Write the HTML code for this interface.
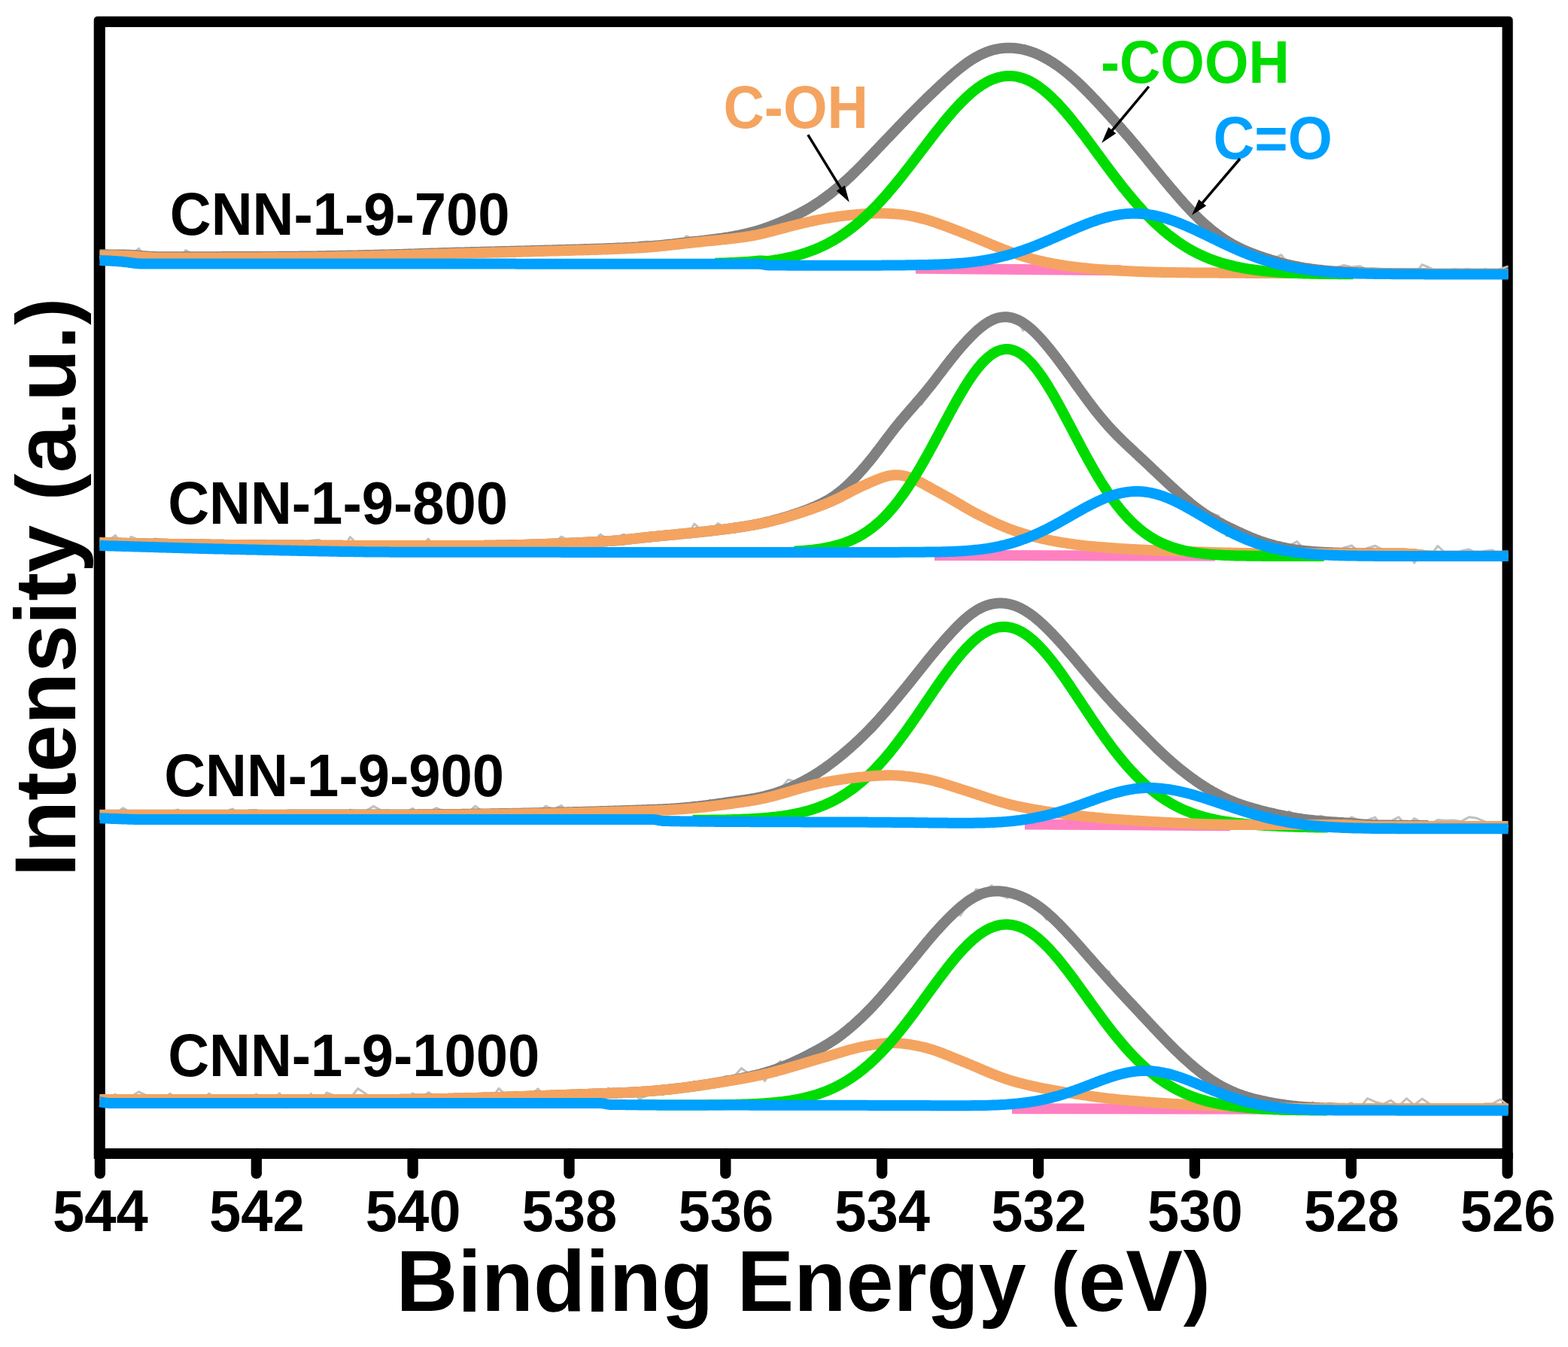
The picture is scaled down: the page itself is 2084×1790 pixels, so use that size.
<!DOCTYPE html>
<html><head><meta charset="utf-8"><title>XPS O 1s spectra</title>
<style>html,body{margin:0;padding:0;background:#fff}svg{display:block}text{font-family:"Liberation Sans",sans-serif;font-weight:bold}</style>
</head><body>
<svg xmlns="http://www.w3.org/2000/svg" width="2084" height="1790" viewBox="0 0 2084 1790">
<rect x="0" y="0" width="2084" height="1790" fill="#fff"/>
<path fill="#000" fill-rule="evenodd" d="M124.7,1540 L124.7,27.2 Q124.7,21.7 130.2,21.7 L2005.2,21.7 Q2010.7,21.7 2010.7,27.2 L2010.7,1540 Z M139.8,36 L1996.5,36 L1996.5,1526 L139.8,1526 Z"/>
<line x1="132.9" y1="1533.0" x2="132.9" y2="1559.4" stroke="#000" stroke-width="14.3" stroke-linecap="round"/>
<text transform="translate(133.4,1636.0) scale(1,1.035)" font-size="76" fill="#000" text-anchor="middle">544</text>
<line x1="340.8" y1="1533.0" x2="340.8" y2="1559.4" stroke="#000" stroke-width="14.3" stroke-linecap="round"/>
<text transform="translate(341.3,1636.0) scale(1,1.035)" font-size="76" fill="#000" text-anchor="middle">542</text>
<line x1="548.6" y1="1533.0" x2="548.6" y2="1559.4" stroke="#000" stroke-width="14.3" stroke-linecap="round"/>
<text transform="translate(549.1,1636.0) scale(1,1.035)" font-size="76" fill="#000" text-anchor="middle">540</text>
<line x1="756.5" y1="1533.0" x2="756.5" y2="1559.4" stroke="#000" stroke-width="14.3" stroke-linecap="round"/>
<text transform="translate(757.0,1636.0) scale(1,1.035)" font-size="76" fill="#000" text-anchor="middle">538</text>
<line x1="964.3" y1="1533.0" x2="964.3" y2="1559.4" stroke="#000" stroke-width="14.3" stroke-linecap="round"/>
<text transform="translate(964.8,1636.0) scale(1,1.035)" font-size="76" fill="#000" text-anchor="middle">536</text>
<line x1="1172.2" y1="1533.0" x2="1172.2" y2="1559.4" stroke="#000" stroke-width="14.3" stroke-linecap="round"/>
<text transform="translate(1172.7,1636.0) scale(1,1.035)" font-size="76" fill="#000" text-anchor="middle">534</text>
<line x1="1380.1" y1="1533.0" x2="1380.1" y2="1559.4" stroke="#000" stroke-width="14.3" stroke-linecap="round"/>
<text transform="translate(1380.6,1636.0) scale(1,1.035)" font-size="76" fill="#000" text-anchor="middle">532</text>
<line x1="1587.9" y1="1533.0" x2="1587.9" y2="1559.4" stroke="#000" stroke-width="14.3" stroke-linecap="round"/>
<text transform="translate(1588.4,1636.0) scale(1,1.035)" font-size="76" fill="#000" text-anchor="middle">530</text>
<line x1="1795.8" y1="1533.0" x2="1795.8" y2="1559.4" stroke="#000" stroke-width="14.3" stroke-linecap="round"/>
<text transform="translate(1796.3,1636.0) scale(1,1.035)" font-size="76" fill="#000" text-anchor="middle">528</text>
<line x1="2003.6" y1="1533.0" x2="2003.6" y2="1559.4" stroke="#000" stroke-width="14.3" stroke-linecap="round"/>
<text transform="translate(2004.1,1636.0) scale(1,1.035)" font-size="76" fill="#000" text-anchor="middle">526</text>
<g fill="none" stroke-linejoin="round" stroke-linecap="butt">
<path d="M132.5,342.5 L142.9,334.7 L153.3,335.1 L163.7,333.3 L174.1,340.4 L184.5,330.0 L194.9,345.1 L205.3,336.9 L215.7,340.9 L226.1,338.9 L236.5,344.9 L246.9,332.5 L257.3,338.6 L267.7,338.4 L278.1,343.7 L288.5,335.8 L298.9,339.0 L309.3,336.5 L319.7,339.7 L330.1,341.6 L340.5,335.6 L350.9,343.4 L361.3,342.5 L371.7,341.1 L382.1,342.4 L392.5,336.8 L402.9,338.7 L413.3,335.7 L423.7,337.9 L434.1,340.5 L444.5,336.0 L454.9,336.9 L465.3,335.6 L475.7,334.9 L486.1,335.3 L496.5,337.3 L506.9,333.2 L517.3,337.7 L527.7,342.4 L538.1,338.8 L548.5,335.3 L558.9,332.5 L569.3,332.6 L579.7,340.8 L590.1,334.8 L600.5,332.1 L610.9,334.7 L621.3,341.1 L631.7,333.9 L642.1,335.4 L652.5,334.0 L662.9,331.5 L673.3,328.5 L683.7,331.0 L694.1,331.2 L704.5,333.7 L714.9,334.3 L725.3,334.3 L735.7,331.8 L746.1,333.6 L756.5,327.6 L766.9,334.3 L777.3,331.4 L787.7,328.3 L798.1,330.7 L808.5,328.3 L818.9,332.2 L829.3,333.1 L839.7,334.9 L850.1,321.8 L860.5,320.9 L870.9,323.3 L881.3,324.6 L891.7,326.0 L902.1,322.9 L912.5,313.7 L922.9,318.8 L933.3,321.7 L943.7,318.6 L954.1,319.3 L964.5,314.4 L974.9,312.8 L985.3,312.3 L995.7,310.9 L1006.1,307.4 L1016.5,303.8 L1026.9,297.2 L1037.3,296.7 L1047.7,291.3 L1058.1,289.9 L1068.5,284.7 L1078.9,275.1 L1089.3,266.4 L1099.7,258.1 L1110.1,253.6 L1120.5,243.5 L1130.9,232.6 L1141.3,223.8 L1151.7,210.8 L1162.1,204.5 L1172.5,189.6 L1182.9,184.6 L1193.3,170.9 L1203.7,160.7 L1214.1,144.2 L1224.5,138.2 L1234.9,130.1 L1245.3,114.3 L1255.7,107.1 L1266.1,98.9 L1276.5,85.4 L1286.9,83.6 L1297.3,78.9 L1307.7,67.7 L1318.1,68.2 L1328.5,60.0 L1338.9,63.6 L1349.3,58.4 L1359.7,69.7 L1370.1,70.1 L1380.5,72.7 L1390.9,75.4 L1401.3,88.9 L1411.7,98.8 L1422.1,93.7 L1432.5,113.9 L1442.9,125.3 L1453.3,131.5 L1463.7,137.2 L1474.1,155.8 L1484.5,163.8 L1494.9,174.1 L1505.3,184.0 L1515.7,202.7 L1526.1,216.2 L1536.5,224.0 L1546.9,240.7 L1557.3,247.3 L1567.7,266.2 L1578.1,275.1 L1588.5,285.1 L1598.9,295.4 L1609.3,307.8 L1619.7,315.4 L1630.1,321.7 L1640.5,326.5 L1650.9,331.4 L1661.3,337.3 L1671.7,339.5 L1682.1,344.2 L1692.5,343.6 L1702.9,338.7 L1713.3,353.1 L1723.7,359.0 L1734.1,354.4 L1744.5,353.6 L1754.9,354.3 L1765.3,355.0 L1775.7,355.9 L1786.1,352.4 L1796.5,355.0 L1806.9,353.7 L1817.3,358.4 L1827.7,356.7 L1838.1,359.6 L1848.5,357.4 L1858.9,361.6 L1869.3,358.9 L1879.7,365.9 L1890.1,351.6 L1900.5,356.0 L1910.9,361.5 L1921.3,367.2 L1931.7,357.5 L1942.1,358.5 L1952.5,357.6 L1962.9,363.0 L1973.3,357.4 L1983.7,360.8 L1994.1,357.3 L2004.5,353.9" stroke="#c0c0c0" stroke-width="3" />
<path d="M1217.0,356.8 L1490.0,359.3" stroke="#ff80c0" stroke-width="14" />
<path d="M132.5,338.3 L134.5,338.3 L136.5,338.3 L138.5,338.3 L140.5,338.3 L142.5,338.3 L144.5,338.4 L146.5,338.4 L148.5,338.4 L150.5,338.4 L152.5,338.4 L154.5,338.4 L156.5,338.4 L158.5,338.5 L160.5,338.5 L162.5,338.5 L164.5,338.6 L166.5,338.6 L168.5,338.7 L170.5,338.7 L172.5,338.8 L174.5,338.9 L176.5,339.0 L178.5,339.1 L180.5,339.2 L182.5,339.4 L184.5,339.6 L186.5,339.7 L188.5,339.9 L190.5,340.1 L192.5,340.3 L194.5,340.5 L196.5,340.6 L198.5,340.8 L200.5,340.9 L202.5,341.0 L204.5,341.1 L206.5,341.1 L208.5,341.2 L210.5,341.2 L212.5,341.2 L214.5,341.3 L216.5,341.3 L218.5,341.3 L220.5,341.3 L222.5,341.3 L224.5,341.3 L226.5,341.3 L228.5,341.3 L230.5,341.3 L232.5,341.3 L234.5,341.3 L236.5,341.3 L238.5,341.3 L240.5,341.3 L242.5,341.3 L244.5,341.3 L246.5,341.3 L248.5,341.3 L250.5,341.3 L252.5,341.2 L254.5,341.2 L256.5,341.2 L258.5,341.2 L260.5,341.2 L262.5,341.2 L264.5,341.2 L266.5,341.2 L268.5,341.2 L270.5,341.2 L272.5,341.2 L274.5,341.2 L276.5,341.2 L278.5,341.2 L280.5,341.2 L282.5,341.2 L284.5,341.2 L286.5,341.2 L288.5,341.2 L290.5,341.2 L292.5,341.2 L294.5,341.1 L296.5,341.1 L298.5,341.1 L300.5,341.1 L302.5,341.1 L304.5,341.1 L306.5,341.1 L308.5,341.1 L310.5,341.1 L312.5,341.1 L314.5,341.1 L316.5,341.1 L318.5,341.1 L320.5,341.1 L322.5,341.1 L324.5,341.0 L326.5,341.0 L328.5,341.0 L330.5,341.0 L332.5,341.0 L334.5,341.0 L336.5,341.0 L338.5,341.0 L340.5,341.0 L342.5,341.0 L344.5,341.0 L346.5,341.0 L348.5,340.9 L350.5,340.9 L352.5,340.9 L354.5,340.9 L356.5,340.9 L358.5,340.9 L360.5,340.9 L362.5,340.9 L364.5,340.9 L366.5,340.9 L368.5,340.9 L370.5,340.8 L372.5,340.8 L374.5,340.8 L376.5,340.8 L378.5,340.8 L380.5,340.8 L382.5,340.8 L384.5,340.8 L386.5,340.7 L388.5,340.7 L390.5,340.7 L392.5,340.7 L394.5,340.7 L396.5,340.7 L398.5,340.6 L400.5,340.6 L402.5,340.6 L404.5,340.6 L406.5,340.6 L408.5,340.5 L410.5,340.5 L412.5,340.5 L414.5,340.5 L416.5,340.4 L418.5,340.4 L420.5,340.4 L422.5,340.3 L424.5,340.3 L426.5,340.3 L428.5,340.2 L430.5,340.2 L432.5,340.2 L434.5,340.1 L436.5,340.1 L438.5,340.1 L440.5,340.0 L442.5,340.0 L444.5,340.0 L446.5,339.9 L448.5,339.9 L450.5,339.8 L452.5,339.8 L454.5,339.8 L456.5,339.7 L458.5,339.7 L460.5,339.6 L462.5,339.6 L464.5,339.6 L466.5,339.5 L468.5,339.5 L470.5,339.4 L472.5,339.4 L474.5,339.4 L476.5,339.3 L478.5,339.3 L480.5,339.2 L482.5,339.2 L484.5,339.1 L486.5,339.1 L488.5,339.0 L490.5,339.0 L492.5,339.0 L494.5,338.9 L496.5,338.9 L498.5,338.8 L500.5,338.8 L502.5,338.7 L504.5,338.7 L506.5,338.6 L508.5,338.6 L510.5,338.5 L512.5,338.5 L514.5,338.4 L516.5,338.4 L518.5,338.3 L520.5,338.3 L522.5,338.2 L524.5,338.2 L526.5,338.1 L528.5,338.0 L530.5,338.0 L532.5,337.9 L534.5,337.9 L536.5,337.8 L538.5,337.7 L540.5,337.7 L542.5,337.6 L544.5,337.5 L546.5,337.5 L548.5,337.4 L550.5,337.4 L552.5,337.3 L554.5,337.2 L556.5,337.2 L558.5,337.1 L560.5,337.0 L562.5,337.0 L564.5,336.9 L566.5,336.8 L568.5,336.8 L570.5,336.7 L572.5,336.6 L574.5,336.6 L576.5,336.5 L578.5,336.5 L580.5,336.4 L582.5,336.3 L584.5,336.3 L586.5,336.2 L588.5,336.1 L590.5,336.1 L592.5,336.0 L594.5,336.0 L596.5,335.9 L598.5,335.9 L600.5,335.8 L602.5,335.7 L604.5,335.7 L606.5,335.6 L608.5,335.6 L610.5,335.5 L612.5,335.5 L614.5,335.4 L616.5,335.4 L618.5,335.3 L620.5,335.3 L622.5,335.2 L624.5,335.2 L626.5,335.1 L628.5,335.1 L630.5,335.0 L632.5,335.0 L634.5,334.9 L636.5,334.9 L638.5,334.8 L640.5,334.8 L642.5,334.7 L644.5,334.7 L646.5,334.6 L648.5,334.6 L650.5,334.5 L652.5,334.5 L654.5,334.4 L656.5,334.4 L658.5,334.3 L660.5,334.3 L662.5,334.2 L664.5,334.2 L666.5,334.1 L668.5,334.1 L670.5,334.0 L672.5,334.0 L674.5,333.9 L676.5,333.9 L678.5,333.8 L680.5,333.8 L682.5,333.7 L684.5,333.7 L686.5,333.6 L688.5,333.6 L690.5,333.5 L692.5,333.5 L694.5,333.4 L696.5,333.4 L698.5,333.3 L700.5,333.3 L702.5,333.2 L704.5,333.2 L706.5,333.1 L708.5,333.1 L710.5,333.0 L712.5,332.9 L714.5,332.9 L716.5,332.8 L718.5,332.8 L720.5,332.7 L722.5,332.7 L724.5,332.6 L726.5,332.6 L728.5,332.5 L730.5,332.4 L732.5,332.4 L734.5,332.3 L736.5,332.3 L738.5,332.2 L740.5,332.2 L742.5,332.1 L744.5,332.0 L746.5,332.0 L748.5,331.9 L750.5,331.9 L752.5,331.8 L754.5,331.8 L756.5,331.7 L758.5,331.7 L760.5,331.6 L762.5,331.5 L764.5,331.5 L766.5,331.4 L768.5,331.4 L770.5,331.3 L772.5,331.3 L774.5,331.2 L776.5,331.1 L778.5,331.1 L780.5,331.0 L782.5,331.0 L784.5,330.9 L786.5,330.8 L788.5,330.8 L790.5,330.7 L792.5,330.7 L794.5,330.6 L796.5,330.5 L798.5,330.5 L800.5,330.4 L802.5,330.3 L804.5,330.2 L806.5,330.2 L808.5,330.1 L810.5,330.0 L812.5,330.0 L814.5,329.9 L816.5,329.8 L818.5,329.7 L820.5,329.6 L822.5,329.6 L824.5,329.5 L826.5,329.4 L828.5,329.3 L830.5,329.2 L832.5,329.1 L834.5,329.0 L836.5,328.9 L838.5,328.8 L840.5,328.7 L842.5,328.6 L844.5,328.5 L846.5,328.4 L848.5,328.3 L850.5,328.2 L852.5,328.0 L854.5,327.9 L856.5,327.8 L858.5,327.6 L860.5,327.5 L862.5,327.3 L864.5,327.2 L866.5,327.0 L868.5,326.8 L870.5,326.6 L872.5,326.5 L874.5,326.3 L876.5,326.1 L878.5,325.9 L880.5,325.7 L882.5,325.5 L884.5,325.2 L886.5,325.0 L888.5,324.8 L890.5,324.6 L892.5,324.4 L894.5,324.2 L896.5,323.9 L898.5,323.7 L900.5,323.5 L902.5,323.3 L904.5,323.0 L906.5,322.8 L908.5,322.6 L910.5,322.4 L912.5,322.1 L914.5,321.9 L916.5,321.7 L918.5,321.5 L920.5,321.2 L922.5,321.0 L924.5,320.8 L926.5,320.6 L928.5,320.4 L930.5,320.1 L932.5,319.9 L934.5,319.7 L936.5,319.5 L938.5,319.2 L940.5,319.0 L942.5,318.8 L944.5,318.5 L946.5,318.3 L948.5,318.0 L950.5,317.8 L952.5,317.5 L954.5,317.2 L956.5,316.9 L958.5,316.7 L960.5,316.4 L962.5,316.0 L964.5,315.7 L966.5,315.4 L968.5,315.1 L970.5,314.7 L972.5,314.4 L974.5,314.0 L976.5,313.6 L978.5,313.2 L980.5,312.9 L982.5,312.5 L984.5,312.0 L986.5,311.6 L988.5,311.2 L990.5,310.7 L992.5,310.3 L994.5,309.8 L996.5,309.3 L998.5,308.8 L1000.5,308.3 L1002.5,307.8 L1004.5,307.2 L1006.5,306.6 L1008.5,306.0 L1010.5,305.4 L1012.5,304.8 L1014.5,304.1 L1016.5,303.4 L1018.5,302.7 L1020.5,302.0 L1022.5,301.2 L1024.5,300.5 L1026.5,299.7 L1028.5,298.9 L1030.5,298.2 L1032.5,297.4 L1034.5,296.5 L1036.5,295.7 L1038.5,294.9 L1040.5,294.0 L1042.5,293.2 L1044.5,292.3 L1046.5,291.4 L1048.5,290.5 L1050.5,289.6 L1052.5,288.7 L1054.5,287.7 L1056.5,286.7 L1058.5,285.7 L1060.5,284.7 L1062.5,283.7 L1064.5,282.6 L1066.5,281.6 L1068.5,280.5 L1070.5,279.4 L1072.5,278.2 L1074.5,277.1 L1076.5,275.9 L1078.5,274.7 L1080.5,273.5 L1082.5,272.2 L1084.5,270.9 L1086.5,269.6 L1088.5,268.3 L1090.5,266.9 L1092.5,265.5 L1094.5,264.1 L1096.5,262.7 L1098.5,261.2 L1100.5,259.7 L1102.5,258.2 L1104.5,256.6 L1106.5,255.0 L1108.5,253.4 L1110.5,251.8 L1112.5,250.1 L1114.5,248.5 L1116.5,246.8 L1118.5,245.0 L1120.5,243.3 L1122.5,241.5 L1124.5,239.7 L1126.5,237.9 L1128.5,236.0 L1130.5,234.2 L1132.5,232.3 L1134.5,230.3 L1136.5,228.4 L1138.5,226.4 L1140.5,224.4 L1142.5,222.4 L1144.5,220.4 L1146.5,218.4 L1148.5,216.3 L1150.5,214.2 L1152.5,212.1 L1154.5,210.0 L1156.5,208.0 L1158.5,205.9 L1160.5,203.8 L1162.5,201.7 L1164.5,199.6 L1166.5,197.5 L1168.5,195.4 L1170.5,193.3 L1172.5,191.2 L1174.5,189.1 L1176.5,187.0 L1178.5,184.9 L1180.5,182.9 L1182.5,180.8 L1184.5,178.7 L1186.5,176.6 L1188.5,174.5 L1190.5,172.4 L1192.5,170.3 L1194.5,168.2 L1196.5,166.1 L1198.5,164.0 L1200.5,162.0 L1202.5,159.9 L1204.5,157.8 L1206.5,155.7 L1208.5,153.7 L1210.5,151.6 L1212.5,149.6 L1214.5,147.6 L1216.5,145.6 L1218.5,143.6 L1220.5,141.6 L1222.5,139.6 L1224.5,137.6 L1226.5,135.7 L1228.5,133.7 L1230.5,131.8 L1232.5,129.8 L1234.5,127.9 L1236.5,126.0 L1238.5,124.1 L1240.5,122.2 L1242.5,120.3 L1244.5,118.4 L1246.5,116.5 L1248.5,114.6 L1250.5,112.8 L1252.5,110.9 L1254.5,109.1 L1256.5,107.3 L1258.5,105.5 L1260.5,103.7 L1262.5,101.9 L1264.5,100.2 L1266.5,98.4 L1268.5,96.7 L1270.5,95.1 L1272.5,93.4 L1274.5,91.8 L1276.5,90.2 L1278.5,88.6 L1280.5,87.1 L1282.5,85.6 L1284.5,84.2 L1286.5,82.7 L1288.5,81.4 L1290.5,80.0 L1292.5,78.8 L1294.5,77.5 L1296.5,76.4 L1298.5,75.2 L1300.5,74.2 L1302.5,73.1 L1304.5,72.2 L1306.5,71.2 L1308.5,70.4 L1310.5,69.6 L1312.5,68.8 L1314.5,68.1 L1316.5,67.4 L1318.5,66.8 L1320.5,66.3 L1322.5,65.8 L1324.5,65.4 L1326.5,65.0 L1328.5,64.6 L1330.5,64.3 L1332.5,64.1 L1334.5,63.9 L1336.5,63.8 L1338.5,63.7 L1340.5,63.7 L1342.5,63.7 L1344.5,63.7 L1346.5,63.9 L1348.5,64.0 L1350.5,64.2 L1352.5,64.5 L1354.5,64.8 L1356.5,65.1 L1358.5,65.5 L1360.5,65.9 L1362.5,66.4 L1364.5,67.0 L1366.5,67.5 L1368.5,68.2 L1370.5,68.8 L1372.5,69.5 L1374.5,70.3 L1376.5,71.1 L1378.5,71.9 L1380.5,72.8 L1382.5,73.7 L1384.5,74.7 L1386.5,75.7 L1388.5,76.8 L1390.5,77.9 L1392.5,79.0 L1394.5,80.2 L1396.5,81.4 L1398.5,82.6 L1400.5,83.9 L1402.5,85.3 L1404.5,86.6 L1406.5,88.0 L1408.5,89.5 L1410.5,91.0 L1412.5,92.5 L1414.5,94.0 L1416.5,95.6 L1418.5,97.2 L1420.5,98.9 L1422.5,100.6 L1424.5,102.3 L1426.5,104.1 L1428.5,105.9 L1430.5,107.7 L1432.5,109.5 L1434.5,111.4 L1436.5,113.3 L1438.5,115.3 L1440.5,117.2 L1442.5,119.2 L1444.5,121.2 L1446.5,123.2 L1448.5,125.3 L1450.5,127.4 L1452.5,129.5 L1454.5,131.6 L1456.5,133.7 L1458.5,135.8 L1460.5,138.0 L1462.5,140.1 L1464.5,142.3 L1466.5,144.5 L1468.5,146.6 L1470.5,148.8 L1472.5,151.0 L1474.5,153.2 L1476.5,155.5 L1478.5,157.7 L1480.5,159.9 L1482.5,162.1 L1484.5,164.4 L1486.5,166.6 L1488.5,168.9 L1490.5,171.2 L1492.5,173.5 L1494.5,175.8 L1496.5,178.1 L1498.5,180.4 L1500.5,182.7 L1502.5,185.0 L1504.5,187.4 L1506.5,189.8 L1508.5,192.1 L1510.5,194.5 L1512.5,196.9 L1514.5,199.3 L1516.5,201.7 L1518.5,204.2 L1520.5,206.6 L1522.5,209.0 L1524.5,211.5 L1526.5,213.9 L1528.5,216.4 L1530.5,218.9 L1532.5,221.3 L1534.5,223.8 L1536.5,226.2 L1538.5,228.7 L1540.5,231.1 L1542.5,233.5 L1544.5,236.0 L1546.5,238.4 L1548.5,240.8 L1550.5,243.2 L1552.5,245.6 L1554.5,248.0 L1556.5,250.4 L1558.5,252.7 L1560.5,255.1 L1562.5,257.4 L1564.5,259.7 L1566.5,262.0 L1568.5,264.3 L1570.5,266.5 L1572.5,268.8 L1574.5,271.0 L1576.5,273.2 L1578.5,275.4 L1580.5,277.5 L1582.5,279.6 L1584.5,281.7 L1586.5,283.8 L1588.5,285.8 L1590.5,287.8 L1592.5,289.7 L1594.5,291.7 L1596.5,293.5 L1598.5,295.4 L1600.5,297.2 L1602.5,299.0 L1604.5,300.7 L1606.5,302.4 L1608.5,304.1 L1610.5,305.8 L1612.5,307.4 L1614.5,308.9 L1616.5,310.4 L1618.5,311.9 L1620.5,313.4 L1622.5,314.8 L1624.5,316.2 L1626.5,317.5 L1628.5,318.9 L1630.5,320.1 L1632.5,321.4 L1634.5,322.6 L1636.5,323.7 L1638.5,324.9 L1640.5,326.0 L1642.5,327.0 L1644.5,328.1 L1646.5,329.1 L1648.5,330.0 L1650.5,331.0 L1652.5,331.9 L1654.5,332.8 L1656.5,333.6 L1658.5,334.5 L1660.5,335.3 L1662.5,336.1 L1664.5,336.8 L1666.5,337.6 L1668.5,338.3 L1670.5,339.1 L1672.5,339.8 L1674.5,340.5 L1676.5,341.1 L1678.5,341.8 L1680.5,342.5 L1682.5,343.1 L1684.5,343.8 L1686.5,344.4 L1688.5,345.1 L1690.5,345.7 L1692.5,346.3 L1694.5,346.9 L1696.5,347.5 L1698.5,348.1 L1700.5,348.6 L1702.5,349.2 L1704.5,349.7 L1706.5,350.2 L1708.5,350.8 L1710.5,351.3 L1712.5,351.7 L1714.5,352.2 L1716.5,352.7 L1718.5,353.1 L1720.5,353.5 L1722.5,353.9 L1724.5,354.3 L1726.5,354.7 L1728.5,355.1 L1730.5,355.4 L1732.5,355.8 L1734.5,356.1 L1736.5,356.4 L1738.5,356.7 L1740.5,357.0 L1742.5,357.3 L1744.5,357.6 L1746.5,357.8 L1748.5,358.1 L1750.5,358.3 L1752.5,358.6 L1754.5,358.8 L1756.5,359.0 L1758.5,359.2 L1760.5,359.4 L1762.5,359.6 L1764.5,359.8 L1766.5,359.9 L1768.5,360.1 L1770.5,360.3 L1772.5,360.4 L1774.5,360.6 L1776.5,360.7 L1778.5,360.8 L1780.5,361.0 L1782.5,361.1 L1784.5,361.2 L1786.5,361.3 L1788.5,361.4 L1790.5,361.5 L1792.5,361.6 L1794.5,361.7 L1796.5,361.8 L1798.5,361.9 L1800.5,361.9 L1802.5,362.0 L1804.5,362.1 L1806.5,362.2 L1808.5,362.2 L1810.5,362.3 L1812.5,362.4 L1814.5,362.4 L1816.5,362.5 L1818.5,362.5 L1820.5,362.6 L1822.5,362.6 L1824.5,362.6 L1826.5,362.7 L1828.5,362.7 L1830.5,362.8 L1832.5,362.8 L1834.5,362.8 L1836.5,362.9 L1838.5,362.9 L1840.5,362.9 L1842.5,362.9 L1844.5,363.0 L1846.5,363.0 L1848.5,363.0 L1850.5,363.0 L1852.5,363.1 L1854.5,363.1 L1856.5,363.1 L1858.5,363.1 L1860.5,363.1 L1862.5,363.1 L1864.5,363.1 L1866.5,363.2 L1868.5,363.2 L1870.5,363.2 L1872.5,363.2 L1874.5,363.2 L1876.5,363.2 L1878.5,363.2 L1880.5,363.2 L1882.5,363.2 L1884.5,363.3 L1886.5,363.3 L1888.5,363.3 L1890.5,363.3 L1892.5,363.3 L1894.5,363.3 L1896.5,363.3 L1898.5,363.3" stroke="#808080" stroke-width="14" />
<path d="M132.5,339.5 L134.5,339.5 L136.5,339.5 L138.5,339.5 L140.5,339.5 L142.5,339.5 L144.5,339.6 L146.5,339.6 L148.5,339.6 L150.5,339.6 L152.5,339.6 L154.5,339.6 L156.5,339.6 L158.5,339.7 L160.5,339.7 L162.5,339.7 L164.5,339.8 L166.5,339.8 L168.5,339.9 L170.5,339.9 L172.5,340.0 L174.5,340.1 L176.5,340.2 L178.5,340.3 L180.5,340.4 L182.5,340.6 L184.5,340.8 L186.5,340.9 L188.5,341.1 L190.5,341.3 L192.5,341.5 L194.5,341.7 L196.5,341.8 L198.5,342.0 L200.5,342.1 L202.5,342.2 L204.5,342.3 L206.5,342.3 L208.5,342.4 L210.5,342.4 L212.5,342.4 L214.5,342.5 L216.5,342.5 L218.5,342.5 L220.5,342.5 L222.5,342.5 L224.5,342.5 L226.5,342.5 L228.5,342.5 L230.5,342.5 L232.5,342.5 L234.5,342.5 L236.5,342.5 L238.5,342.5 L240.5,342.5 L242.5,342.5 L244.5,342.5 L246.5,342.5 L248.5,342.5 L250.5,342.5 L252.5,342.4 L254.5,342.4 L256.5,342.4 L258.5,342.4 L260.5,342.4 L262.5,342.4 L264.5,342.4 L266.5,342.4 L268.5,342.4 L270.5,342.4 L272.5,342.4 L274.5,342.4 L276.5,342.4 L278.5,342.4 L280.5,342.4 L282.5,342.4 L284.5,342.4 L286.5,342.4 L288.5,342.4 L290.5,342.4 L292.5,342.4 L294.5,342.3 L296.5,342.3 L298.5,342.3 L300.5,342.3 L302.5,342.3 L304.5,342.3 L306.5,342.3 L308.5,342.3 L310.5,342.3 L312.5,342.3 L314.5,342.3 L316.5,342.3 L318.5,342.3 L320.5,342.3 L322.5,342.3 L324.5,342.2 L326.5,342.2 L328.5,342.2 L330.5,342.2 L332.5,342.2 L334.5,342.2 L336.5,342.2 L338.5,342.2 L340.5,342.2 L342.5,342.2 L344.5,342.2 L346.5,342.2 L348.5,342.1 L350.5,342.1 L352.5,342.1 L354.5,342.1 L356.5,342.1 L358.5,342.1 L360.5,342.1 L362.5,342.1 L364.5,342.1 L366.5,342.1 L368.5,342.1 L370.5,342.0 L372.5,342.0 L374.5,342.0 L376.5,342.0 L378.5,342.0 L380.5,342.0 L382.5,342.0 L384.5,342.0 L386.5,341.9 L388.5,341.9 L390.5,341.9 L392.5,341.9 L394.5,341.9 L396.5,341.9 L398.5,341.8 L400.5,341.8 L402.5,341.8 L404.5,341.8 L406.5,341.8 L408.5,341.7 L410.5,341.7 L412.5,341.7 L414.5,341.7 L416.5,341.6 L418.5,341.6 L420.5,341.6 L422.5,341.5 L424.5,341.5 L426.5,341.5 L428.5,341.4 L430.5,341.4 L432.5,341.4 L434.5,341.3 L436.5,341.3 L438.5,341.3 L440.5,341.2 L442.5,341.2 L444.5,341.2 L446.5,341.1 L448.5,341.1 L450.5,341.0 L452.5,341.0 L454.5,341.0 L456.5,340.9 L458.5,340.9 L460.5,340.8 L462.5,340.8 L464.5,340.8 L466.5,340.7 L468.5,340.7 L470.5,340.6 L472.5,340.6 L474.5,340.6 L476.5,340.5 L478.5,340.5 L480.5,340.4 L482.5,340.4 L484.5,340.3 L486.5,340.3 L488.5,340.2 L490.5,340.2 L492.5,340.2 L494.5,340.1 L496.5,340.1 L498.5,340.0 L500.5,340.0 L502.5,339.9 L504.5,339.9 L506.5,339.8 L508.5,339.8 L510.5,339.7 L512.5,339.7 L514.5,339.6 L516.5,339.6 L518.5,339.5 L520.5,339.5 L522.5,339.4 L524.5,339.4 L526.5,339.3 L528.5,339.2 L530.5,339.2 L532.5,339.1 L534.5,339.1 L536.5,339.0 L538.5,338.9 L540.5,338.9 L542.5,338.8 L544.5,338.7 L546.5,338.7 L548.5,338.6 L550.5,338.6 L552.5,338.5 L554.5,338.4 L556.5,338.4 L558.5,338.3 L560.5,338.2 L562.5,338.2 L564.5,338.1 L566.5,338.0 L568.5,338.0 L570.5,337.9 L572.5,337.8 L574.5,337.8 L576.5,337.7 L578.5,337.7 L580.5,337.6 L582.5,337.5 L584.5,337.5 L586.5,337.4 L588.5,337.3 L590.5,337.3 L592.5,337.2 L594.5,337.2 L596.5,337.1 L598.5,337.1 L600.5,337.0 L602.5,336.9 L604.5,336.9 L606.5,336.8 L608.5,336.8 L610.5,336.7 L612.5,336.7 L614.5,336.6 L616.5,336.6 L618.5,336.5 L620.5,336.5 L622.5,336.4 L624.5,336.4 L626.5,336.3 L628.5,336.3 L630.5,336.2 L632.5,336.2 L634.5,336.1 L636.5,336.1 L638.5,336.0 L640.5,336.0 L642.5,335.9 L644.5,335.9 L646.5,335.8 L648.5,335.8 L650.5,335.7 L652.5,335.7 L654.5,335.6 L656.5,335.6 L658.5,335.5 L660.5,335.5 L662.5,335.4 L664.5,335.4 L666.5,335.3 L668.5,335.3 L670.5,335.2 L672.5,335.2 L674.5,335.1 L676.5,335.1 L678.5,335.0 L680.5,335.0 L682.5,334.9 L684.5,334.9 L686.5,334.8 L688.5,334.8 L690.5,334.7 L692.5,334.7 L694.5,334.6 L696.5,334.6 L698.5,334.5 L700.5,334.5 L702.5,334.4 L704.5,334.4 L706.5,334.3 L708.5,334.3 L710.5,334.2 L712.5,334.1 L714.5,334.1 L716.5,334.0 L718.5,334.0 L720.5,333.9 L722.5,333.9 L724.5,333.8 L726.5,333.8 L728.5,333.7 L730.5,333.6 L732.5,333.6 L734.5,333.5 L736.5,333.5 L738.5,333.4 L740.5,333.4 L742.5,333.3 L744.5,333.2 L746.5,333.2 L748.5,333.1 L750.5,333.1 L752.5,333.0 L754.5,333.0 L756.5,332.9 L758.5,332.9 L760.5,332.8 L762.5,332.7 L764.5,332.7 L766.5,332.6 L768.5,332.6 L770.5,332.5 L772.5,332.5 L774.5,332.4 L776.5,332.3 L778.5,332.3 L780.5,332.2 L782.5,332.2 L784.5,332.1 L786.5,332.0 L788.5,332.0 L790.5,331.9 L792.5,331.9 L794.5,331.8 L796.5,331.7 L798.5,331.7 L800.5,331.6 L802.5,331.5 L804.5,331.5 L806.5,331.4 L808.5,331.3 L810.5,331.2 L812.5,331.2 L814.5,331.1 L816.5,331.0 L818.5,330.9 L820.5,330.8 L822.5,330.8 L824.5,330.7 L826.5,330.6 L828.5,330.5 L830.5,330.4 L832.5,330.3 L834.5,330.2 L836.5,330.1 L838.5,330.1 L840.5,330.0 L842.5,329.9 L844.5,329.7 L846.5,329.6 L848.5,329.5 L850.5,329.4 L852.5,329.3 L854.5,329.2 L856.5,329.0 L858.5,328.9 L860.5,328.7 L862.5,328.6 L864.5,328.4 L866.5,328.3 L868.5,328.1 L870.5,327.9 L872.5,327.7 L874.5,327.5 L876.5,327.3 L878.5,327.1 L880.5,326.9 L882.5,326.7 L884.5,326.5 L886.5,326.3 L888.5,326.1 L890.5,325.9 L892.5,325.7 L894.5,325.4 L896.5,325.2 L898.5,325.0 L900.5,324.8 L902.5,324.5 L904.5,324.3 L906.5,324.1 L908.5,323.9 L910.5,323.6 L912.5,323.4 L914.5,323.2 L916.5,323.0 L918.5,322.7 L920.5,322.5 L922.5,322.3 L924.5,322.1 L926.5,321.9 L928.5,321.7 L930.5,321.5 L932.5,321.3 L934.5,321.0 L936.5,320.8 L938.5,320.6 L940.5,320.4 L942.5,320.2 L944.5,320.1 L946.5,319.9 L948.5,319.7 L950.5,319.5 L952.5,319.3 L954.5,319.1 L956.5,318.9 L958.5,318.7 L960.5,318.4 L962.5,318.2 L964.5,318.0 L966.5,317.8 L968.5,317.6 L970.5,317.4 L972.5,317.1 L974.5,316.9 L976.5,316.7 L978.5,316.4 L980.5,316.2 L982.5,315.9 L984.5,315.7 L986.5,315.4 L988.5,315.1 L990.5,314.8 L992.5,314.5 L994.5,314.2 L996.5,313.9 L998.5,313.5 L1000.5,313.2 L1002.5,312.8 L1004.5,312.4 L1006.5,312.0 L1008.5,311.6 L1010.5,311.1 L1012.5,310.7 L1014.5,310.2 L1016.5,309.7 L1018.5,309.2 L1020.5,308.7 L1022.5,308.2 L1024.5,307.6 L1026.5,307.1 L1028.5,306.6 L1030.5,306.1 L1032.5,305.5 L1034.5,305.0 L1036.5,304.5 L1038.5,303.9 L1040.5,303.4 L1042.5,302.9 L1044.5,302.4 L1046.5,301.8 L1048.5,301.3 L1050.5,300.8 L1052.5,300.3 L1054.5,299.8 L1056.5,299.3 L1058.5,298.8 L1060.5,298.3 L1062.5,297.8 L1064.5,297.3 L1066.5,296.8 L1068.5,296.3 L1070.5,295.8 L1072.5,295.4 L1074.5,294.9 L1076.5,294.5 L1078.5,294.1 L1080.5,293.6 L1082.5,293.2 L1084.5,292.8 L1086.5,292.4 L1088.5,292.0 L1090.5,291.6 L1092.5,291.3 L1094.5,290.9 L1096.5,290.5 L1098.5,290.2 L1100.5,289.8 L1102.5,289.5 L1104.5,289.2 L1106.5,288.9 L1108.5,288.6 L1110.5,288.3 L1112.5,288.0 L1114.5,287.7 L1116.5,287.4 L1118.5,287.2 L1120.5,286.9 L1122.5,286.7 L1124.5,286.4 L1126.5,286.2 L1128.5,286.0 L1130.5,285.8 L1132.5,285.6 L1134.5,285.4 L1136.5,285.2 L1138.5,285.0 L1140.5,284.8 L1142.5,284.7 L1144.5,284.5 L1146.5,284.4 L1148.5,284.2 L1150.5,284.1 L1152.5,284.0 L1154.5,283.9 L1156.5,283.8 L1158.5,283.7 L1160.5,283.6 L1162.5,283.6 L1164.5,283.5 L1166.5,283.5 L1168.5,283.5 L1170.5,283.5 L1172.5,283.5 L1174.5,283.6 L1176.5,283.6 L1178.5,283.7 L1180.5,283.8 L1182.5,283.9 L1184.5,284.0 L1186.5,284.1 L1188.5,284.2 L1190.5,284.4 L1192.5,284.6 L1194.5,284.7 L1196.5,284.9 L1198.5,285.1 L1200.5,285.4 L1202.5,285.6 L1204.5,285.9 L1206.5,286.2 L1208.5,286.6 L1210.5,286.9 L1212.5,287.3 L1214.5,287.7 L1216.5,288.2 L1218.5,288.6 L1220.5,289.1 L1222.5,289.6 L1224.5,290.1 L1226.5,290.6 L1228.5,291.2 L1230.5,291.7 L1232.5,292.3 L1234.5,292.9 L1236.5,293.6 L1238.5,294.2 L1240.5,294.8 L1242.5,295.5 L1244.5,296.2 L1246.5,296.9 L1248.5,297.6 L1250.5,298.3 L1252.5,299.0 L1254.5,299.7 L1256.5,300.5 L1258.5,301.2 L1260.5,301.9 L1262.5,302.7 L1264.5,303.5 L1266.5,304.2 L1268.5,305.0 L1270.5,305.8 L1272.5,306.5 L1274.5,307.3 L1276.5,308.1 L1278.5,308.9 L1280.5,309.7 L1282.5,310.5 L1284.5,311.3 L1286.5,312.1 L1288.5,312.9 L1290.5,313.7 L1292.5,314.5 L1294.5,315.3 L1296.5,316.1 L1298.5,316.9 L1300.5,317.8 L1302.5,318.6 L1304.5,319.4 L1306.5,320.3 L1308.5,321.1 L1310.5,321.9 L1312.5,322.8 L1314.5,323.6 L1316.5,324.4 L1318.5,325.3 L1320.5,326.1 L1322.5,326.9 L1324.5,327.7 L1326.5,328.5 L1328.5,329.3 L1330.5,330.1 L1332.5,330.9 L1334.5,331.7 L1336.5,332.4 L1338.5,333.2 L1340.5,333.9 L1342.5,334.7 L1344.5,335.4 L1346.5,336.1 L1348.5,336.8 L1350.5,337.5 L1352.5,338.2 L1354.5,338.8 L1356.5,339.5 L1358.5,340.1 L1360.5,340.7 L1362.5,341.3 L1364.5,341.9 L1366.5,342.5 L1368.5,343.1 L1370.5,343.6 L1372.5,344.2 L1374.5,344.7 L1376.5,345.2 L1378.5,345.7 L1380.5,346.2 L1382.5,346.7 L1384.5,347.2 L1386.5,347.6 L1388.5,348.1 L1390.5,348.5 L1392.5,348.9 L1394.5,349.3 L1396.5,349.7 L1398.5,350.1 L1400.5,350.5 L1402.5,350.8 L1404.5,351.2 L1406.5,351.5 L1408.5,351.9 L1410.5,352.2 L1412.5,352.5 L1414.5,352.8 L1416.5,353.1 L1418.5,353.4 L1420.5,353.7 L1422.5,354.0 L1424.5,354.2 L1426.5,354.5 L1428.5,354.7 L1430.5,355.0 L1432.5,355.2 L1434.5,355.4 L1436.5,355.7 L1438.5,355.9 L1440.5,356.1 L1442.5,356.3 L1444.5,356.5 L1446.5,356.7 L1448.5,356.9 L1450.5,357.1 L1452.5,357.3 L1454.5,357.4 L1456.5,357.6 L1458.5,357.8 L1460.5,357.9 L1462.5,358.1 L1464.5,358.2 L1466.5,358.3 L1468.5,358.5 L1470.5,358.6 L1472.5,358.7 L1474.5,358.9 L1476.5,359.0 L1478.5,359.1 L1480.5,359.2 L1482.5,359.3 L1484.5,359.5 L1486.5,359.6 L1488.5,359.7 L1490.5,359.8 L1492.5,359.9 L1494.5,360.0 L1496.5,360.1 L1498.5,360.2 L1500.5,360.3 L1502.5,360.4 L1504.5,360.5 L1506.5,360.6 L1508.5,360.7 L1510.5,360.8 L1512.5,360.9 L1514.5,361.0 L1516.5,361.0 L1518.5,361.1 L1520.5,361.2 L1522.5,361.3 L1524.5,361.3 L1526.5,361.4 L1528.5,361.5 L1530.5,361.5 L1532.5,361.6 L1534.5,361.6 L1536.5,361.7 L1538.5,361.7 L1540.5,361.8 L1542.5,361.8 L1544.5,361.9 L1546.5,361.9 L1548.5,361.9 L1550.5,362.0 L1552.5,362.0 L1554.5,362.0 L1556.5,362.1 L1558.5,362.1 L1560.5,362.1 L1562.5,362.1 L1564.5,362.2 L1566.5,362.2 L1568.5,362.2 L1570.5,362.2 L1572.5,362.3 L1574.5,362.3 L1576.5,362.3 L1578.5,362.3 L1580.5,362.3 L1582.5,362.4 L1584.5,362.4 L1586.5,362.4 L1588.5,362.4 L1590.5,362.4 L1592.5,362.4 L1594.5,362.5 L1596.5,362.5 L1598.5,362.5 L1600.5,362.5 L1602.5,362.5 L1604.5,362.5 L1606.5,362.6 L1608.5,362.6 L1610.5,362.6 L1612.5,362.6 L1614.5,362.6 L1616.5,362.6 L1618.5,362.6 L1620.5,362.7 L1622.5,362.7 L1624.5,362.7 L1626.5,362.7 L1628.5,362.7 L1630.5,362.7 L1632.5,362.7 L1634.5,362.7 L1636.5,362.8 L1638.5,362.8 L1640.5,362.8 L1642.5,362.8 L1644.5,362.8 L1646.5,362.8 L1648.5,362.8 L1650.5,362.8 L1652.5,362.8 L1654.5,362.8 L1656.5,362.9 L1658.5,362.9 L1660.5,362.9 L1662.5,362.9 L1664.5,362.9 L1666.5,362.9 L1668.5,362.9 L1670.5,362.9 L1672.5,362.9 L1674.5,362.9 L1676.5,362.9 L1678.5,362.9 L1680.5,362.9 L1682.5,363.0 L1684.5,363.0 L1686.5,363.0 L1688.5,363.0 L1690.5,363.0 L1692.5,363.0 L1694.5,363.0 L1696.5,363.0 L1698.5,363.0 L1700.5,363.0 L1702.5,363.0 L1704.5,363.0 L1706.5,363.0 L1708.5,363.0 L1710.5,363.0 L1712.5,363.0 L1714.5,363.0 L1716.5,363.0 L1718.5,363.0 L1720.5,363.0 L1722.5,363.1 L1724.5,363.1 L1726.5,363.1 L1728.5,363.1 L1730.5,363.1 L1732.5,363.1 L1734.5,363.1 L1736.5,363.1 L1738.5,363.1 L1740.5,363.1 L1742.5,363.1 L1744.5,363.1 L1746.5,363.1 L1748.5,363.1 L1750.5,363.1 L1752.5,363.1 L1754.5,363.1 L1756.5,363.1 L1758.5,363.1 L1760.5,363.1 L1762.5,363.1 L1764.5,363.1 L1766.5,363.1 L1768.5,363.1 L1770.5,363.2 L1772.5,363.2 L1774.5,363.2 L1776.5,363.2 L1778.5,363.2 L1780.5,363.2 L1782.5,363.2 L1784.5,363.2 L1786.5,363.2 L1788.5,363.2 L1790.5,363.2 L1792.5,363.2 L1794.5,363.2 L1796.5,363.2 L1798.5,363.2 L1800.5,363.2 L1802.5,363.2 L1804.5,363.2 L1806.5,363.2 L1808.5,363.2 L1810.5,363.2 L1812.5,363.2 L1814.5,363.2 L1816.5,363.2 L1818.5,363.2 L1820.5,363.2 L1822.5,363.2 L1824.5,363.2 L1826.5,363.3 L1828.5,363.3 L1830.5,363.3 L1832.5,363.3 L1834.5,363.3 L1836.5,363.3 L1838.5,363.3 L1840.5,363.3 L1842.5,363.3 L1844.5,363.3 L1846.5,363.3 L1848.5,363.3 L1850.5,363.3 L1852.5,363.3 L1854.5,363.3 L1856.5,363.3 L1858.5,363.3 L1860.5,363.3 L1862.5,363.3 L1864.5,363.3 L1866.5,363.3 L1868.5,363.3 L1870.5,363.3 L1872.5,363.3 L1874.5,363.3 L1876.5,363.3 L1878.5,363.3 L1880.5,363.3 L1882.5,363.3 L1884.5,363.3 L1886.5,363.3 L1888.5,363.3 L1890.5,363.3 L1892.5,363.3 L1894.5,363.3 L1896.5,363.3 L1898.5,363.3 L1900.5,363.3 L1902.5,363.3 L1904.5,363.4 L1906.5,363.4 L1908.5,363.4 L1910.5,363.4 L1912.5,363.4 L1914.5,363.4 L1916.5,363.4 L1918.5,363.4 L1920.5,363.4 L1922.5,363.4 L1924.5,363.4 L1926.5,363.4 L1928.5,363.4 L1930.5,363.4 L1932.5,363.4 L1934.5,363.4 L1936.5,363.4 L1938.5,363.4 L1940.5,363.4 L1942.5,363.4 L1944.5,363.4 L1946.5,363.4 L1948.5,363.4 L1950.5,363.4 L1952.5,363.4 L1954.5,363.4 L1956.5,363.4 L1958.5,363.4 L1960.5,363.4 L1962.5,363.4 L1964.5,363.4 L1966.5,363.4 L1968.5,363.4 L1970.5,363.4 L1972.5,363.4 L1974.5,363.4 L1976.5,363.4 L1978.5,363.4 L1980.5,363.4 L1982.5,363.4 L1984.5,363.4 L1986.5,363.4 L1988.5,363.4 L1990.5,363.4 L1992.5,363.4 L1994.5,363.4 L1996.5,363.4 L1998.5,363.4 L2000.5,363.4 L2002.5,363.4 L2004.5,363.4" stroke="#f4a460" stroke-width="14" />
<path d="M950.5,349.8 L952.5,349.7 L954.5,349.7 L956.5,349.6 L958.5,349.6 L960.5,349.5 L962.5,349.4 L964.5,349.4 L966.5,349.3 L968.5,349.2 L970.5,349.1 L972.5,349.0 L974.5,349.0 L976.5,348.9 L978.5,348.8 L980.5,348.7 L982.5,348.5 L984.5,348.4 L986.5,348.3 L988.5,348.2 L990.5,348.0 L992.5,347.9 L994.5,347.8 L996.5,347.6 L998.5,347.4 L1000.5,347.3 L1002.5,347.1 L1004.5,346.9 L1006.5,346.7 L1008.5,346.6 L1010.5,346.5 L1012.5,346.6 L1014.5,346.7 L1016.5,346.8 L1018.5,346.9 L1020.5,346.8 L1022.5,346.6 L1024.5,346.4 L1026.5,346.1 L1028.5,345.8 L1030.5,345.5 L1032.5,345.2 L1034.5,344.9 L1036.5,344.5 L1038.5,344.2 L1040.5,343.8 L1042.5,343.4 L1044.5,343.0 L1046.5,342.6 L1048.5,342.1 L1050.5,341.7 L1052.5,341.2 L1054.5,340.7 L1056.5,340.2 L1058.5,339.7 L1060.5,339.1 L1062.5,338.6 L1064.5,338.0 L1066.5,337.4 L1068.5,336.7 L1070.5,336.1 L1072.5,335.4 L1074.5,334.7 L1076.5,334.0 L1078.5,333.2 L1080.5,332.5 L1082.5,331.7 L1084.5,330.9 L1086.5,330.0 L1088.5,329.2 L1090.5,328.3 L1092.5,327.3 L1094.5,326.4 L1096.5,325.4 L1098.5,324.4 L1100.5,323.4 L1102.5,322.3 L1104.5,321.2 L1106.5,320.1 L1108.5,319.0 L1110.5,317.8 L1112.5,316.6 L1114.5,315.3 L1116.5,314.0 L1118.5,312.7 L1120.5,311.4 L1122.5,310.0 L1124.5,308.6 L1126.5,307.2 L1128.5,305.7 L1130.5,304.2 L1132.5,302.7 L1134.5,301.1 L1136.5,299.5 L1138.5,297.9 L1140.5,296.2 L1142.5,294.5 L1144.5,292.8 L1146.5,291.0 L1148.5,289.2 L1150.5,287.4 L1152.5,285.5 L1154.5,283.6 L1156.5,281.7 L1158.5,279.7 L1160.5,277.7 L1162.5,275.7 L1164.5,273.6 L1166.5,271.5 L1168.5,269.4 L1170.5,267.2 L1172.5,265.0 L1174.5,262.8 L1176.5,260.6 L1178.5,258.3 L1180.5,256.0 L1182.5,253.7 L1184.5,251.3 L1186.5,249.0 L1188.5,246.6 L1190.5,244.2 L1192.5,241.7 L1194.5,239.2 L1196.5,236.8 L1198.5,234.2 L1200.5,231.7 L1202.5,229.2 L1204.5,226.6 L1206.5,224.1 L1208.5,221.5 L1210.5,218.9 L1212.5,216.3 L1214.5,213.7 L1216.5,211.1 L1218.5,208.5 L1220.5,205.8 L1222.5,203.2 L1224.5,200.6 L1226.5,198.0 L1228.5,195.3 L1230.5,192.7 L1232.5,190.1 L1234.5,187.5 L1236.5,184.9 L1238.5,182.3 L1240.5,179.7 L1242.5,177.2 L1244.5,174.6 L1246.5,172.1 L1248.5,169.6 L1250.5,167.1 L1252.5,164.6 L1254.5,162.1 L1256.5,159.7 L1258.5,157.3 L1260.5,154.9 L1262.5,152.6 L1264.5,150.3 L1266.5,148.0 L1268.5,145.8 L1270.5,143.6 L1272.5,141.4 L1274.5,139.3 L1276.5,137.2 L1278.5,135.2 L1280.5,133.2 L1282.5,131.2 L1284.5,129.3 L1286.5,127.5 L1288.5,125.7 L1290.5,123.9 L1292.5,122.2 L1294.5,120.6 L1296.5,119.0 L1298.5,117.5 L1300.5,116.1 L1302.5,114.7 L1304.5,113.3 L1306.5,112.1 L1308.5,110.9 L1310.5,109.7 L1312.5,108.6 L1314.5,107.6 L1316.5,106.7 L1318.5,105.8 L1320.5,105.0 L1322.5,104.3 L1324.5,103.6 L1326.5,103.0 L1328.5,102.5 L1330.5,102.1 L1332.5,101.7 L1334.5,101.4 L1336.5,101.2 L1338.5,101.1 L1340.5,101.0 L1342.5,101.0 L1344.5,101.1 L1346.5,101.2 L1348.5,101.4 L1350.5,101.7 L1352.5,102.1 L1354.5,102.6 L1356.5,103.1 L1358.5,103.7 L1360.5,104.4 L1362.5,105.1 L1364.5,106.0 L1366.5,106.8 L1368.5,107.8 L1370.5,108.8 L1372.5,109.9 L1374.5,111.1 L1376.5,112.4 L1378.5,113.7 L1380.5,115.0 L1382.5,116.5 L1384.5,118.0 L1386.5,119.5 L1388.5,121.2 L1390.5,122.8 L1392.5,124.6 L1394.5,126.4 L1396.5,128.2 L1398.5,130.1 L1400.5,132.1 L1402.5,134.1 L1404.5,136.1 L1406.5,138.2 L1408.5,140.4 L1410.5,142.6 L1412.5,144.8 L1414.5,147.1 L1416.5,149.4 L1418.5,151.8 L1420.5,154.1 L1422.5,156.6 L1424.5,159.0 L1426.5,161.5 L1428.5,164.0 L1430.5,166.5 L1432.5,169.1 L1434.5,171.7 L1436.5,174.3 L1438.5,176.9 L1440.5,179.5 L1442.5,182.2 L1444.5,184.9 L1446.5,187.6 L1448.5,190.2 L1450.5,192.9 L1452.5,195.6 L1454.5,198.4 L1456.5,201.1 L1458.5,203.8 L1460.5,206.5 L1462.5,209.2 L1464.5,211.9 L1466.5,214.7 L1468.5,217.4 L1470.5,220.1 L1472.5,222.7 L1474.5,225.4 L1476.5,228.1 L1478.5,230.7 L1480.5,233.4 L1482.5,236.0 L1484.5,238.6 L1486.5,241.2 L1488.5,243.8 L1490.5,246.3 L1492.5,248.9 L1494.5,251.4 L1496.5,253.8 L1498.5,256.3 L1500.5,258.7 L1502.5,261.1 L1504.5,263.5 L1506.5,265.9 L1508.5,268.2 L1510.5,270.5 L1512.5,272.8 L1514.5,275.0 L1516.5,277.2 L1518.5,279.4 L1520.5,281.6 L1522.5,283.7 L1524.5,285.8 L1526.5,287.9 L1528.5,289.9 L1530.5,291.9 L1532.5,293.8 L1534.5,295.8 L1536.5,297.6 L1538.5,299.5 L1540.5,301.3 L1542.5,303.1 L1544.5,304.9 L1546.5,306.6 L1548.5,308.3 L1550.5,309.9 L1552.5,311.6 L1554.5,313.2 L1556.5,314.7 L1558.5,316.2 L1560.5,317.7 L1562.5,319.2 L1564.5,320.6 L1566.5,322.0 L1568.5,323.3 L1570.5,324.7 L1572.5,326.0 L1574.5,327.2 L1576.5,328.5 L1578.5,329.7 L1580.5,330.8 L1582.5,332.0 L1584.5,333.1 L1586.5,334.2 L1588.5,335.2 L1590.5,336.2 L1592.5,337.2 L1594.5,338.2 L1596.5,339.1 L1598.5,340.0 L1600.5,340.9 L1602.5,341.8 L1604.5,342.6 L1606.5,343.4 L1608.5,344.2 L1610.5,345.0 L1612.5,345.7 L1614.5,346.4 L1616.5,347.1 L1618.5,347.8 L1620.5,348.4 L1622.5,349.1 L1624.5,349.7 L1626.5,350.3 L1628.5,350.8 L1630.5,351.4 L1632.5,351.9 L1634.5,352.4 L1636.5,352.9 L1638.5,353.4 L1640.5,353.9 L1642.5,354.3 L1644.5,354.7 L1646.5,355.1 L1648.5,355.5 L1650.5,355.9 L1652.5,356.3 L1654.5,356.6 L1656.5,357.0 L1658.5,357.3 L1660.5,357.6 L1662.5,357.9 L1664.5,358.2 L1666.5,358.5 L1668.5,358.8 L1670.5,359.0 L1672.5,359.3 L1674.5,359.5 L1676.5,359.7 L1678.5,360.0 L1680.5,360.2 L1682.5,360.4 L1684.5,360.6 L1686.5,360.8 L1688.5,361.0 L1690.5,361.1 L1692.5,361.3 L1694.5,361.4 L1696.5,361.6 L1698.5,361.7 L1700.5,361.9 L1702.5,362.0 L1704.5,362.1 L1706.5,362.3 L1708.5,362.4 L1710.5,362.5 L1712.5,362.6 L1714.5,362.7 L1716.5,362.8 L1718.5,362.9 L1720.5,363.0 L1722.5,363.1 L1724.5,363.1 L1726.5,363.2 L1728.5,363.3 L1730.5,363.3 L1732.5,363.4 L1734.5,363.5 L1736.5,363.5 L1738.5,363.6 L1740.5,363.6 L1742.5,363.7 L1744.5,363.7 L1746.5,363.8 L1748.5,363.8 L1750.5,363.8 L1752.5,363.9 L1754.5,363.9 L1756.5,363.9 L1758.5,364.0 L1760.5,364.0 L1762.5,364.0 L1764.5,364.0 L1766.5,364.1 L1768.5,364.1 L1770.5,364.1 L1772.5,364.1 L1774.5,364.1 L1776.5,364.1 L1778.5,364.2 L1780.5,364.2 L1782.5,364.2 L1784.5,364.2 L1786.5,364.2 L1788.5,364.2 L1790.5,364.2 L1792.5,364.2 L1794.5,364.3 L1796.5,364.3 L1798.5,364.3" stroke="#00dc00" stroke-width="14" />
<path d="M132.5,346.0 L134.5,346.1 L136.5,346.2 L138.5,346.2 L140.5,346.3 L142.5,346.4 L144.5,346.5 L146.5,346.6 L148.5,346.7 L150.5,346.9 L152.5,347.0 L154.5,347.1 L156.5,347.3 L158.5,347.4 L160.5,347.6 L162.5,347.7 L164.5,348.0 L166.5,348.2 L168.5,348.4 L170.5,348.7 L172.5,349.0 L174.5,349.2 L176.5,349.5 L178.5,349.7 L180.5,350.0 L182.5,350.2 L184.5,350.3 L186.5,350.5 L188.5,350.5 L190.5,350.6 L192.5,350.6 L194.5,350.6 L196.5,350.6 L198.5,350.6 L200.5,350.6 L202.5,350.6 L204.5,350.6 L206.5,350.6 L208.5,350.6 L210.5,350.6 L212.5,350.6 L214.5,350.6 L216.5,350.6 L218.5,350.6 L220.5,350.6 L222.5,350.6 L224.5,350.6 L226.5,350.6 L228.5,350.6 L230.5,350.6 L232.5,350.6 L234.5,350.6 L236.5,350.6 L238.5,350.6 L240.5,350.6 L242.5,350.6 L244.5,350.6 L246.5,350.6 L248.5,350.6 L250.5,350.6 L252.5,350.6 L254.5,350.6 L256.5,350.6 L258.5,350.6 L260.5,350.6 L262.5,350.6 L264.5,350.6 L266.5,350.6 L268.5,350.6 L270.5,350.6 L272.5,350.6 L274.5,350.6 L276.5,350.6 L278.5,350.6 L280.5,350.6 L282.5,350.6 L284.5,350.6 L286.5,350.6 L288.5,350.6 L290.5,350.6 L292.5,350.6 L294.5,350.6 L296.5,350.6 L298.5,350.6 L300.5,350.6 L302.5,350.6 L304.5,350.6 L306.5,350.6 L308.5,350.6 L310.5,350.6 L312.5,350.6 L314.5,350.6 L316.5,350.6 L318.5,350.6 L320.5,350.6 L322.5,350.6 L324.5,350.6 L326.5,350.6 L328.5,350.6 L330.5,350.6 L332.5,350.6 L334.5,350.6 L336.5,350.6 L338.5,350.6 L340.5,350.6 L342.5,350.6 L344.5,350.6 L346.5,350.6 L348.5,350.6 L350.5,350.6 L352.5,350.6 L354.5,350.6 L356.5,350.6 L358.5,350.6 L360.5,350.6 L362.5,350.6 L364.5,350.6 L366.5,350.6 L368.5,350.6 L370.5,350.6 L372.5,350.6 L374.5,350.6 L376.5,350.6 L378.5,350.6 L380.5,350.6 L382.5,350.6 L384.5,350.6 L386.5,350.6 L388.5,350.6 L390.5,350.6 L392.5,350.6 L394.5,350.6 L396.5,350.6 L398.5,350.6 L400.5,350.6 L402.5,350.6 L404.5,350.6 L406.5,350.6 L408.5,350.6 L410.5,350.6 L412.5,350.6 L414.5,350.6 L416.5,350.6 L418.5,350.6 L420.5,350.6 L422.5,350.6 L424.5,350.6 L426.5,350.6 L428.5,350.6 L430.5,350.6 L432.5,350.6 L434.5,350.6 L436.5,350.6 L438.5,350.6 L440.5,350.6 L442.5,350.6 L444.5,350.6 L446.5,350.6 L448.5,350.6 L450.5,350.6 L452.5,350.6 L454.5,350.6 L456.5,350.6 L458.5,350.6 L460.5,350.6 L462.5,350.6 L464.5,350.6 L466.5,350.6 L468.5,350.6 L470.5,350.6 L472.5,350.6 L474.5,350.6 L476.5,350.6 L478.5,350.6 L480.5,350.6 L482.5,350.6 L484.5,350.6 L486.5,350.6 L488.5,350.6 L490.5,350.6 L492.5,350.6 L494.5,350.6 L496.5,350.6 L498.5,350.6 L500.5,350.6 L502.5,350.6 L504.5,350.6 L506.5,350.6 L508.5,350.6 L510.5,350.6 L512.5,350.6 L514.5,350.6 L516.5,350.6 L518.5,350.6 L520.5,350.6 L522.5,350.6 L524.5,350.6 L526.5,350.6 L528.5,350.6 L530.5,350.6 L532.5,350.6 L534.5,350.6 L536.5,350.6 L538.5,350.6 L540.5,350.6 L542.5,350.6 L544.5,350.6 L546.5,350.6 L548.5,350.6 L550.5,350.6 L552.5,350.6 L554.5,350.6 L556.5,350.6 L558.5,350.6 L560.5,350.6 L562.5,350.6 L564.5,350.6 L566.5,350.6 L568.5,350.6 L570.5,350.6 L572.5,350.6 L574.5,350.6 L576.5,350.6 L578.5,350.6 L580.5,350.6 L582.5,350.6 L584.5,350.6 L586.5,350.6 L588.5,350.6 L590.5,350.6 L592.5,350.6 L594.5,350.6 L596.5,350.6 L598.5,350.6 L600.5,350.6 L602.5,350.6 L604.5,350.6 L606.5,350.6 L608.5,350.6 L610.5,350.6 L612.5,350.6 L614.5,350.6 L616.5,350.6 L618.5,350.6 L620.5,350.6 L622.5,350.6 L624.5,350.6 L626.5,350.6 L628.5,350.6 L630.5,350.6 L632.5,350.6 L634.5,350.6 L636.5,350.6 L638.5,350.6 L640.5,350.6 L642.5,350.6 L644.5,350.6 L646.5,350.6 L648.5,350.6 L650.5,350.6 L652.5,350.6 L654.5,350.6 L656.5,350.6 L658.5,350.6 L660.5,350.6 L662.5,350.6 L664.5,350.6 L666.5,350.6 L668.5,350.6 L670.5,350.6 L672.5,350.6 L674.5,350.6 L676.5,350.6 L678.5,350.6 L680.5,350.6 L682.5,350.6 L684.5,350.6 L686.5,350.7 L688.5,350.7 L690.5,350.7 L692.5,350.7 L694.5,350.7 L696.5,350.7 L698.5,350.7 L700.5,350.7 L702.5,350.7 L704.5,350.7 L706.5,350.7 L708.5,350.7 L710.5,350.7 L712.5,350.7 L714.5,350.7 L716.5,350.7 L718.5,350.7 L720.5,350.7 L722.5,350.7 L724.5,350.7 L726.5,350.7 L728.5,350.7 L730.5,350.7 L732.5,350.7 L734.5,350.7 L736.5,350.7 L738.5,350.7 L740.5,350.7 L742.5,350.7 L744.5,350.7 L746.5,350.7 L748.5,350.7 L750.5,350.7 L752.5,350.7 L754.5,350.7 L756.5,350.7 L758.5,350.7 L760.5,350.7 L762.5,350.7 L764.5,350.7 L766.5,350.7 L768.5,350.7 L770.5,350.7 L772.5,350.7 L774.5,350.7 L776.5,350.7 L778.5,350.7 L780.5,350.7 L782.5,350.7 L784.5,350.7 L786.5,350.7 L788.5,350.7 L790.5,350.7 L792.5,350.7 L794.5,350.7 L796.5,350.7 L798.5,350.7 L800.5,350.7 L802.5,350.7 L804.5,350.7 L806.5,350.7 L808.5,350.7 L810.5,350.7 L812.5,350.7 L814.5,350.7 L816.5,350.7 L818.5,350.7 L820.5,350.7 L822.5,350.7 L824.5,350.7 L826.5,350.7 L828.5,350.7 L830.5,350.7 L832.5,350.7 L834.5,350.7 L836.5,350.7 L838.5,350.7 L840.5,350.7 L842.5,350.7 L844.5,350.7 L846.5,350.7 L848.5,350.7 L850.5,350.7 L852.5,350.7 L854.5,350.7 L856.5,350.7 L858.5,350.7 L860.5,350.7 L862.5,350.7 L864.5,350.7 L866.5,350.7 L868.5,350.7 L870.5,350.7 L872.5,350.7 L874.5,350.7 L876.5,350.7 L878.5,350.7 L880.5,350.7 L882.5,350.7 L884.5,350.7 L886.5,350.7 L888.5,350.7 L890.5,350.7 L892.5,350.7 L894.5,350.7 L896.5,350.7 L898.5,350.7 L900.5,350.7 L902.5,350.7 L904.5,350.7 L906.5,350.7 L908.5,350.7 L910.5,350.7 L912.5,350.7 L914.5,350.7 L916.5,350.7 L918.5,350.7 L920.5,350.7 L922.5,350.7 L924.5,350.7 L926.5,350.7 L928.5,350.7 L930.5,350.7 L932.5,350.7 L934.5,350.7 L936.5,350.7 L938.5,350.7 L940.5,350.7 L942.5,350.7 L944.5,350.7 L946.5,350.7 L948.5,350.7 L950.5,350.7 L952.5,350.7 L954.5,350.7 L956.5,350.7 L958.5,350.7 L960.5,350.7 L962.5,350.7 L964.5,350.7 L966.5,350.7 L968.5,350.7 L970.5,350.7 L972.5,350.7 L974.5,350.7 L976.5,350.7 L978.5,350.7 L980.5,350.7 L982.5,350.7 L984.5,350.7 L986.5,350.7 L988.5,350.7 L990.5,350.7 L992.5,350.7 L994.5,350.7 L996.5,350.7 L998.5,350.7 L1000.5,350.7 L1002.5,350.7 L1004.5,350.7 L1006.5,350.7 L1008.5,350.8 L1010.5,350.9 L1012.5,351.2 L1014.5,351.5 L1016.5,351.9 L1018.5,352.2 L1020.5,352.4 L1022.5,352.5 L1024.5,352.5 L1026.5,352.5 L1028.5,352.6 L1030.5,352.6 L1032.5,352.6 L1034.5,352.6 L1036.5,352.6 L1038.5,352.6 L1040.5,352.6 L1042.5,352.6 L1044.5,352.6 L1046.5,352.7 L1048.5,352.7 L1050.5,352.7 L1052.5,352.7 L1054.5,352.7 L1056.5,352.7 L1058.5,352.7 L1060.5,352.7 L1062.5,352.7 L1064.5,352.7 L1066.5,352.7 L1068.5,352.7 L1070.5,352.7 L1072.5,352.7 L1074.5,352.7 L1076.5,352.8 L1078.5,352.8 L1080.5,352.8 L1082.5,352.8 L1084.5,352.8 L1086.5,352.8 L1088.5,352.8 L1090.5,352.8 L1092.5,352.8 L1094.5,352.8 L1096.5,352.8 L1098.5,352.8 L1100.5,352.8 L1102.5,352.8 L1104.5,352.8 L1106.5,352.8 L1108.5,352.8 L1110.5,352.8 L1112.5,352.8 L1114.5,352.8 L1116.5,352.8 L1118.5,352.8 L1120.5,352.8 L1122.5,352.8 L1124.5,352.8 L1126.5,352.8 L1128.5,352.8 L1130.5,352.8 L1132.5,352.8 L1134.5,352.8 L1136.5,352.8 L1138.5,352.8 L1140.5,352.8 L1142.5,352.7 L1144.5,352.7 L1146.5,352.7 L1148.5,352.7 L1150.5,352.7 L1152.5,352.7 L1154.5,352.7 L1156.5,352.7 L1158.5,352.7 L1160.5,352.7 L1162.5,352.7 L1164.5,352.7 L1166.5,352.7 L1168.5,352.7 L1170.5,352.7 L1172.5,352.6 L1174.5,352.6 L1176.5,352.6 L1178.5,352.6 L1180.5,352.6 L1182.5,352.6 L1184.5,352.6 L1186.5,352.5 L1188.5,352.5 L1190.5,352.5 L1192.5,352.5 L1194.5,352.5 L1196.5,352.4 L1198.5,352.4 L1200.5,352.4 L1202.5,352.4 L1204.5,352.3 L1206.5,352.3 L1208.5,352.3 L1210.5,352.2 L1212.5,352.2 L1214.5,352.2 L1216.5,352.2 L1218.5,352.1 L1220.5,352.1 L1222.5,352.1 L1224.5,352.0 L1226.5,352.0 L1228.5,351.9 L1230.5,351.9 L1232.5,351.9 L1234.5,351.8 L1236.5,351.8 L1238.5,351.7 L1240.5,351.7 L1242.5,351.6 L1244.5,351.5 L1246.5,351.5 L1248.5,351.4 L1250.5,351.3 L1252.5,351.2 L1254.5,351.2 L1256.5,351.1 L1258.5,351.0 L1260.5,350.9 L1262.5,350.8 L1264.5,350.6 L1266.5,350.5 L1268.5,350.4 L1270.5,350.2 L1272.5,350.1 L1274.5,350.0 L1276.5,349.8 L1278.5,349.6 L1280.5,349.4 L1282.5,349.3 L1284.5,349.1 L1286.5,348.9 L1288.5,348.6 L1290.5,348.4 L1292.5,348.2 L1294.5,347.9 L1296.5,347.7 L1298.5,347.4 L1300.5,347.1 L1302.5,346.8 L1304.5,346.5 L1306.5,346.2 L1308.5,345.9 L1310.5,345.5 L1312.5,345.2 L1314.5,344.8 L1316.5,344.4 L1318.5,344.0 L1320.5,343.6 L1322.5,343.2 L1324.5,342.7 L1326.5,342.3 L1328.5,341.8 L1330.5,341.3 L1332.5,340.8 L1334.5,340.3 L1336.5,339.8 L1338.5,339.2 L1340.5,338.7 L1342.5,338.1 L1344.5,337.5 L1346.5,336.9 L1348.5,336.3 L1350.5,335.7 L1352.5,335.0 L1354.5,334.4 L1356.5,333.7 L1358.5,333.0 L1360.5,332.3 L1362.5,331.6 L1364.5,330.9 L1366.5,330.2 L1368.5,329.5 L1370.5,328.7 L1372.5,327.9 L1374.5,327.2 L1376.5,326.4 L1378.5,325.6 L1380.5,324.8 L1382.5,324.0 L1384.5,323.1 L1386.5,322.3 L1388.5,321.5 L1390.5,320.6 L1392.5,319.8 L1394.5,318.9 L1396.5,318.1 L1398.5,317.2 L1400.5,316.3 L1402.5,315.4 L1404.5,314.6 L1406.5,313.7 L1408.5,312.8 L1410.5,311.9 L1412.5,311.0 L1414.5,310.1 L1416.5,309.3 L1418.5,308.4 L1420.5,307.5 L1422.5,306.6 L1424.5,305.7 L1426.5,304.9 L1428.5,304.0 L1430.5,303.2 L1432.5,302.3 L1434.5,301.5 L1436.5,300.7 L1438.5,299.9 L1440.5,299.0 L1442.5,298.3 L1444.5,297.5 L1446.5,296.7 L1448.5,296.0 L1450.5,295.2 L1452.5,294.5 L1454.5,293.8 L1456.5,293.1 L1458.5,292.4 L1460.5,291.8 L1462.5,291.2 L1464.5,290.6 L1466.5,290.0 L1468.5,289.4 L1470.5,288.9 L1472.5,288.4 L1474.5,287.9 L1476.5,287.4 L1478.5,287.0 L1480.5,286.6 L1482.5,286.2 L1484.5,285.8 L1486.5,285.5 L1488.5,285.2 L1490.5,284.9 L1492.5,284.6 L1494.5,284.4 L1496.5,284.2 L1498.5,284.1 L1500.5,283.9 L1502.5,283.8 L1504.5,283.8 L1506.5,283.7 L1508.5,283.7 L1510.5,283.8 L1512.5,283.8 L1514.5,283.9 L1516.5,284.0 L1518.5,284.2 L1520.5,284.3 L1522.5,284.5 L1524.5,284.8 L1526.5,285.1 L1528.5,285.4 L1530.5,285.7 L1532.5,286.0 L1534.5,286.4 L1536.5,286.8 L1538.5,287.3 L1540.5,287.8 L1542.5,288.3 L1544.5,288.8 L1546.5,289.3 L1548.5,289.9 L1550.5,290.5 L1552.5,291.1 L1554.5,291.8 L1556.5,292.5 L1558.5,293.2 L1560.5,293.9 L1562.5,294.6 L1564.5,295.4 L1566.5,296.1 L1568.5,296.9 L1570.5,297.7 L1572.5,298.6 L1574.5,299.4 L1576.5,300.2 L1578.5,301.1 L1580.5,302.0 L1582.5,302.9 L1584.5,303.8 L1586.5,304.7 L1588.5,305.6 L1590.5,306.6 L1592.5,307.5 L1594.5,308.5 L1596.5,309.4 L1598.5,310.4 L1600.5,311.3 L1602.5,312.3 L1604.5,313.3 L1606.5,314.2 L1608.5,315.2 L1610.5,316.2 L1612.5,317.2 L1614.5,318.1 L1616.5,319.1 L1618.5,320.1 L1620.5,321.0 L1622.5,322.0 L1624.5,323.0 L1626.5,323.9 L1628.5,324.8 L1630.5,325.8 L1632.5,326.7 L1634.5,327.6 L1636.5,328.5 L1638.5,329.4 L1640.5,330.3 L1642.5,331.2 L1644.5,332.1 L1646.5,333.0 L1648.5,333.8 L1650.5,334.7 L1652.5,335.5 L1654.5,336.3 L1656.5,337.1 L1658.5,337.9 L1660.5,338.7 L1662.5,339.5 L1664.5,340.2 L1666.5,341.0 L1668.5,341.7 L1670.5,342.4 L1672.5,343.1 L1674.5,343.8 L1676.5,344.5 L1678.5,345.1 L1680.5,345.8 L1682.5,346.4 L1684.5,347.0 L1686.5,347.6 L1688.5,348.2 L1690.5,348.8 L1692.5,349.4 L1694.5,349.9 L1696.5,350.5 L1698.5,351.0 L1700.5,351.5 L1702.5,352.0 L1704.5,352.5 L1706.5,352.9 L1708.5,353.4 L1710.5,353.8 L1712.5,354.2 L1714.5,354.6 L1716.5,355.0 L1718.5,355.4 L1720.5,355.8 L1722.5,356.2 L1724.5,356.5 L1726.5,356.9 L1728.5,357.2 L1730.5,357.5 L1732.5,357.8 L1734.5,358.1 L1736.5,358.4 L1738.5,358.7 L1740.5,358.9 L1742.5,359.2 L1744.5,359.4 L1746.5,359.6 L1748.5,359.9 L1750.5,360.1 L1752.5,360.3 L1754.5,360.5 L1756.5,360.7 L1758.5,360.8 L1760.5,361.0 L1762.5,361.2 L1764.5,361.3 L1766.5,361.5 L1768.5,361.6 L1770.5,361.8 L1772.5,361.9 L1774.5,362.0 L1776.5,362.2 L1778.5,362.3 L1780.5,362.4 L1782.5,362.5 L1784.5,362.6 L1786.5,362.7 L1788.5,362.8 L1790.5,362.9 L1792.5,363.0 L1794.5,363.0 L1796.5,363.1 L1798.5,363.2 L1800.5,363.3 L1802.5,363.3 L1804.5,363.4 L1806.5,363.4 L1808.5,363.5 L1810.5,363.5 L1812.5,363.6 L1814.5,363.6 L1816.5,363.7 L1818.5,363.7 L1820.5,363.8 L1822.5,363.8 L1824.5,363.8 L1826.5,363.9 L1828.5,363.9 L1830.5,363.9 L1832.5,364.0 L1834.5,364.0 L1836.5,364.0 L1838.5,364.0 L1840.5,364.1 L1842.5,364.1 L1844.5,364.1 L1846.5,364.1 L1848.5,364.1 L1850.5,364.2 L1852.5,364.2 L1854.5,364.2 L1856.5,364.2 L1858.5,364.2 L1860.5,364.2 L1862.5,364.2 L1864.5,364.3 L1866.5,364.3 L1868.5,364.3 L1870.5,364.3 L1872.5,364.3 L1874.5,364.3 L1876.5,364.3 L1878.5,364.3 L1880.5,364.3 L1882.5,364.3 L1884.5,364.3 L1886.5,364.3 L1888.5,364.3 L1890.5,364.3 L1892.5,364.3 L1894.5,364.4 L1896.5,364.4 L1898.5,364.4 L1900.5,364.4 L1902.5,364.4 L1904.5,364.4 L1906.5,364.4 L1908.5,364.4 L1910.5,364.4 L1912.5,364.4 L1914.5,364.4 L1916.5,364.4 L1918.5,364.4 L1920.5,364.4 L1922.5,364.4 L1924.5,364.4 L1926.5,364.4 L1928.5,364.4 L1930.5,364.4 L1932.5,364.4 L1934.5,364.4 L1936.5,364.4 L1938.5,364.4 L1940.5,364.4 L1942.5,364.4 L1944.5,364.4 L1946.5,364.4 L1948.5,364.4 L1950.5,364.4 L1952.5,364.4 L1954.5,364.4 L1956.5,364.4 L1958.5,364.4 L1960.5,364.4 L1962.5,364.4 L1964.5,364.4 L1966.5,364.4 L1968.5,364.4 L1970.5,364.4 L1972.5,364.4 L1974.5,364.4 L1976.5,364.4 L1978.5,364.4 L1980.5,364.4 L1982.5,364.4 L1984.5,364.4 L1986.5,364.4 L1988.5,364.4 L1990.5,364.4 L1992.5,364.4 L1994.5,364.4 L1996.5,364.4 L1998.5,364.4 L2000.5,364.4 L2002.5,364.4 L2004.5,364.4" stroke="#00a0ff" stroke-width="14" />
<path d="M132.5,717.9 L142.9,719.5 L153.3,711.4 L163.7,726.8 L174.1,713.3 L184.5,717.3 L194.9,722.9 L205.3,716.1 L215.7,717.0 L226.1,717.8 L236.5,723.8 L246.9,730.9 L257.3,722.0 L267.7,717.5 L278.1,724.3 L288.5,719.9 L298.9,722.3 L309.3,727.2 L319.7,719.6 L330.1,722.7 L340.5,719.2 L350.9,722.2 L361.3,723.9 L371.7,719.0 L382.1,721.7 L392.5,722.2 L402.9,720.6 L413.3,718.4 L423.7,717.6 L434.1,722.7 L444.5,722.2 L454.9,732.3 L465.3,713.6 L475.7,723.8 L486.1,724.9 L496.5,728.9 L506.9,725.5 L517.3,720.1 L527.7,723.5 L538.1,725.7 L548.5,722.2 L558.9,726.6 L569.3,716.0 L579.7,730.4 L590.1,729.4 L600.5,722.2 L610.9,725.9 L621.3,723.7 L631.7,720.1 L642.1,723.7 L652.5,727.3 L662.9,721.6 L673.3,721.4 L683.7,722.4 L694.1,724.2 L704.5,727.2 L714.9,719.3 L725.3,723.5 L735.7,721.9 L746.1,713.2 L756.5,718.5 L766.9,719.2 L777.3,719.1 L787.7,720.1 L798.1,710.1 L808.5,717.8 L818.9,714.2 L829.3,710.1 L839.7,716.8 L850.1,716.5 L860.5,709.8 L870.9,714.7 L881.3,708.8 L891.7,709.6 L902.1,704.0 L912.5,713.9 L922.9,696.0 L933.3,705.4 L943.7,707.5 L954.1,695.6 L964.5,701.8 L974.9,701.0 L985.3,703.3 L995.7,703.4 L1006.1,695.0 L1016.5,688.8 L1026.9,697.3 L1037.3,693.9 L1047.7,684.0 L1058.1,683.9 L1068.5,680.4 L1078.9,677.0 L1089.3,671.0 L1099.7,670.4 L1110.1,651.2 L1120.5,654.1 L1130.9,641.8 L1141.3,628.6 L1151.7,622.3 L1162.1,595.4 L1172.5,595.7 L1182.9,578.9 L1193.3,559.6 L1203.7,553.4 L1214.1,538.5 L1224.5,538.0 L1234.9,522.4 L1245.3,503.6 L1255.7,485.3 L1266.1,472.5 L1276.5,461.0 L1286.9,448.6 L1297.3,436.9 L1307.7,429.5 L1318.1,424.5 L1328.5,419.9 L1338.9,418.6 L1349.3,420.0 L1359.7,439.2 L1370.1,431.0 L1380.5,442.9 L1390.9,460.5 L1401.3,470.4 L1411.7,487.1 L1422.1,502.9 L1432.5,519.2 L1442.9,531.5 L1453.3,538.3 L1463.7,559.7 L1474.1,560.2 L1484.5,577.8 L1494.9,586.4 L1505.3,594.0 L1515.7,610.3 L1526.1,616.9 L1536.5,631.5 L1546.9,631.3 L1557.3,650.3 L1567.7,658.3 L1578.1,665.9 L1588.5,668.2 L1598.9,680.4 L1609.3,681.8 L1619.7,685.5 L1630.1,712.3 L1640.5,708.1 L1650.9,716.3 L1661.3,711.5 L1671.7,719.7 L1682.1,722.9 L1692.5,725.2 L1702.9,724.9 L1713.3,725.7 L1723.7,719.5 L1734.1,731.1 L1744.5,730.9 L1754.9,734.0 L1765.3,728.6 L1775.7,736.7 L1786.1,728.0 L1796.5,725.0 L1806.9,733.9 L1817.3,728.4 L1827.7,725.3 L1838.1,730.9 L1848.5,733.5 L1858.9,731.5 L1869.3,732.7 L1879.7,747.9 L1890.1,735.8 L1900.5,739.4 L1910.9,725.5 L1921.3,735.0 L1931.7,736.6 L1942.1,732.0 L1952.5,730.0 L1962.9,735.1 L1973.3,732.2 L1983.7,731.1 L1994.1,738.1 L2004.5,738.8" stroke="#c0c0c0" stroke-width="3" />
<path d="M1242.0,738.0 L1615.0,738.5" stroke="#ff80c0" stroke-width="14" />
<path d="M132.5,721.1 L134.5,721.1 L136.5,721.2 L138.5,721.2 L140.5,721.2 L142.5,721.3 L144.5,721.3 L146.5,721.3 L148.5,721.4 L150.5,721.4 L152.5,721.5 L154.5,721.5 L156.5,721.6 L158.5,721.6 L160.5,721.6 L162.5,721.7 L164.5,721.7 L166.5,721.8 L168.5,721.8 L170.5,721.9 L172.5,721.9 L174.5,721.9 L176.5,722.0 L178.5,722.0 L180.5,722.1 L182.5,722.1 L184.5,722.1 L186.5,722.2 L188.5,722.2 L190.5,722.3 L192.5,722.3 L194.5,722.3 L196.5,722.4 L198.5,722.4 L200.5,722.5 L202.5,722.5 L204.5,722.5 L206.5,722.6 L208.5,722.6 L210.5,722.6 L212.5,722.7 L214.5,722.7 L216.5,722.7 L218.5,722.8 L220.5,722.8 L222.5,722.8 L224.5,722.9 L226.5,722.9 L228.5,722.9 L230.5,723.0 L232.5,723.0 L234.5,723.0 L236.5,723.1 L238.5,723.1 L240.5,723.1 L242.5,723.1 L244.5,723.2 L246.5,723.2 L248.5,723.2 L250.5,723.3 L252.5,723.3 L254.5,723.3 L256.5,723.3 L258.5,723.4 L260.5,723.4 L262.5,723.4 L264.5,723.5 L266.5,723.5 L268.5,723.5 L270.5,723.5 L272.5,723.6 L274.5,723.6 L276.5,723.6 L278.5,723.6 L280.5,723.7 L282.5,723.7 L284.5,723.7 L286.5,723.7 L288.5,723.7 L290.5,723.8 L292.5,723.8 L294.5,723.8 L296.5,723.8 L298.5,723.9 L300.5,723.9 L302.5,723.9 L304.5,723.9 L306.5,723.9 L308.5,724.0 L310.5,724.0 L312.5,724.0 L314.5,724.0 L316.5,724.0 L318.5,724.1 L320.5,724.1 L322.5,724.1 L324.5,724.1 L326.5,724.1 L328.5,724.1 L330.5,724.2 L332.5,724.2 L334.5,724.2 L336.5,724.2 L338.5,724.2 L340.5,724.3 L342.5,724.3 L344.5,724.3 L346.5,724.3 L348.5,724.3 L350.5,724.3 L352.5,724.3 L354.5,724.4 L356.5,724.4 L358.5,724.4 L360.5,724.4 L362.5,724.4 L364.5,724.4 L366.5,724.4 L368.5,724.5 L370.5,724.5 L372.5,724.5 L374.5,724.5 L376.5,724.5 L378.5,724.5 L380.5,724.5 L382.5,724.5 L384.5,724.6 L386.5,724.6 L388.5,724.6 L390.5,724.6 L392.5,724.6 L394.5,724.6 L396.5,724.6 L398.5,724.6 L400.5,724.6 L402.5,724.6 L404.5,724.7 L406.5,724.7 L408.5,724.7 L410.5,724.7 L412.5,724.7 L414.5,724.7 L416.5,724.7 L418.5,724.7 L420.5,724.7 L422.5,724.7 L424.5,724.7 L426.5,724.8 L428.5,724.8 L430.5,724.8 L432.5,724.8 L434.5,724.8 L436.5,724.8 L438.5,724.8 L440.5,724.8 L442.5,724.8 L444.5,724.8 L446.5,724.8 L448.5,724.8 L450.5,724.8 L452.5,724.8 L454.5,724.8 L456.5,724.9 L458.5,724.9 L460.5,724.9 L462.5,724.9 L464.5,724.9 L466.5,724.9 L468.5,724.9 L470.5,724.9 L472.5,724.9 L474.5,724.9 L476.5,724.9 L478.5,724.9 L480.5,724.9 L482.5,724.9 L484.5,724.9 L486.5,724.9 L488.5,724.9 L490.5,724.9 L492.5,724.9 L494.5,724.9 L496.5,724.9 L498.5,724.9 L500.5,724.9 L502.5,724.9 L504.5,724.9 L506.5,725.0 L508.5,725.0 L510.5,725.0 L512.5,725.0 L514.5,725.0 L516.5,725.0 L518.5,725.0 L520.5,725.0 L522.5,725.0 L524.5,725.0 L526.5,725.0 L528.5,725.0 L530.5,725.0 L532.5,725.0 L534.5,725.0 L536.5,725.0 L538.5,725.0 L540.5,725.0 L542.5,725.0 L544.5,725.0 L546.5,725.0 L548.5,725.0 L550.5,725.0 L552.5,725.0 L554.5,725.0 L556.5,725.0 L558.5,725.0 L560.5,725.0 L562.5,725.0 L564.5,725.0 L566.5,725.0 L568.5,725.0 L570.5,725.0 L572.5,725.0 L574.5,725.0 L576.5,725.0 L578.5,725.0 L580.5,725.0 L582.5,725.0 L584.5,725.0 L586.5,725.0 L588.5,725.0 L590.5,725.0 L592.5,725.0 L594.5,725.0 L596.5,725.0 L598.5,725.0 L600.5,725.0 L602.5,725.0 L604.5,725.0 L606.5,725.0 L608.5,725.0 L610.5,725.0 L612.5,725.0 L614.5,725.0 L616.5,725.0 L618.5,725.0 L620.5,725.0 L622.5,725.0 L624.5,725.0 L626.5,725.0 L628.5,725.0 L630.5,725.0 L632.5,724.9 L634.5,724.9 L636.5,724.9 L638.5,724.9 L640.5,724.9 L642.5,724.9 L644.5,724.8 L646.5,724.8 L648.5,724.8 L650.5,724.8 L652.5,724.8 L654.5,724.7 L656.5,724.7 L658.5,724.7 L660.5,724.6 L662.5,724.6 L664.5,724.6 L666.5,724.5 L668.5,724.5 L670.5,724.5 L672.5,724.4 L674.5,724.4 L676.5,724.3 L678.5,724.3 L680.5,724.3 L682.5,724.2 L684.5,724.2 L686.5,724.1 L688.5,724.1 L690.5,724.0 L692.5,724.0 L694.5,723.9 L696.5,723.9 L698.5,723.8 L700.5,723.8 L702.5,723.7 L704.5,723.6 L706.5,723.6 L708.5,723.5 L710.5,723.5 L712.5,723.4 L714.5,723.3 L716.5,723.3 L718.5,723.2 L720.5,723.1 L722.5,723.1 L724.5,723.0 L726.5,722.9 L728.5,722.8 L730.5,722.8 L732.5,722.7 L734.5,722.6 L736.5,722.5 L738.5,722.5 L740.5,722.4 L742.5,722.3 L744.5,722.2 L746.5,722.1 L748.5,722.1 L750.5,722.0 L752.5,721.9 L754.5,721.8 L756.5,721.7 L758.5,721.6 L760.5,721.5 L762.5,721.5 L764.5,721.4 L766.5,721.3 L768.5,721.2 L770.5,721.1 L772.5,721.0 L774.5,720.9 L776.5,720.8 L778.5,720.7 L780.5,720.6 L782.5,720.5 L784.5,720.4 L786.5,720.3 L788.5,720.2 L790.5,720.1 L792.5,720.0 L794.5,719.9 L796.5,719.8 L798.5,719.7 L800.5,719.6 L802.5,719.5 L804.5,719.4 L806.5,719.2 L808.5,719.1 L810.5,719.0 L812.5,718.9 L814.5,718.7 L816.5,718.6 L818.5,718.4 L820.5,718.2 L822.5,718.0 L824.5,717.9 L826.5,717.7 L828.5,717.5 L830.5,717.2 L832.5,717.0 L834.5,716.8 L836.5,716.6 L838.5,716.3 L840.5,716.1 L842.5,715.9 L844.5,715.7 L846.5,715.4 L848.5,715.2 L850.5,715.0 L852.5,714.8 L854.5,714.6 L856.5,714.3 L858.5,714.1 L860.5,713.9 L862.5,713.7 L864.5,713.5 L866.5,713.3 L868.5,713.1 L870.5,712.9 L872.5,712.7 L874.5,712.5 L876.5,712.3 L878.5,712.1 L880.5,711.9 L882.5,711.7 L884.5,711.5 L886.5,711.3 L888.5,711.2 L890.5,711.0 L892.5,710.8 L894.5,710.6 L896.5,710.4 L898.5,710.2 L900.5,710.0 L902.5,709.8 L904.5,709.6 L906.5,709.4 L908.5,709.2 L910.5,709.0 L912.5,708.8 L914.5,708.6 L916.5,708.5 L918.5,708.3 L920.5,708.1 L922.5,707.9 L924.5,707.7 L926.5,707.4 L928.5,707.2 L930.5,707.0 L932.5,706.8 L934.5,706.6 L936.5,706.4 L938.5,706.2 L940.5,706.0 L942.5,705.7 L944.5,705.5 L946.5,705.3 L948.5,705.1 L950.5,704.8 L952.5,704.6 L954.5,704.4 L956.5,704.1 L958.5,703.9 L960.5,703.6 L962.5,703.4 L964.5,703.1 L966.5,702.9 L968.5,702.6 L970.5,702.3 L972.5,702.1 L974.5,701.8 L976.5,701.5 L978.5,701.2 L980.5,700.9 L982.5,700.6 L984.5,700.3 L986.5,700.0 L988.5,699.7 L990.5,699.4 L992.5,699.0 L994.5,698.7 L996.5,698.4 L998.5,698.0 L1000.5,697.7 L1002.5,697.3 L1004.5,696.9 L1006.5,696.5 L1008.5,696.1 L1010.5,695.7 L1012.5,695.3 L1014.5,694.8 L1016.5,694.4 L1018.5,693.9 L1020.5,693.4 L1022.5,693.0 L1024.5,692.5 L1026.5,691.9 L1028.5,691.4 L1030.5,690.9 L1032.5,690.3 L1034.5,689.8 L1036.5,689.2 L1038.5,688.6 L1040.5,688.1 L1042.5,687.5 L1044.5,686.9 L1046.5,686.3 L1048.5,685.6 L1050.5,685.0 L1052.5,684.4 L1054.5,683.7 L1056.5,683.0 L1058.5,682.4 L1060.5,681.7 L1062.5,681.0 L1064.5,680.3 L1066.5,679.6 L1068.5,678.8 L1070.5,678.1 L1072.5,677.3 L1074.5,676.6 L1076.5,675.8 L1078.5,674.9 L1080.5,674.1 L1082.5,673.3 L1084.5,672.4 L1086.5,671.5 L1088.5,670.6 L1090.5,669.6 L1092.5,668.7 L1094.5,667.6 L1096.5,666.6 L1098.5,665.5 L1100.5,664.4 L1102.5,663.2 L1104.5,661.9 L1106.5,660.6 L1108.5,659.3 L1110.5,657.9 L1112.5,656.4 L1114.5,654.9 L1116.5,653.3 L1118.5,651.7 L1120.5,650.0 L1122.5,648.2 L1124.5,646.4 L1126.5,644.6 L1128.5,642.6 L1130.5,640.7 L1132.5,638.7 L1134.5,636.7 L1136.5,634.6 L1138.5,632.5 L1140.5,630.3 L1142.5,628.1 L1144.5,625.9 L1146.5,623.6 L1148.5,621.3 L1150.5,619.0 L1152.5,616.6 L1154.5,614.2 L1156.5,611.8 L1158.5,609.3 L1160.5,606.8 L1162.5,604.2 L1164.5,601.6 L1166.5,599.0 L1168.5,596.4 L1170.5,593.8 L1172.5,591.1 L1174.5,588.4 L1176.5,585.8 L1178.5,583.1 L1180.5,580.5 L1182.5,577.9 L1184.5,575.3 L1186.5,572.7 L1188.5,570.1 L1190.5,567.6 L1192.5,565.1 L1194.5,562.7 L1196.5,560.2 L1198.5,557.8 L1200.5,555.5 L1202.5,553.1 L1204.5,550.8 L1206.5,548.5 L1208.5,546.2 L1210.5,543.9 L1212.5,541.6 L1214.5,539.3 L1216.5,537.0 L1218.5,534.6 L1220.5,532.3 L1222.5,530.0 L1224.5,527.7 L1226.5,525.3 L1228.5,522.9 L1230.5,520.5 L1232.5,518.0 L1234.5,515.6 L1236.5,513.1 L1238.5,510.6 L1240.5,508.0 L1242.5,505.4 L1244.5,502.9 L1246.5,500.2 L1248.5,497.6 L1250.5,495.0 L1252.5,492.4 L1254.5,489.7 L1256.5,487.1 L1258.5,484.5 L1260.5,481.9 L1262.5,479.4 L1264.5,476.8 L1266.5,474.3 L1268.5,471.9 L1270.5,469.4 L1272.5,467.0 L1274.5,464.7 L1276.5,462.3 L1278.5,460.0 L1280.5,457.8 L1282.5,455.6 L1284.5,453.4 L1286.5,451.2 L1288.5,449.2 L1290.5,447.1 L1292.5,445.1 L1294.5,443.2 L1296.5,441.3 L1298.5,439.4 L1300.5,437.7 L1302.5,436.0 L1304.5,434.3 L1306.5,432.8 L1308.5,431.3 L1310.5,429.9 L1312.5,428.7 L1314.5,427.5 L1316.5,426.4 L1318.5,425.4 L1320.5,424.5 L1322.5,423.7 L1324.5,423.0 L1326.5,422.4 L1328.5,422.0 L1330.5,421.6 L1332.5,421.4 L1334.5,421.3 L1336.5,421.2 L1338.5,421.3 L1340.5,421.5 L1342.5,421.8 L1344.5,422.3 L1346.5,422.8 L1348.5,423.4 L1350.5,424.2 L1352.5,425.0 L1354.5,426.0 L1356.5,427.0 L1358.5,428.2 L1360.5,429.5 L1362.5,430.8 L1364.5,432.3 L1366.5,433.8 L1368.5,435.5 L1370.5,437.2 L1372.5,439.0 L1374.5,440.9 L1376.5,442.9 L1378.5,444.9 L1380.5,447.0 L1382.5,449.1 L1384.5,451.3 L1386.5,453.6 L1388.5,455.9 L1390.5,458.3 L1392.5,460.7 L1394.5,463.1 L1396.5,465.6 L1398.5,468.1 L1400.5,470.6 L1402.5,473.2 L1404.5,475.8 L1406.5,478.4 L1408.5,481.1 L1410.5,483.8 L1412.5,486.5 L1414.5,489.2 L1416.5,491.9 L1418.5,494.7 L1420.5,497.5 L1422.5,500.2 L1424.5,503.0 L1426.5,505.8 L1428.5,508.6 L1430.5,511.4 L1432.5,514.2 L1434.5,516.9 L1436.5,519.7 L1438.5,522.5 L1440.5,525.2 L1442.5,528.0 L1444.5,530.7 L1446.5,533.4 L1448.5,536.0 L1450.5,538.7 L1452.5,541.3 L1454.5,543.8 L1456.5,546.4 L1458.5,548.9 L1460.5,551.4 L1462.5,553.8 L1464.5,556.2 L1466.5,558.6 L1468.5,560.9 L1470.5,563.2 L1472.5,565.5 L1474.5,567.7 L1476.5,569.9 L1478.5,572.0 L1480.5,574.1 L1482.5,576.2 L1484.5,578.2 L1486.5,580.2 L1488.5,582.2 L1490.5,584.2 L1492.5,586.1 L1494.5,588.1 L1496.5,590.0 L1498.5,591.9 L1500.5,593.7 L1502.5,595.6 L1504.5,597.5 L1506.5,599.3 L1508.5,601.2 L1510.5,603.1 L1512.5,604.9 L1514.5,606.8 L1516.5,608.7 L1518.5,610.5 L1520.5,612.4 L1522.5,614.3 L1524.5,616.1 L1526.5,618.0 L1528.5,619.9 L1530.5,621.8 L1532.5,623.7 L1534.5,625.6 L1536.5,627.5 L1538.5,629.4 L1540.5,631.2 L1542.5,633.1 L1544.5,635.0 L1546.5,636.9 L1548.5,638.7 L1550.5,640.6 L1552.5,642.5 L1554.5,644.3 L1556.5,646.2 L1558.5,648.0 L1560.5,649.8 L1562.5,651.7 L1564.5,653.5 L1566.5,655.3 L1568.5,657.1 L1570.5,658.8 L1572.5,660.6 L1574.5,662.3 L1576.5,664.0 L1578.5,665.7 L1580.5,667.4 L1582.5,669.1 L1584.5,670.7 L1586.5,672.3 L1588.5,673.8 L1590.5,675.4 L1592.5,676.8 L1594.5,678.3 L1596.5,679.7 L1598.5,681.1 L1600.5,682.5 L1602.5,683.8 L1604.5,685.0 L1606.5,686.3 L1608.5,687.5 L1610.5,688.7 L1612.5,689.9 L1614.5,691.0 L1616.5,692.1 L1618.5,693.2 L1620.5,694.3 L1622.5,695.3 L1624.5,696.3 L1626.5,697.4 L1628.5,698.4 L1630.5,699.4 L1632.5,700.4 L1634.5,701.4 L1636.5,702.3 L1638.5,703.3 L1640.5,704.3 L1642.5,705.2 L1644.5,706.2 L1646.5,707.1 L1648.5,708.0 L1650.5,708.9 L1652.5,709.8 L1654.5,710.7 L1656.5,711.6 L1658.5,712.5 L1660.5,713.3 L1662.5,714.2 L1664.5,715.0 L1666.5,715.8 L1668.5,716.6 L1670.5,717.3 L1672.5,718.1 L1674.5,718.8 L1676.5,719.5 L1678.5,720.2 L1680.5,720.9 L1682.5,721.5 L1684.5,722.1 L1686.5,722.7 L1688.5,723.3 L1690.5,723.9 L1692.5,724.4 L1694.5,725.0 L1696.5,725.5 L1698.5,725.9 L1700.5,726.4 L1702.5,726.9 L1704.5,727.3 L1706.5,727.7 L1708.5,728.1 L1710.5,728.5 L1712.5,728.9 L1714.5,729.2 L1716.5,729.5 L1718.5,729.9 L1720.5,730.2 L1722.5,730.5 L1724.5,730.7 L1726.5,731.0 L1728.5,731.3 L1730.5,731.5 L1732.5,731.7 L1734.5,731.9 L1736.5,732.1 L1738.5,732.3 L1740.5,732.5 L1742.5,732.7 L1744.5,732.9 L1746.5,733.0 L1748.5,733.2 L1750.5,733.3 L1752.5,733.4 L1754.5,733.6 L1756.5,733.7 L1758.5,733.8 L1760.5,733.9 L1762.5,734.0 L1764.5,734.1 L1766.5,734.2 L1768.5,734.3 L1770.5,734.3 L1772.5,734.4 L1774.5,734.5 L1776.5,734.6 L1778.5,734.6 L1780.5,734.7 L1782.5,734.7 L1784.5,734.8 L1786.5,734.8 L1788.5,734.9 L1790.5,734.9 L1792.5,735.0 L1794.5,735.0 L1796.5,735.0 L1798.5,735.1 L1800.5,735.1 L1802.5,735.1 L1804.5,735.2 L1806.5,735.2 L1808.5,735.2 L1810.5,735.2 L1812.5,735.2 L1814.5,735.3 L1816.5,735.3 L1818.5,735.3 L1820.5,735.3 L1822.5,735.3 L1824.5,735.3 L1826.5,735.4 L1828.5,735.4 L1830.5,735.4 L1832.5,735.4 L1834.5,735.4 L1836.5,735.4 L1838.5,735.4 L1840.5,735.4 L1842.5,735.4 L1844.5,735.4 L1846.5,735.4 L1848.5,735.4 L1850.5,735.4 L1852.5,735.5 L1854.5,735.5 L1856.5,735.5 L1858.5,735.5 L1860.5,735.5 L1862.5,735.5 L1864.5,735.6 L1866.5,735.6 L1868.5,735.7 L1870.5,735.8 L1872.5,735.9 L1874.5,736.0 L1876.5,736.1 L1878.5,736.3 L1880.5,736.5 L1882.5,736.7 L1884.5,736.9 L1886.5,737.2 L1888.5,737.4 L1890.5,737.6 L1892.5,737.8 L1894.5,737.9 L1896.5,738.1 L1898.5,738.2" stroke="#808080" stroke-width="14" />
<path d="M132.5,721.1 L134.5,721.1 L136.5,721.2 L138.5,721.2 L140.5,721.2 L142.5,721.3 L144.5,721.3 L146.5,721.3 L148.5,721.4 L150.5,721.4 L152.5,721.5 L154.5,721.5 L156.5,721.6 L158.5,721.6 L160.5,721.6 L162.5,721.7 L164.5,721.7 L166.5,721.8 L168.5,721.8 L170.5,721.9 L172.5,721.9 L174.5,721.9 L176.5,722.0 L178.5,722.0 L180.5,722.1 L182.5,722.1 L184.5,722.1 L186.5,722.2 L188.5,722.2 L190.5,722.3 L192.5,722.3 L194.5,722.3 L196.5,722.4 L198.5,722.4 L200.5,722.5 L202.5,722.5 L204.5,722.5 L206.5,722.6 L208.5,722.6 L210.5,722.6 L212.5,722.7 L214.5,722.7 L216.5,722.7 L218.5,722.8 L220.5,722.8 L222.5,722.8 L224.5,722.9 L226.5,722.9 L228.5,722.9 L230.5,723.0 L232.5,723.0 L234.5,723.0 L236.5,723.1 L238.5,723.1 L240.5,723.1 L242.5,723.1 L244.5,723.2 L246.5,723.2 L248.5,723.2 L250.5,723.3 L252.5,723.3 L254.5,723.3 L256.5,723.3 L258.5,723.4 L260.5,723.4 L262.5,723.4 L264.5,723.5 L266.5,723.5 L268.5,723.5 L270.5,723.5 L272.5,723.6 L274.5,723.6 L276.5,723.6 L278.5,723.6 L280.5,723.7 L282.5,723.7 L284.5,723.7 L286.5,723.7 L288.5,723.7 L290.5,723.8 L292.5,723.8 L294.5,723.8 L296.5,723.8 L298.5,723.9 L300.5,723.9 L302.5,723.9 L304.5,723.9 L306.5,723.9 L308.5,724.0 L310.5,724.0 L312.5,724.0 L314.5,724.0 L316.5,724.0 L318.5,724.1 L320.5,724.1 L322.5,724.1 L324.5,724.1 L326.5,724.1 L328.5,724.1 L330.5,724.2 L332.5,724.2 L334.5,724.2 L336.5,724.2 L338.5,724.2 L340.5,724.3 L342.5,724.3 L344.5,724.3 L346.5,724.3 L348.5,724.3 L350.5,724.3 L352.5,724.3 L354.5,724.4 L356.5,724.4 L358.5,724.4 L360.5,724.4 L362.5,724.4 L364.5,724.4 L366.5,724.4 L368.5,724.5 L370.5,724.5 L372.5,724.5 L374.5,724.5 L376.5,724.5 L378.5,724.5 L380.5,724.5 L382.5,724.5 L384.5,724.6 L386.5,724.6 L388.5,724.6 L390.5,724.6 L392.5,724.6 L394.5,724.6 L396.5,724.6 L398.5,724.6 L400.5,724.6 L402.5,724.6 L404.5,724.7 L406.5,724.7 L408.5,724.7 L410.5,724.7 L412.5,724.7 L414.5,724.7 L416.5,724.7 L418.5,724.7 L420.5,724.7 L422.5,724.7 L424.5,724.7 L426.5,724.8 L428.5,724.8 L430.5,724.8 L432.5,724.8 L434.5,724.8 L436.5,724.8 L438.5,724.8 L440.5,724.8 L442.5,724.8 L444.5,724.8 L446.5,724.8 L448.5,724.8 L450.5,724.8 L452.5,724.8 L454.5,724.8 L456.5,724.9 L458.5,724.9 L460.5,724.9 L462.5,724.9 L464.5,724.9 L466.5,724.9 L468.5,724.9 L470.5,724.9 L472.5,724.9 L474.5,724.9 L476.5,724.9 L478.5,724.9 L480.5,724.9 L482.5,724.9 L484.5,724.9 L486.5,724.9 L488.5,724.9 L490.5,724.9 L492.5,724.9 L494.5,724.9 L496.5,724.9 L498.5,724.9 L500.5,724.9 L502.5,724.9 L504.5,724.9 L506.5,725.0 L508.5,725.0 L510.5,725.0 L512.5,725.0 L514.5,725.0 L516.5,725.0 L518.5,725.0 L520.5,725.0 L522.5,725.0 L524.5,725.0 L526.5,725.0 L528.5,725.0 L530.5,725.0 L532.5,725.0 L534.5,725.0 L536.5,725.0 L538.5,725.0 L540.5,725.0 L542.5,725.0 L544.5,725.0 L546.5,725.0 L548.5,725.0 L550.5,725.0 L552.5,725.0 L554.5,725.0 L556.5,725.0 L558.5,725.0 L560.5,725.0 L562.5,725.0 L564.5,725.0 L566.5,725.0 L568.5,725.0 L570.5,725.0 L572.5,725.0 L574.5,725.0 L576.5,725.0 L578.5,725.0 L580.5,725.0 L582.5,725.0 L584.5,725.0 L586.5,725.0 L588.5,725.0 L590.5,725.0 L592.5,725.0 L594.5,725.0 L596.5,725.0 L598.5,725.0 L600.5,725.0 L602.5,725.0 L604.5,725.0 L606.5,725.0 L608.5,725.0 L610.5,725.0 L612.5,725.0 L614.5,725.0 L616.5,725.0 L618.5,725.0 L620.5,725.0 L622.5,725.0 L624.5,725.0 L626.5,725.0 L628.5,725.0 L630.5,725.0 L632.5,724.9 L634.5,724.9 L636.5,724.9 L638.5,724.9 L640.5,724.9 L642.5,724.9 L644.5,724.8 L646.5,724.8 L648.5,724.8 L650.5,724.8 L652.5,724.8 L654.5,724.7 L656.5,724.7 L658.5,724.7 L660.5,724.6 L662.5,724.6 L664.5,724.6 L666.5,724.5 L668.5,724.5 L670.5,724.5 L672.5,724.4 L674.5,724.4 L676.5,724.3 L678.5,724.3 L680.5,724.3 L682.5,724.2 L684.5,724.2 L686.5,724.1 L688.5,724.1 L690.5,724.0 L692.5,724.0 L694.5,723.9 L696.5,723.9 L698.5,723.8 L700.5,723.8 L702.5,723.7 L704.5,723.6 L706.5,723.6 L708.5,723.5 L710.5,723.5 L712.5,723.4 L714.5,723.3 L716.5,723.3 L718.5,723.2 L720.5,723.1 L722.5,723.1 L724.5,723.0 L726.5,722.9 L728.5,722.8 L730.5,722.8 L732.5,722.7 L734.5,722.6 L736.5,722.5 L738.5,722.5 L740.5,722.4 L742.5,722.3 L744.5,722.2 L746.5,722.1 L748.5,722.1 L750.5,722.0 L752.5,721.9 L754.5,721.8 L756.5,721.7 L758.5,721.6 L760.5,721.5 L762.5,721.5 L764.5,721.4 L766.5,721.3 L768.5,721.2 L770.5,721.1 L772.5,721.0 L774.5,720.9 L776.5,720.8 L778.5,720.7 L780.5,720.6 L782.5,720.5 L784.5,720.4 L786.5,720.3 L788.5,720.2 L790.5,720.1 L792.5,720.0 L794.5,719.9 L796.5,719.8 L798.5,719.7 L800.5,719.6 L802.5,719.5 L804.5,719.4 L806.5,719.2 L808.5,719.1 L810.5,719.0 L812.5,718.9 L814.5,718.7 L816.5,718.6 L818.5,718.4 L820.5,718.2 L822.5,718.0 L824.5,717.9 L826.5,717.7 L828.5,717.5 L830.5,717.2 L832.5,717.0 L834.5,716.8 L836.5,716.6 L838.5,716.3 L840.5,716.1 L842.5,715.9 L844.5,715.7 L846.5,715.4 L848.5,715.2 L850.5,715.0 L852.5,714.8 L854.5,714.6 L856.5,714.3 L858.5,714.1 L860.5,713.9 L862.5,713.7 L864.5,713.5 L866.5,713.3 L868.5,713.1 L870.5,712.9 L872.5,712.7 L874.5,712.5 L876.5,712.3 L878.5,712.1 L880.5,711.9 L882.5,711.7 L884.5,711.5 L886.5,711.3 L888.5,711.2 L890.5,711.0 L892.5,710.8 L894.5,710.6 L896.5,710.4 L898.5,710.2 L900.5,710.0 L902.5,709.8 L904.5,709.6 L906.5,709.4 L908.5,709.2 L910.5,709.0 L912.5,708.8 L914.5,708.7 L916.5,708.5 L918.5,708.3 L920.5,708.1 L922.5,707.9 L924.5,707.7 L926.5,707.5 L928.5,707.2 L930.5,707.0 L932.5,706.8 L934.5,706.6 L936.5,706.4 L938.5,706.2 L940.5,706.0 L942.5,705.8 L944.5,705.5 L946.5,705.3 L948.5,705.1 L950.5,704.8 L952.5,704.6 L954.5,704.4 L956.5,704.1 L958.5,703.9 L960.5,703.6 L962.5,703.4 L964.5,703.1 L966.5,702.9 L968.5,702.6 L970.5,702.4 L972.5,702.1 L974.5,701.8 L976.5,701.5 L978.5,701.3 L980.5,701.0 L982.5,700.7 L984.5,700.4 L986.5,700.1 L988.5,699.8 L990.5,699.5 L992.5,699.1 L994.5,698.8 L996.5,698.5 L998.5,698.1 L1000.5,697.8 L1002.5,697.4 L1004.5,697.1 L1006.5,696.7 L1008.5,696.3 L1010.5,695.9 L1012.5,695.5 L1014.5,695.1 L1016.5,694.7 L1018.5,694.2 L1020.5,693.8 L1022.5,693.3 L1024.5,692.8 L1026.5,692.3 L1028.5,691.8 L1030.5,691.3 L1032.5,690.8 L1034.5,690.3 L1036.5,689.8 L1038.5,689.2 L1040.5,688.7 L1042.5,688.1 L1044.5,687.5 L1046.5,686.9 L1048.5,686.3 L1050.5,685.7 L1052.5,685.1 L1054.5,684.5 L1056.5,683.9 L1058.5,683.3 L1060.5,682.6 L1062.5,682.0 L1064.5,681.3 L1066.5,680.7 L1068.5,680.0 L1070.5,679.3 L1072.5,678.6 L1074.5,678.0 L1076.5,677.3 L1078.5,676.6 L1080.5,675.8 L1082.5,675.1 L1084.5,674.4 L1086.5,673.7 L1088.5,672.9 L1090.5,672.2 L1092.5,671.4 L1094.5,670.7 L1096.5,669.9 L1098.5,669.1 L1100.5,668.3 L1102.5,667.4 L1104.5,666.5 L1106.5,665.7 L1108.5,664.7 L1110.5,663.8 L1112.5,662.9 L1114.5,661.9 L1116.5,660.9 L1118.5,659.9 L1120.5,658.8 L1122.5,657.8 L1124.5,656.8 L1126.5,655.7 L1128.5,654.7 L1130.5,653.6 L1132.5,652.6 L1134.5,651.6 L1136.5,650.6 L1138.5,649.6 L1140.5,648.6 L1142.5,647.6 L1144.5,646.6 L1146.5,645.7 L1148.5,644.8 L1150.5,643.9 L1152.5,643.0 L1154.5,642.1 L1156.5,641.2 L1158.5,640.3 L1160.5,639.5 L1162.5,638.6 L1164.5,637.8 L1166.5,637.0 L1168.5,636.2 L1170.5,635.4 L1172.5,634.7 L1174.5,634.1 L1176.5,633.5 L1178.5,632.9 L1180.5,632.4 L1182.5,632.0 L1184.5,631.7 L1186.5,631.5 L1188.5,631.3 L1190.5,631.2 L1192.5,631.2 L1194.5,631.3 L1196.5,631.5 L1198.5,631.8 L1200.5,632.2 L1202.5,632.6 L1204.5,633.1 L1206.5,633.7 L1208.5,634.4 L1210.5,635.1 L1212.5,635.9 L1214.5,636.7 L1216.5,637.6 L1218.5,638.6 L1220.5,639.5 L1222.5,640.5 L1224.5,641.6 L1226.5,642.6 L1228.5,643.7 L1230.5,644.8 L1232.5,645.9 L1234.5,647.0 L1236.5,648.1 L1238.5,649.2 L1240.5,650.3 L1242.5,651.4 L1244.5,652.5 L1246.5,653.6 L1248.5,654.7 L1250.5,655.8 L1252.5,656.9 L1254.5,658.0 L1256.5,659.1 L1258.5,660.2 L1260.5,661.3 L1262.5,662.4 L1264.5,663.6 L1266.5,664.7 L1268.5,665.9 L1270.5,667.1 L1272.5,668.3 L1274.5,669.4 L1276.5,670.6 L1278.5,671.8 L1280.5,673.0 L1282.5,674.1 L1284.5,675.3 L1286.5,676.4 L1288.5,677.6 L1290.5,678.7 L1292.5,679.8 L1294.5,680.9 L1296.5,682.0 L1298.5,683.0 L1300.5,684.1 L1302.5,685.1 L1304.5,686.1 L1306.5,687.1 L1308.5,688.1 L1310.5,689.1 L1312.5,690.1 L1314.5,691.0 L1316.5,692.0 L1318.5,692.9 L1320.5,693.8 L1322.5,694.8 L1324.5,695.7 L1326.5,696.6 L1328.5,697.4 L1330.5,698.3 L1332.5,699.1 L1334.5,700.0 L1336.5,700.8 L1338.5,701.6 L1340.5,702.4 L1342.5,703.1 L1344.5,703.8 L1346.5,704.6 L1348.5,705.3 L1350.5,706.0 L1352.5,706.6 L1354.5,707.3 L1356.5,707.9 L1358.5,708.6 L1360.5,709.2 L1362.5,709.8 L1364.5,710.4 L1366.5,710.9 L1368.5,711.5 L1370.5,712.1 L1372.5,712.6 L1374.5,713.1 L1376.5,713.6 L1378.5,714.2 L1380.5,714.7 L1382.5,715.1 L1384.5,715.6 L1386.5,716.1 L1388.5,716.5 L1390.5,717.0 L1392.5,717.4 L1394.5,717.8 L1396.5,718.2 L1398.5,718.6 L1400.5,719.0 L1402.5,719.3 L1404.5,719.7 L1406.5,720.1 L1408.5,720.4 L1410.5,720.8 L1412.5,721.1 L1414.5,721.4 L1416.5,721.7 L1418.5,722.0 L1420.5,722.3 L1422.5,722.6 L1424.5,722.9 L1426.5,723.2 L1428.5,723.5 L1430.5,723.7 L1432.5,724.0 L1434.5,724.3 L1436.5,724.5 L1438.5,724.7 L1440.5,725.0 L1442.5,725.2 L1444.5,725.4 L1446.5,725.6 L1448.5,725.8 L1450.5,726.0 L1452.5,726.2 L1454.5,726.3 L1456.5,726.5 L1458.5,726.7 L1460.5,726.9 L1462.5,727.0 L1464.5,727.2 L1466.5,727.3 L1468.5,727.5 L1470.5,727.6 L1472.5,727.8 L1474.5,727.9 L1476.5,728.1 L1478.5,728.2 L1480.5,728.4 L1482.5,728.5 L1484.5,728.7 L1486.5,728.8 L1488.5,728.9 L1490.5,729.1 L1492.5,729.2 L1494.5,729.3 L1496.5,729.4 L1498.5,729.5 L1500.5,729.7 L1502.5,729.8 L1504.5,729.9 L1506.5,730.0 L1508.5,730.1 L1510.5,730.2 L1512.5,730.3 L1514.5,730.4 L1516.5,730.5 L1518.5,730.6 L1520.5,730.7 L1522.5,730.8 L1524.5,730.9 L1526.5,731.0 L1528.5,731.1 L1530.5,731.2 L1532.5,731.3 L1534.5,731.4 L1536.5,731.5 L1538.5,731.5 L1540.5,731.6 L1542.5,731.7 L1544.5,731.8 L1546.5,731.9 L1548.5,731.9 L1550.5,732.0 L1552.5,732.1 L1554.5,732.1 L1556.5,732.2 L1558.5,732.3 L1560.5,732.4 L1562.5,732.4 L1564.5,732.5 L1566.5,732.6 L1568.5,732.6 L1570.5,732.7 L1572.5,732.8 L1574.5,732.8 L1576.5,732.9 L1578.5,733.0 L1580.5,733.0 L1582.5,733.1 L1584.5,733.2 L1586.5,733.2 L1588.5,733.3 L1590.5,733.4 L1592.5,733.4 L1594.5,733.5 L1596.5,733.6 L1598.5,733.6 L1600.5,733.7 L1602.5,733.7 L1604.5,733.8 L1606.5,733.9 L1608.5,733.9 L1610.5,734.0 L1612.5,734.0 L1614.5,734.1 L1616.5,734.2 L1618.5,734.2 L1620.5,734.3 L1622.5,734.3 L1624.5,734.4 L1626.5,734.4 L1628.5,734.5 L1630.5,734.5 L1632.5,734.6 L1634.5,734.6 L1636.5,734.7 L1638.5,734.7 L1640.5,734.8 L1642.5,734.8 L1644.5,734.9 L1646.5,734.9 L1648.5,734.9 L1650.5,735.0 L1652.5,735.0 L1654.5,735.0 L1656.5,735.1 L1658.5,735.1 L1660.5,735.1 L1662.5,735.2 L1664.5,735.2 L1666.5,735.2 L1668.5,735.3 L1670.5,735.3 L1672.5,735.3 L1674.5,735.3 L1676.5,735.4 L1678.5,735.4 L1680.5,735.4 L1682.5,735.4 L1684.5,735.4 L1686.5,735.4 L1688.5,735.4 L1690.5,735.5 L1692.5,735.5 L1694.5,735.5 L1696.5,735.5 L1698.5,735.5 L1700.5,735.5 L1702.5,735.5 L1704.5,735.5 L1706.5,735.5 L1708.5,735.5 L1710.5,735.5 L1712.5,735.5 L1714.5,735.5 L1716.5,735.5 L1718.5,735.5 L1720.5,735.5 L1722.5,735.5 L1724.5,735.5 L1726.5,735.5 L1728.5,735.5 L1730.5,735.5 L1732.5,735.5 L1734.5,735.5 L1736.5,735.5 L1738.5,735.5 L1740.5,735.5 L1742.5,735.5 L1744.5,735.5 L1746.5,735.5 L1748.5,735.5 L1750.5,735.5 L1752.5,735.5 L1754.5,735.5 L1756.5,735.5 L1758.5,735.5 L1760.5,735.5 L1762.5,735.5 L1764.5,735.5 L1766.5,735.5 L1768.5,735.5 L1770.5,735.5 L1772.5,735.5 L1774.5,735.5 L1776.5,735.5 L1778.5,735.5 L1780.5,735.5 L1782.5,735.5 L1784.5,735.5 L1786.5,735.5 L1788.5,735.5 L1790.5,735.5 L1792.5,735.5 L1794.5,735.5 L1796.5,735.5 L1798.5,735.5 L1800.5,735.5 L1802.5,735.5 L1804.5,735.5 L1806.5,735.5 L1808.5,735.5 L1810.5,735.5 L1812.5,735.5 L1814.5,735.5 L1816.5,735.5 L1818.5,735.5 L1820.5,735.5 L1822.5,735.5 L1824.5,735.5 L1826.5,735.5 L1828.5,735.5 L1830.5,735.5 L1832.5,735.5 L1834.5,735.5 L1836.5,735.5 L1838.5,735.5 L1840.5,735.5 L1842.5,735.5 L1844.5,735.5 L1846.5,735.5 L1848.5,735.5 L1850.5,735.5 L1852.5,735.5 L1854.5,735.5 L1856.5,735.5 L1858.5,735.5 L1860.5,735.5 L1862.5,735.6 L1864.5,735.6 L1866.5,735.6 L1868.5,735.7 L1870.5,735.8 L1872.5,735.9 L1874.5,736.0 L1876.5,736.2 L1878.5,736.3 L1880.5,736.5 L1882.5,736.7 L1884.5,736.9 L1886.5,737.2 L1888.5,737.4 L1890.5,737.6 L1892.5,737.8 L1894.5,737.9 L1896.5,738.1 L1898.5,738.2 L1900.5,738.3 L1902.5,738.3 L1904.5,738.4 L1906.5,738.4 L1908.5,738.5 L1910.5,738.5 L1912.5,738.5 L1914.5,738.5 L1916.5,738.5 L1918.5,738.5 L1920.5,738.5 L1922.5,738.5 L1924.5,738.5 L1926.5,738.5 L1928.5,738.5 L1930.5,738.5 L1932.5,738.5 L1934.5,738.5 L1936.5,738.5 L1938.5,738.5 L1940.5,738.5 L1942.5,738.5 L1944.5,738.5 L1946.5,738.5 L1948.5,738.5 L1950.5,738.5 L1952.5,738.5 L1954.5,738.5 L1956.5,738.5 L1958.5,738.5 L1960.5,738.5 L1962.5,738.5 L1964.5,738.5 L1966.5,738.5 L1968.5,738.5 L1970.5,738.5 L1972.5,738.5 L1974.5,738.5 L1976.5,738.5 L1978.5,738.5 L1980.5,738.5 L1982.5,738.5 L1984.5,738.5 L1986.5,738.5 L1988.5,738.5 L1990.5,738.5 L1992.5,738.5 L1994.5,738.5 L1996.5,738.5 L1998.5,738.5 L2000.5,738.5 L2002.5,738.5 L2004.5,738.5" stroke="#f4a460" stroke-width="14" />
<path d="M1055.5,732.5 L1057.5,732.4 L1059.5,732.3 L1061.5,732.2 L1063.5,732.1 L1065.5,731.9 L1067.5,731.8 L1069.5,731.6 L1071.5,731.4 L1073.5,731.3 L1075.5,731.1 L1077.5,730.9 L1079.5,730.7 L1081.5,730.4 L1083.5,730.2 L1085.5,729.9 L1087.5,729.7 L1089.5,729.4 L1091.5,729.1 L1093.5,728.7 L1095.5,728.4 L1097.5,728.0 L1099.5,727.7 L1101.5,727.2 L1103.5,726.8 L1105.5,726.4 L1107.5,725.9 L1109.5,725.4 L1111.5,724.9 L1113.5,724.3 L1115.5,723.7 L1117.5,723.1 L1119.5,722.5 L1121.5,721.8 L1123.5,721.1 L1125.5,720.3 L1127.5,719.5 L1129.5,718.7 L1131.5,717.8 L1133.5,717.0 L1135.5,716.0 L1137.5,715.0 L1139.5,714.0 L1141.5,712.9 L1143.5,711.8 L1145.5,710.7 L1147.5,709.5 L1149.5,708.2 L1151.5,706.9 L1153.5,705.5 L1155.5,704.1 L1157.5,702.6 L1159.5,701.1 L1161.5,699.5 L1163.5,697.9 L1165.5,696.2 L1167.5,694.5 L1169.5,692.7 L1171.5,690.8 L1173.5,688.9 L1175.5,686.9 L1177.5,684.8 L1179.5,682.7 L1181.5,680.5 L1183.5,678.3 L1185.5,675.9 L1187.5,673.6 L1189.5,671.1 L1191.5,668.6 L1193.5,666.1 L1195.5,663.4 L1197.5,660.7 L1199.5,658.0 L1201.5,655.2 L1203.5,652.3 L1205.5,649.4 L1207.5,646.4 L1209.5,643.3 L1211.5,640.2 L1213.5,637.0 L1215.5,633.8 L1217.5,630.6 L1219.5,627.2 L1221.5,623.9 L1223.5,620.5 L1225.5,617.0 L1227.5,613.5 L1229.5,610.0 L1231.5,606.4 L1233.5,602.8 L1235.5,599.2 L1237.5,595.5 L1239.5,591.8 L1241.5,588.1 L1243.5,584.4 L1245.5,580.7 L1247.5,576.9 L1249.5,573.2 L1251.5,569.4 L1253.5,565.6 L1255.5,561.9 L1257.5,558.2 L1259.5,554.4 L1261.5,550.7 L1263.5,547.0 L1265.5,543.3 L1267.5,539.7 L1269.5,536.1 L1271.5,532.5 L1273.5,529.0 L1275.5,525.6 L1277.5,522.1 L1279.5,518.8 L1281.5,515.5 L1283.5,512.3 L1285.5,509.1 L1287.5,506.0 L1289.5,503.0 L1291.5,500.1 L1293.5,497.2 L1295.5,494.5 L1297.5,491.9 L1299.5,489.3 L1301.5,486.9 L1303.5,484.5 L1305.5,482.3 L1307.5,480.2 L1309.5,478.2 L1311.5,476.3 L1313.5,474.6 L1315.5,473.0 L1317.5,471.5 L1319.5,470.1 L1321.5,468.9 L1323.5,467.8 L1325.5,466.8 L1327.5,466.0 L1329.5,465.3 L1331.5,464.8 L1333.5,464.4 L1335.5,464.1 L1337.5,464.0 L1339.5,464.0 L1341.5,464.2 L1343.5,464.5 L1345.5,465.0 L1347.5,465.6 L1349.5,466.3 L1351.5,467.2 L1353.5,468.2 L1355.5,469.4 L1357.5,470.7 L1359.5,472.1 L1361.5,473.6 L1363.5,475.3 L1365.5,477.1 L1367.5,479.1 L1369.5,481.1 L1371.5,483.3 L1373.5,485.6 L1375.5,488.0 L1377.5,490.5 L1379.5,493.1 L1381.5,495.8 L1383.5,498.6 L1385.5,501.5 L1387.5,504.5 L1389.5,507.6 L1391.5,510.7 L1393.5,514.0 L1395.5,517.3 L1397.5,520.6 L1399.5,524.0 L1401.5,527.5 L1403.5,531.1 L1405.5,534.6 L1407.5,538.3 L1409.5,541.9 L1411.5,545.6 L1413.5,549.4 L1415.5,553.1 L1417.5,556.9 L1419.5,560.7 L1421.5,564.5 L1423.5,568.3 L1425.5,572.1 L1427.5,575.9 L1429.5,579.7 L1431.5,583.5 L1433.5,587.3 L1435.5,591.1 L1437.5,594.9 L1439.5,598.6 L1441.5,602.3 L1443.5,606.0 L1445.5,609.6 L1447.5,613.3 L1449.5,616.8 L1451.5,620.4 L1453.5,623.9 L1455.5,627.3 L1457.5,630.7 L1459.5,634.1 L1461.5,637.4 L1463.5,640.6 L1465.5,643.8 L1467.5,647.0 L1469.5,650.0 L1471.5,653.1 L1473.5,656.0 L1475.5,658.9 L1477.5,661.8 L1479.5,664.5 L1481.5,667.3 L1483.5,669.9 L1485.5,672.5 L1487.5,675.0 L1489.5,677.5 L1491.5,679.9 L1493.5,682.2 L1495.5,684.5 L1497.5,686.7 L1499.5,688.8 L1501.5,690.9 L1503.5,692.9 L1505.5,694.9 L1507.5,696.7 L1509.5,698.6 L1511.5,700.3 L1513.5,702.1 L1515.5,703.7 L1517.5,705.3 L1519.5,706.9 L1521.5,708.3 L1523.5,709.8 L1525.5,711.2 L1527.5,712.5 L1529.5,713.8 L1531.5,715.0 L1533.5,716.2 L1535.5,717.3 L1537.5,718.4 L1539.5,719.4 L1541.5,720.4 L1543.5,721.4 L1545.5,722.3 L1547.5,723.2 L1549.5,724.0 L1551.5,724.8 L1553.5,725.6 L1555.5,726.3 L1557.5,727.0 L1559.5,727.7 L1561.5,728.3 L1563.5,728.9 L1565.5,729.5 L1567.5,730.1 L1569.5,730.6 L1571.5,731.1 L1573.5,731.5 L1575.5,732.0 L1577.5,732.4 L1579.5,732.8 L1581.5,733.2 L1583.5,733.5 L1585.5,733.9 L1587.5,734.2 L1589.5,734.5 L1591.5,734.8 L1593.5,735.1 L1595.5,735.3 L1597.5,735.6 L1599.5,735.8 L1601.5,736.0 L1603.5,736.2 L1605.5,736.4 L1607.5,736.6 L1609.5,736.8 L1611.5,736.9 L1613.5,737.1 L1615.5,737.2 L1617.5,737.3 L1619.5,737.4 L1621.5,737.6 L1623.5,737.7 L1625.5,737.8 L1627.5,737.9 L1629.5,738.0 L1631.5,738.0 L1633.5,738.1 L1635.5,738.2 L1637.5,738.2 L1639.5,738.3 L1641.5,738.4 L1643.5,738.4 L1645.5,738.5 L1647.5,738.5 L1649.5,738.5 L1651.5,738.6 L1653.5,738.6 L1655.5,738.6 L1657.5,738.7 L1659.5,738.7 L1661.5,738.7 L1663.5,738.7 L1665.5,738.8 L1667.5,738.8 L1669.5,738.8 L1671.5,738.8 L1673.5,738.8 L1675.5,738.8 L1677.5,738.9 L1679.5,738.9 L1681.5,738.9 L1683.5,738.9 L1685.5,738.9 L1687.5,738.9 L1689.5,738.9 L1691.5,738.9 L1693.5,738.9 L1695.5,738.9 L1697.5,738.9 L1699.5,738.9 L1701.5,739.0 L1703.5,739.0 L1705.5,739.0 L1707.5,739.0 L1709.5,739.0 L1711.5,739.0 L1713.5,739.0 L1715.5,739.0 L1717.5,739.0 L1719.5,739.0 L1721.5,739.0 L1723.5,739.0 L1725.5,739.0 L1727.5,739.0 L1729.5,739.0 L1731.5,739.0 L1733.5,739.0 L1735.5,739.0 L1737.5,739.0 L1739.5,739.0 L1741.5,739.0 L1743.5,739.0 L1745.5,739.0 L1747.5,739.0 L1749.5,739.0 L1751.5,739.0 L1753.5,739.0 L1755.5,739.0 L1757.5,739.0 L1759.5,739.0" stroke="#00dc00" stroke-width="14" />
<path d="M132.5,725.0 L134.5,725.1 L136.5,725.1 L138.5,725.2 L140.5,725.2 L142.5,725.3 L144.5,725.4 L146.5,725.4 L148.5,725.5 L150.5,725.5 L152.5,725.6 L154.5,725.7 L156.5,725.7 L158.5,725.8 L160.5,725.8 L162.5,725.9 L164.5,726.0 L166.5,726.0 L168.5,726.1 L170.5,726.1 L172.5,726.2 L174.5,726.3 L176.5,726.3 L178.5,726.4 L180.5,726.4 L182.5,726.5 L184.5,726.6 L186.5,726.6 L188.5,726.7 L190.5,726.7 L192.5,726.8 L194.5,726.8 L196.5,726.9 L198.5,727.0 L200.5,727.0 L202.5,727.1 L204.5,727.1 L206.5,727.2 L208.5,727.2 L210.5,727.3 L212.5,727.4 L214.5,727.4 L216.5,727.5 L218.5,727.5 L220.5,727.6 L222.5,727.7 L224.5,727.7 L226.5,727.8 L228.5,727.8 L230.5,727.9 L232.5,728.0 L234.5,728.0 L236.5,728.1 L238.5,728.1 L240.5,728.2 L242.5,728.3 L244.5,728.3 L246.5,728.4 L248.5,728.4 L250.5,728.5 L252.5,728.5 L254.5,728.6 L256.5,728.7 L258.5,728.7 L260.5,728.8 L262.5,728.8 L264.5,728.9 L266.5,728.9 L268.5,729.0 L270.5,729.0 L272.5,729.1 L274.5,729.1 L276.5,729.2 L278.5,729.2 L280.5,729.3 L282.5,729.3 L284.5,729.4 L286.5,729.4 L288.5,729.5 L290.5,729.5 L292.5,729.6 L294.5,729.6 L296.5,729.6 L298.5,729.7 L300.5,729.7 L302.5,729.8 L304.5,729.8 L306.5,729.9 L308.5,729.9 L310.5,730.0 L312.5,730.0 L314.5,730.0 L316.5,730.1 L318.5,730.1 L320.5,730.2 L322.5,730.2 L324.5,730.3 L326.5,730.3 L328.5,730.4 L330.5,730.4 L332.5,730.5 L334.5,730.5 L336.5,730.5 L338.5,730.6 L340.5,730.6 L342.5,730.7 L344.5,730.7 L346.5,730.8 L348.5,730.8 L350.5,730.9 L352.5,730.9 L354.5,730.9 L356.5,731.0 L358.5,731.0 L360.5,731.1 L362.5,731.1 L364.5,731.2 L366.5,731.2 L368.5,731.3 L370.5,731.3 L372.5,731.4 L374.5,731.4 L376.5,731.4 L378.5,731.5 L380.5,731.5 L382.5,731.6 L384.5,731.6 L386.5,731.7 L388.5,731.7 L390.5,731.7 L392.5,731.8 L394.5,731.8 L396.5,731.9 L398.5,731.9 L400.5,731.9 L402.5,732.0 L404.5,732.0 L406.5,732.1 L408.5,732.1 L410.5,732.2 L412.5,732.2 L414.5,732.2 L416.5,732.3 L418.5,732.3 L420.5,732.3 L422.5,732.4 L424.5,732.4 L426.5,732.5 L428.5,732.5 L430.5,732.5 L432.5,732.6 L434.5,732.6 L436.5,732.6 L438.5,732.7 L440.5,732.7 L442.5,732.7 L444.5,732.8 L446.5,732.8 L448.5,732.8 L450.5,732.9 L452.5,732.9 L454.5,732.9 L456.5,733.0 L458.5,733.0 L460.5,733.0 L462.5,733.1 L464.5,733.1 L466.5,733.1 L468.5,733.1 L470.5,733.2 L472.5,733.2 L474.5,733.2 L476.5,733.3 L478.5,733.3 L480.5,733.3 L482.5,733.3 L484.5,733.4 L486.5,733.4 L488.5,733.4 L490.5,733.4 L492.5,733.4 L494.5,733.5 L496.5,733.5 L498.5,733.5 L500.5,733.5 L502.5,733.5 L504.5,733.6 L506.5,733.6 L508.5,733.6 L510.5,733.6 L512.5,733.6 L514.5,733.6 L516.5,733.6 L518.5,733.7 L520.5,733.7 L522.5,733.7 L524.5,733.7 L526.5,733.7 L528.5,733.7 L530.5,733.7 L532.5,733.7 L534.5,733.7 L536.5,733.7 L538.5,733.7 L540.5,733.7 L542.5,733.7 L544.5,733.7 L546.5,733.8 L548.5,733.8 L550.5,733.8 L552.5,733.8 L554.5,733.8 L556.5,733.8 L558.5,733.8 L560.5,733.8 L562.5,733.8 L564.5,733.8 L566.5,733.8 L568.5,733.8 L570.5,733.8 L572.5,733.8 L574.5,733.8 L576.5,733.8 L578.5,733.8 L580.5,733.8 L582.5,733.8 L584.5,733.8 L586.5,733.8 L588.5,733.8 L590.5,733.8 L592.5,733.8 L594.5,733.8 L596.5,733.8 L598.5,733.8 L600.5,733.8 L602.5,733.8 L604.5,733.8 L606.5,733.8 L608.5,733.8 L610.5,733.8 L612.5,733.8 L614.5,733.8 L616.5,733.8 L618.5,733.8 L620.5,733.8 L622.5,733.8 L624.5,733.8 L626.5,733.8 L628.5,733.8 L630.5,733.8 L632.5,733.8 L634.5,733.8 L636.5,733.8 L638.5,733.8 L640.5,733.8 L642.5,733.8 L644.5,733.8 L646.5,733.8 L648.5,733.8 L650.5,733.8 L652.5,733.8 L654.5,733.8 L656.5,733.8 L658.5,733.8 L660.5,733.8 L662.5,733.8 L664.5,733.8 L666.5,733.8 L668.5,733.8 L670.5,733.8 L672.5,733.8 L674.5,733.8 L676.5,733.8 L678.5,733.8 L680.5,733.8 L682.5,733.8 L684.5,733.8 L686.5,733.8 L688.5,733.8 L690.5,733.8 L692.5,733.8 L694.5,733.8 L696.5,733.8 L698.5,733.8 L700.5,733.8 L702.5,733.8 L704.5,733.8 L706.5,733.8 L708.5,733.8 L710.5,733.8 L712.5,733.8 L714.5,733.8 L716.5,733.8 L718.5,733.8 L720.5,733.8 L722.5,733.8 L724.5,733.8 L726.5,733.8 L728.5,733.8 L730.5,733.8 L732.5,733.8 L734.5,733.8 L736.5,733.8 L738.5,733.8 L740.5,733.8 L742.5,733.8 L744.5,733.8 L746.5,733.9 L748.5,733.9 L750.5,733.9 L752.5,733.9 L754.5,733.9 L756.5,733.9 L758.5,733.9 L760.5,733.9 L762.5,733.9 L764.5,733.9 L766.5,733.9 L768.5,733.9 L770.5,733.9 L772.5,733.9 L774.5,733.9 L776.5,733.9 L778.5,733.9 L780.5,733.9 L782.5,733.9 L784.5,733.9 L786.5,733.9 L788.5,733.9 L790.5,733.9 L792.5,733.9 L794.5,733.9 L796.5,733.9 L798.5,733.9 L800.5,733.9 L802.5,733.9 L804.5,733.9 L806.5,733.9 L808.5,733.9 L810.5,733.9 L812.5,733.9 L814.5,733.9 L816.5,733.9 L818.5,733.9 L820.5,733.9 L822.5,733.9 L824.5,733.9 L826.5,733.9 L828.5,733.9 L830.5,733.9 L832.5,733.9 L834.5,733.9 L836.5,733.9 L838.5,733.9 L840.5,733.9 L842.5,733.9 L844.5,733.9 L846.5,733.9 L848.5,733.9 L850.5,733.9 L852.5,733.9 L854.5,733.9 L856.5,733.9 L858.5,733.9 L860.5,733.9 L862.5,733.9 L864.5,733.9 L866.5,733.9 L868.5,733.9 L870.5,733.9 L872.5,733.9 L874.5,733.9 L876.5,733.9 L878.5,733.9 L880.5,733.9 L882.5,733.9 L884.5,733.9 L886.5,733.9 L888.5,733.9 L890.5,733.9 L892.5,733.9 L894.5,733.9 L896.5,733.9 L898.5,733.9 L900.5,733.9 L902.5,733.9 L904.5,733.9 L906.5,733.9 L908.5,733.9 L910.5,733.9 L912.5,733.9 L914.5,733.9 L916.5,733.9 L918.5,733.9 L920.5,733.9 L922.5,733.9 L924.5,733.9 L926.5,733.9 L928.5,733.9 L930.5,733.9 L932.5,733.9 L934.5,733.9 L936.5,733.9 L938.5,733.9 L940.5,733.9 L942.5,733.9 L944.5,733.9 L946.5,733.9 L948.5,733.9 L950.5,733.9 L952.5,733.9 L954.5,733.9 L956.5,733.9 L958.5,733.9 L960.5,733.9 L962.5,733.9 L964.5,733.9 L966.5,733.9 L968.5,733.9 L970.5,733.9 L972.5,733.9 L974.5,733.9 L976.5,733.9 L978.5,733.9 L980.5,733.9 L982.5,733.9 L984.5,733.9 L986.5,733.9 L988.5,733.9 L990.5,733.9 L992.5,733.9 L994.5,733.9 L996.5,733.9 L998.5,733.9 L1000.5,733.9 L1002.5,733.9 L1004.5,733.9 L1006.5,733.9 L1008.5,733.9 L1010.5,733.9 L1012.5,733.9 L1014.5,733.9 L1016.5,733.9 L1018.5,733.9 L1020.5,733.9 L1022.5,733.9 L1024.5,733.9 L1026.5,733.9 L1028.5,733.9 L1030.5,733.9 L1032.5,733.9 L1034.5,733.9 L1036.5,733.9 L1038.5,733.9 L1040.5,733.9 L1042.5,733.9 L1044.5,733.9 L1046.5,733.9 L1048.5,733.9 L1050.5,733.9 L1052.5,733.9 L1054.5,733.9 L1056.5,733.9 L1058.5,733.9 L1060.5,733.9 L1062.5,733.9 L1064.5,733.9 L1066.5,733.9 L1068.5,733.9 L1070.5,733.9 L1072.5,733.9 L1074.5,733.9 L1076.5,733.9 L1078.5,733.9 L1080.5,733.9 L1082.5,733.9 L1084.5,733.9 L1086.5,733.9 L1088.5,733.9 L1090.5,733.9 L1092.5,733.9 L1094.5,733.9 L1096.5,733.9 L1098.5,733.9 L1100.5,733.9 L1102.5,733.9 L1104.5,733.9 L1106.5,733.9 L1108.5,733.9 L1110.5,733.9 L1112.5,733.9 L1114.5,733.9 L1116.5,733.9 L1118.5,733.9 L1120.5,733.9 L1122.5,733.9 L1124.5,733.9 L1126.5,733.9 L1128.5,733.9 L1130.5,733.9 L1132.5,733.9 L1134.5,733.9 L1136.5,733.9 L1138.5,733.9 L1140.5,733.9 L1142.5,733.9 L1144.5,733.9 L1146.5,733.9 L1148.5,733.9 L1150.5,733.9 L1152.5,733.9 L1154.5,733.9 L1156.5,733.9 L1158.5,733.9 L1160.5,733.9 L1162.5,733.9 L1164.5,733.9 L1166.5,733.9 L1168.5,733.9 L1170.5,733.9 L1172.5,733.9 L1174.5,733.9 L1176.5,733.9 L1178.5,733.9 L1180.5,733.9 L1182.5,733.9 L1184.5,733.9 L1186.5,733.9 L1188.5,733.9 L1190.5,733.9 L1192.5,733.9 L1194.5,733.9 L1196.5,733.8 L1198.5,733.8 L1200.5,733.8 L1202.5,733.8 L1204.5,733.8 L1206.5,733.8 L1208.5,733.8 L1210.5,733.8 L1212.5,733.8 L1214.5,733.8 L1216.5,733.7 L1218.5,733.7 L1220.5,733.7 L1222.5,733.7 L1224.5,733.7 L1226.5,733.7 L1228.5,733.7 L1230.5,733.6 L1232.5,733.6 L1234.5,733.6 L1236.5,733.6 L1238.5,733.6 L1240.5,733.5 L1242.5,733.5 L1244.5,733.5 L1246.5,733.4 L1248.5,733.4 L1250.5,733.4 L1252.5,733.3 L1254.5,733.3 L1256.5,733.2 L1258.5,733.2 L1260.5,733.1 L1262.5,733.0 L1264.5,733.0 L1266.5,732.9 L1268.5,732.8 L1270.5,732.7 L1272.5,732.6 L1274.5,732.5 L1276.5,732.4 L1278.5,732.3 L1280.5,732.2 L1282.5,732.0 L1284.5,731.9 L1286.5,731.7 L1288.5,731.6 L1290.5,731.4 L1292.5,731.2 L1294.5,731.0 L1296.5,730.8 L1298.5,730.6 L1300.5,730.4 L1302.5,730.2 L1304.5,729.9 L1306.5,729.7 L1308.5,729.4 L1310.5,729.1 L1312.5,728.8 L1314.5,728.5 L1316.5,728.2 L1318.5,727.8 L1320.5,727.5 L1322.5,727.1 L1324.5,726.7 L1326.5,726.3 L1328.5,725.9 L1330.5,725.4 L1332.5,724.9 L1334.5,724.5 L1336.5,724.0 L1338.5,723.4 L1340.5,722.9 L1342.5,722.4 L1344.5,721.8 L1346.5,721.2 L1348.5,720.6 L1350.5,720.0 L1352.5,719.3 L1354.5,718.6 L1356.5,717.9 L1358.5,717.2 L1360.5,716.5 L1362.5,715.8 L1364.5,715.0 L1366.5,714.2 L1368.5,713.4 L1370.5,712.6 L1372.5,711.7 L1374.5,710.9 L1376.5,710.0 L1378.5,709.1 L1380.5,708.2 L1382.5,707.3 L1384.5,706.3 L1386.5,705.3 L1388.5,704.4 L1390.5,703.4 L1392.5,702.4 L1394.5,701.3 L1396.5,700.3 L1398.5,699.2 L1400.5,698.2 L1402.5,697.1 L1404.5,696.0 L1406.5,694.9 L1408.5,693.8 L1410.5,692.7 L1412.5,691.6 L1414.5,690.4 L1416.5,689.3 L1418.5,688.2 L1420.5,687.0 L1422.5,685.9 L1424.5,684.7 L1426.5,683.6 L1428.5,682.5 L1430.5,681.3 L1432.5,680.2 L1434.5,679.1 L1436.5,678.0 L1438.5,676.8 L1440.5,675.7 L1442.5,674.6 L1444.5,673.6 L1446.5,672.5 L1448.5,671.5 L1450.5,670.4 L1452.5,669.4 L1454.5,668.4 L1456.5,667.4 L1458.5,666.5 L1460.5,665.6 L1462.5,664.7 L1464.5,663.8 L1466.5,662.9 L1468.5,662.1 L1470.5,661.3 L1472.5,660.5 L1474.5,659.8 L1476.5,659.1 L1478.5,658.4 L1480.5,657.8 L1482.5,657.2 L1484.5,656.6 L1486.5,656.1 L1488.5,655.6 L1490.5,655.2 L1492.5,654.8 L1494.5,654.4 L1496.5,654.1 L1498.5,653.8 L1500.5,653.6 L1502.5,653.4 L1504.5,653.2 L1506.5,653.1 L1508.5,653.0 L1510.5,653.0 L1512.5,653.0 L1514.5,653.1 L1516.5,653.2 L1518.5,653.3 L1520.5,653.5 L1522.5,653.8 L1524.5,654.0 L1526.5,654.4 L1528.5,654.7 L1530.5,655.1 L1532.5,655.6 L1534.5,656.0 L1536.5,656.6 L1538.5,657.1 L1540.5,657.7 L1542.5,658.4 L1544.5,659.0 L1546.5,659.7 L1548.5,660.5 L1550.5,661.3 L1552.5,662.1 L1554.5,662.9 L1556.5,663.8 L1558.5,664.7 L1560.5,665.6 L1562.5,666.5 L1564.5,667.5 L1566.5,668.5 L1568.5,669.5 L1570.5,670.5 L1572.5,671.6 L1574.5,672.7 L1576.5,673.8 L1578.5,674.9 L1580.5,676.0 L1582.5,677.1 L1584.5,678.3 L1586.5,679.4 L1588.5,680.6 L1590.5,681.7 L1592.5,682.9 L1594.5,684.1 L1596.5,685.3 L1598.5,686.4 L1600.5,687.6 L1602.5,688.8 L1604.5,690.0 L1606.5,691.1 L1608.5,692.3 L1610.5,693.5 L1612.5,694.6 L1614.5,695.8 L1616.5,696.9 L1618.5,698.1 L1620.5,699.2 L1622.5,700.3 L1624.5,701.4 L1626.5,702.5 L1628.5,703.6 L1630.5,704.6 L1632.5,705.7 L1634.5,706.7 L1636.5,707.7 L1638.5,708.7 L1640.5,709.7 L1642.5,710.7 L1644.5,711.6 L1646.5,712.5 L1648.5,713.4 L1650.5,714.3 L1652.5,715.2 L1654.5,716.0 L1656.5,716.9 L1658.5,717.7 L1660.5,718.5 L1662.5,719.3 L1664.5,720.0 L1666.5,720.7 L1668.5,721.5 L1670.5,722.2 L1672.5,722.8 L1674.5,723.5 L1676.5,724.1 L1678.5,724.8 L1680.5,725.4 L1682.5,725.9 L1684.5,726.5 L1686.5,727.0 L1688.5,727.6 L1690.5,728.1 L1692.5,728.6 L1694.5,729.0 L1696.5,729.5 L1698.5,729.9 L1700.5,730.4 L1702.5,730.8 L1704.5,731.2 L1706.5,731.6 L1708.5,731.9 L1710.5,732.3 L1712.5,732.6 L1714.5,732.9 L1716.5,733.2 L1718.5,733.5 L1720.5,733.8 L1722.5,734.1 L1724.5,734.4 L1726.5,734.6 L1728.5,734.8 L1730.5,735.1 L1732.5,735.3 L1734.5,735.5 L1736.5,735.7 L1738.5,735.9 L1740.5,736.0 L1742.5,736.2 L1744.5,736.4 L1746.5,736.5 L1748.5,736.7 L1750.5,736.8 L1752.5,736.9 L1754.5,737.1 L1756.5,737.2 L1758.5,737.3 L1760.5,737.4 L1762.5,737.5 L1764.5,737.6 L1766.5,737.7 L1768.5,737.8 L1770.5,737.8 L1772.5,737.9 L1774.5,738.0 L1776.5,738.1 L1778.5,738.1 L1780.5,738.2 L1782.5,738.2 L1784.5,738.3 L1786.5,738.3 L1788.5,738.4 L1790.5,738.4 L1792.5,738.5 L1794.5,738.5 L1796.5,738.5 L1798.5,738.6 L1800.5,738.6 L1802.5,738.6 L1804.5,738.7 L1806.5,738.7 L1808.5,738.7 L1810.5,738.7 L1812.5,738.7 L1814.5,738.8 L1816.5,738.8 L1818.5,738.8 L1820.5,738.8 L1822.5,738.8 L1824.5,738.8 L1826.5,738.9 L1828.5,738.9 L1830.5,738.9 L1832.5,738.9 L1834.5,738.9 L1836.5,738.9 L1838.5,738.9 L1840.5,738.9 L1842.5,738.9 L1844.5,738.9 L1846.5,738.9 L1848.5,738.9 L1850.5,738.9 L1852.5,739.0 L1854.5,739.0 L1856.5,739.0 L1858.5,739.0 L1860.5,739.0 L1862.5,739.0 L1864.5,739.0 L1866.5,739.0 L1868.5,739.0 L1870.5,739.0 L1872.5,739.0 L1874.5,739.0 L1876.5,739.0 L1878.5,739.0 L1880.5,739.0 L1882.5,739.0 L1884.5,739.0 L1886.5,739.0 L1888.5,739.0 L1890.5,739.0 L1892.5,739.0 L1894.5,739.0 L1896.5,739.0 L1898.5,739.0 L1900.5,739.0 L1902.5,739.0 L1904.5,739.0 L1906.5,739.0 L1908.5,739.0 L1910.5,739.0 L1912.5,739.0 L1914.5,739.0 L1916.5,739.0 L1918.5,739.0 L1920.5,739.0 L1922.5,739.0 L1924.5,739.0 L1926.5,739.0 L1928.5,739.0 L1930.5,739.0 L1932.5,739.0 L1934.5,739.0 L1936.5,739.0 L1938.5,739.0 L1940.5,739.0 L1942.5,739.0 L1944.5,739.0 L1946.5,739.0 L1948.5,739.0 L1950.5,739.0 L1952.5,739.0 L1954.5,739.0 L1956.5,739.0 L1958.5,739.0 L1960.5,739.0 L1962.5,739.0 L1964.5,739.0 L1966.5,739.0 L1968.5,739.0 L1970.5,739.0 L1972.5,739.0 L1974.5,739.0 L1976.5,739.0 L1978.5,739.0 L1980.5,739.0 L1982.5,739.0 L1984.5,739.0 L1986.5,739.0 L1988.5,739.0 L1990.5,739.0 L1992.5,739.0 L1994.5,739.0 L1996.5,739.0 L1998.5,739.0 L2000.5,739.0 L2002.5,739.0 L2004.5,739.0" stroke="#00a0ff" stroke-width="14" />
<path d="M132.5,1088.4 L142.9,1083.0 L153.3,1081.7 L163.7,1073.8 L174.1,1080.2 L184.5,1079.8 L194.9,1080.9 L205.3,1078.7 L215.7,1081.1 L226.1,1079.3 L236.5,1076.0 L246.9,1084.8 L257.3,1084.8 L267.7,1088.1 L278.1,1081.4 L288.5,1079.6 L298.9,1079.0 L309.3,1075.0 L319.7,1085.1 L330.1,1076.8 L340.5,1076.4 L350.9,1080.3 L361.3,1087.1 L371.7,1082.1 L382.1,1077.1 L392.5,1078.3 L402.9,1083.6 L413.3,1080.5 L423.7,1078.0 L434.1,1080.2 L444.5,1084.1 L454.9,1089.0 L465.3,1076.1 L475.7,1078.6 L486.1,1077.8 L496.5,1071.4 L506.9,1077.3 L517.3,1076.9 L527.7,1085.5 L538.1,1080.4 L548.5,1074.4 L558.9,1083.4 L569.3,1079.3 L579.7,1073.7 L590.1,1078.2 L600.5,1078.1 L610.9,1076.9 L621.3,1080.4 L631.7,1071.1 L642.1,1078.9 L652.5,1083.9 L662.9,1083.1 L673.3,1083.9 L683.7,1083.8 L694.1,1085.1 L704.5,1074.5 L714.9,1082.1 L725.3,1071.0 L735.7,1075.8 L746.1,1070.4 L756.5,1082.0 L766.9,1082.8 L777.3,1076.4 L787.7,1084.0 L798.1,1073.9 L808.5,1076.9 L818.9,1076.6 L829.3,1071.4 L839.7,1077.1 L850.1,1082.7 L860.5,1070.5 L870.9,1077.8 L881.3,1073.1 L891.7,1080.3 L902.1,1074.4 L912.5,1074.4 L922.9,1073.4 L933.3,1070.8 L943.7,1063.1 L954.1,1072.9 L964.5,1060.6 L974.9,1065.6 L985.3,1065.8 L995.7,1058.6 L1006.1,1060.8 L1016.5,1062.6 L1026.9,1055.0 L1037.3,1048.1 L1047.7,1035.9 L1058.1,1039.0 L1068.5,1035.3 L1078.9,1029.8 L1089.3,1021.5 L1099.7,1019.6 L1110.1,1007.9 L1120.5,1001.4 L1130.9,995.6 L1141.3,979.9 L1151.7,972.0 L1162.1,971.0 L1172.5,954.3 L1182.9,933.6 L1193.3,926.1 L1203.7,916.0 L1214.1,905.9 L1224.5,888.5 L1234.9,872.8 L1245.3,859.5 L1255.7,852.9 L1266.1,840.1 L1276.5,826.2 L1286.9,818.2 L1297.3,809.8 L1307.7,808.9 L1318.1,800.0 L1328.5,803.5 L1338.9,805.8 L1349.3,807.1 L1359.7,806.6 L1370.1,822.0 L1380.5,822.1 L1390.9,836.2 L1401.3,842.1 L1411.7,849.5 L1422.1,869.3 L1432.5,881.8 L1442.9,892.7 L1453.3,906.4 L1463.7,914.7 L1474.1,926.0 L1484.5,939.6 L1494.9,958.8 L1505.3,965.1 L1515.7,970.4 L1526.1,985.2 L1536.5,991.4 L1546.9,1001.5 L1557.3,1016.1 L1567.7,1019.3 L1578.1,1022.9 L1588.5,1033.5 L1598.9,1044.5 L1609.3,1051.1 L1619.7,1061.3 L1630.1,1058.6 L1640.5,1068.9 L1650.9,1071.4 L1661.3,1072.0 L1671.7,1078.4 L1682.1,1079.3 L1692.5,1076.0 L1702.9,1085.7 L1713.3,1078.1 L1723.7,1084.7 L1734.1,1085.6 L1744.5,1088.1 L1754.9,1084.2 L1765.3,1087.4 L1775.7,1087.2 L1786.1,1092.2 L1796.5,1085.8 L1806.9,1090.3 L1817.3,1089.9 L1827.7,1086.1 L1838.1,1102.2 L1848.5,1091.4 L1858.9,1085.8 L1869.3,1097.5 L1879.7,1087.6 L1890.1,1093.4 L1900.5,1095.5 L1910.9,1089.5 L1921.3,1090.4 L1931.7,1090.0 L1942.1,1091.6 L1952.5,1085.7 L1962.9,1087.3 L1973.3,1091.7 L1983.7,1096.4 L1994.1,1094.8 L2004.5,1099.2" stroke="#c0c0c0" stroke-width="3" />
<path d="M1362.0,1095.6 L1500.0,1096.2 L1635.0,1097.2" stroke="#ff80c0" stroke-width="14" />
<path d="M132.5,1082.8 L134.5,1082.8 L136.5,1082.8 L138.5,1082.8 L140.5,1082.8 L142.5,1082.8 L144.5,1082.8 L146.5,1082.8 L148.5,1082.8 L150.5,1082.8 L152.5,1082.8 L154.5,1082.8 L156.5,1082.8 L158.5,1082.8 L160.5,1082.8 L162.5,1082.8 L164.5,1082.8 L166.5,1082.8 L168.5,1082.8 L170.5,1082.8 L172.5,1082.8 L174.5,1082.8 L176.5,1082.8 L178.5,1082.8 L180.5,1082.8 L182.5,1082.8 L184.5,1082.8 L186.5,1082.8 L188.5,1082.8 L190.5,1082.8 L192.5,1082.8 L194.5,1082.8 L196.5,1082.8 L198.5,1082.8 L200.5,1082.8 L202.5,1082.8 L204.5,1082.8 L206.5,1082.7 L208.5,1082.7 L210.5,1082.7 L212.5,1082.7 L214.5,1082.7 L216.5,1082.7 L218.5,1082.7 L220.5,1082.7 L222.5,1082.7 L224.5,1082.7 L226.5,1082.7 L228.5,1082.7 L230.5,1082.7 L232.5,1082.7 L234.5,1082.7 L236.5,1082.7 L238.5,1082.7 L240.5,1082.7 L242.5,1082.7 L244.5,1082.7 L246.5,1082.7 L248.5,1082.7 L250.5,1082.7 L252.5,1082.7 L254.5,1082.7 L256.5,1082.7 L258.5,1082.7 L260.5,1082.7 L262.5,1082.7 L264.5,1082.7 L266.5,1082.7 L268.5,1082.7 L270.5,1082.7 L272.5,1082.7 L274.5,1082.7 L276.5,1082.7 L278.5,1082.7 L280.5,1082.7 L282.5,1082.7 L284.5,1082.7 L286.5,1082.7 L288.5,1082.7 L290.5,1082.7 L292.5,1082.7 L294.5,1082.7 L296.5,1082.7 L298.5,1082.7 L300.5,1082.7 L302.5,1082.7 L304.5,1082.7 L306.5,1082.7 L308.5,1082.7 L310.5,1082.7 L312.5,1082.7 L314.5,1082.7 L316.5,1082.7 L318.5,1082.7 L320.5,1082.7 L322.5,1082.7 L324.5,1082.7 L326.5,1082.7 L328.5,1082.7 L330.5,1082.7 L332.5,1082.7 L334.5,1082.7 L336.5,1082.7 L338.5,1082.7 L340.5,1082.7 L342.5,1082.7 L344.5,1082.7 L346.5,1082.7 L348.5,1082.7 L350.5,1082.7 L352.5,1082.7 L354.5,1082.7 L356.5,1082.7 L358.5,1082.7 L360.5,1082.7 L362.5,1082.7 L364.5,1082.7 L366.5,1082.7 L368.5,1082.7 L370.5,1082.7 L372.5,1082.7 L374.5,1082.7 L376.5,1082.7 L378.5,1082.7 L380.5,1082.7 L382.5,1082.7 L384.5,1082.6 L386.5,1082.6 L388.5,1082.6 L390.5,1082.6 L392.5,1082.6 L394.5,1082.6 L396.5,1082.6 L398.5,1082.6 L400.5,1082.6 L402.5,1082.6 L404.5,1082.6 L406.5,1082.6 L408.5,1082.6 L410.5,1082.6 L412.5,1082.6 L414.5,1082.6 L416.5,1082.6 L418.5,1082.6 L420.5,1082.6 L422.5,1082.6 L424.5,1082.6 L426.5,1082.6 L428.5,1082.6 L430.5,1082.6 L432.5,1082.6 L434.5,1082.6 L436.5,1082.6 L438.5,1082.6 L440.5,1082.6 L442.5,1082.6 L444.5,1082.6 L446.5,1082.6 L448.5,1082.6 L450.5,1082.6 L452.5,1082.6 L454.5,1082.6 L456.5,1082.6 L458.5,1082.6 L460.5,1082.6 L462.5,1082.6 L464.5,1082.6 L466.5,1082.6 L468.5,1082.6 L470.5,1082.6 L472.5,1082.6 L474.5,1082.6 L476.5,1082.6 L478.5,1082.6 L480.5,1082.6 L482.5,1082.6 L484.5,1082.6 L486.5,1082.6 L488.5,1082.6 L490.5,1082.6 L492.5,1082.6 L494.5,1082.6 L496.5,1082.5 L498.5,1082.5 L500.5,1082.5 L502.5,1082.5 L504.5,1082.5 L506.5,1082.5 L508.5,1082.5 L510.5,1082.5 L512.5,1082.5 L514.5,1082.5 L516.5,1082.5 L518.5,1082.5 L520.5,1082.5 L522.5,1082.5 L524.5,1082.5 L526.5,1082.5 L528.5,1082.5 L530.5,1082.5 L532.5,1082.5 L534.5,1082.5 L536.5,1082.4 L538.5,1082.4 L540.5,1082.4 L542.5,1082.4 L544.5,1082.4 L546.5,1082.4 L548.5,1082.4 L550.5,1082.4 L552.5,1082.4 L554.5,1082.4 L556.5,1082.3 L558.5,1082.3 L560.5,1082.3 L562.5,1082.3 L564.5,1082.3 L566.5,1082.3 L568.5,1082.3 L570.5,1082.2 L572.5,1082.2 L574.5,1082.2 L576.5,1082.2 L578.5,1082.2 L580.5,1082.2 L582.5,1082.1 L584.5,1082.1 L586.5,1082.1 L588.5,1082.1 L590.5,1082.1 L592.5,1082.1 L594.5,1082.0 L596.5,1082.0 L598.5,1082.0 L600.5,1082.0 L602.5,1082.0 L604.5,1081.9 L606.5,1081.9 L608.5,1081.9 L610.5,1081.9 L612.5,1081.9 L614.5,1081.8 L616.5,1081.8 L618.5,1081.8 L620.5,1081.8 L622.5,1081.7 L624.5,1081.7 L626.5,1081.7 L628.5,1081.7 L630.5,1081.6 L632.5,1081.6 L634.5,1081.6 L636.5,1081.6 L638.5,1081.5 L640.5,1081.5 L642.5,1081.5 L644.5,1081.4 L646.5,1081.4 L648.5,1081.4 L650.5,1081.4 L652.5,1081.3 L654.5,1081.3 L656.5,1081.3 L658.5,1081.2 L660.5,1081.2 L662.5,1081.2 L664.5,1081.1 L666.5,1081.1 L668.5,1081.1 L670.5,1081.0 L672.5,1081.0 L674.5,1081.0 L676.5,1080.9 L678.5,1080.9 L680.5,1080.9 L682.5,1080.8 L684.5,1080.8 L686.5,1080.8 L688.5,1080.7 L690.5,1080.7 L692.5,1080.7 L694.5,1080.6 L696.5,1080.6 L698.5,1080.5 L700.5,1080.5 L702.5,1080.5 L704.5,1080.4 L706.5,1080.4 L708.5,1080.3 L710.5,1080.3 L712.5,1080.3 L714.5,1080.2 L716.5,1080.2 L718.5,1080.1 L720.5,1080.1 L722.5,1080.1 L724.5,1080.0 L726.5,1080.0 L728.5,1079.9 L730.5,1079.9 L732.5,1079.8 L734.5,1079.8 L736.5,1079.7 L738.5,1079.7 L740.5,1079.6 L742.5,1079.6 L744.5,1079.6 L746.5,1079.5 L748.5,1079.5 L750.5,1079.4 L752.5,1079.4 L754.5,1079.3 L756.5,1079.3 L758.5,1079.2 L760.5,1079.2 L762.5,1079.1 L764.5,1079.1 L766.5,1079.0 L768.5,1079.0 L770.5,1078.9 L772.5,1078.9 L774.5,1078.8 L776.5,1078.7 L778.5,1078.7 L780.5,1078.6 L782.5,1078.6 L784.5,1078.5 L786.5,1078.5 L788.5,1078.4 L790.5,1078.4 L792.5,1078.3 L794.5,1078.2 L796.5,1078.2 L798.5,1078.1 L800.5,1078.1 L802.5,1078.0 L804.5,1078.0 L806.5,1077.9 L808.5,1077.8 L810.5,1077.8 L812.5,1077.7 L814.5,1077.7 L816.5,1077.6 L818.5,1077.5 L820.5,1077.5 L822.5,1077.4 L824.5,1077.3 L826.5,1077.3 L828.5,1077.2 L830.5,1077.2 L832.5,1077.1 L834.5,1077.0 L836.5,1077.0 L838.5,1076.9 L840.5,1076.8 L842.5,1076.8 L844.5,1076.7 L846.5,1076.6 L848.5,1076.5 L850.5,1076.5 L852.5,1076.4 L854.5,1076.3 L856.5,1076.3 L858.5,1076.2 L860.5,1076.1 L862.5,1076.0 L864.5,1076.0 L866.5,1075.9 L868.5,1075.8 L870.5,1075.7 L872.5,1075.7 L874.5,1075.6 L876.5,1075.5 L878.5,1075.4 L880.5,1075.3 L882.5,1075.2 L884.5,1075.1 L886.5,1075.0 L888.5,1074.9 L890.5,1074.8 L892.5,1074.6 L894.5,1074.5 L896.5,1074.4 L898.5,1074.2 L900.5,1074.1 L902.5,1073.9 L904.5,1073.7 L906.5,1073.6 L908.5,1073.4 L910.5,1073.2 L912.5,1073.0 L914.5,1072.9 L916.5,1072.7 L918.5,1072.5 L920.5,1072.3 L922.5,1072.0 L924.5,1071.8 L926.5,1071.6 L928.5,1071.4 L930.5,1071.1 L932.5,1070.9 L934.5,1070.7 L936.5,1070.4 L938.5,1070.2 L940.5,1069.9 L942.5,1069.7 L944.5,1069.4 L946.5,1069.1 L948.5,1068.8 L950.5,1068.6 L952.5,1068.3 L954.5,1068.0 L956.5,1067.7 L958.5,1067.4 L960.5,1067.2 L962.5,1066.9 L964.5,1066.6 L966.5,1066.3 L968.5,1066.0 L970.5,1065.7 L972.5,1065.4 L974.5,1065.1 L976.5,1064.8 L978.5,1064.5 L980.5,1064.2 L982.5,1064.0 L984.5,1063.7 L986.5,1063.4 L988.5,1063.1 L990.5,1062.8 L992.5,1062.5 L994.5,1062.2 L996.5,1061.9 L998.5,1061.5 L1000.5,1061.2 L1002.5,1060.9 L1004.5,1060.5 L1006.5,1060.1 L1008.5,1059.7 L1010.5,1059.3 L1012.5,1058.9 L1014.5,1058.4 L1016.5,1058.0 L1018.5,1057.4 L1020.5,1056.9 L1022.5,1056.4 L1024.5,1055.8 L1026.5,1055.2 L1028.5,1054.6 L1030.5,1054.0 L1032.5,1053.3 L1034.5,1052.6 L1036.5,1051.9 L1038.5,1051.2 L1040.5,1050.4 L1042.5,1049.7 L1044.5,1048.9 L1046.5,1048.1 L1048.5,1047.2 L1050.5,1046.4 L1052.5,1045.5 L1054.5,1044.6 L1056.5,1043.7 L1058.5,1042.7 L1060.5,1041.8 L1062.5,1040.8 L1064.5,1039.8 L1066.5,1038.8 L1068.5,1037.7 L1070.5,1036.6 L1072.5,1035.5 L1074.5,1034.4 L1076.5,1033.3 L1078.5,1032.1 L1080.5,1030.9 L1082.5,1029.7 L1084.5,1028.4 L1086.5,1027.1 L1088.5,1025.8 L1090.5,1024.5 L1092.5,1023.1 L1094.5,1021.8 L1096.5,1020.4 L1098.5,1018.9 L1100.5,1017.5 L1102.5,1016.0 L1104.5,1014.5 L1106.5,1013.0 L1108.5,1011.5 L1110.5,1009.9 L1112.5,1008.3 L1114.5,1006.7 L1116.5,1005.1 L1118.5,1003.5 L1120.5,1001.8 L1122.5,1000.1 L1124.5,998.4 L1126.5,996.7 L1128.5,995.0 L1130.5,993.2 L1132.5,991.4 L1134.5,989.6 L1136.5,987.8 L1138.5,986.0 L1140.5,984.1 L1142.5,982.2 L1144.5,980.3 L1146.5,978.4 L1148.5,976.4 L1150.5,974.4 L1152.5,972.4 L1154.5,970.4 L1156.5,968.3 L1158.5,966.2 L1160.5,964.1 L1162.5,962.0 L1164.5,959.8 L1166.5,957.6 L1168.5,955.4 L1170.5,953.1 L1172.5,950.8 L1174.5,948.6 L1176.5,946.3 L1178.5,943.9 L1180.5,941.6 L1182.5,939.3 L1184.5,936.9 L1186.5,934.5 L1188.5,932.2 L1190.5,929.8 L1192.5,927.4 L1194.5,925.0 L1196.5,922.6 L1198.5,920.1 L1200.5,917.7 L1202.5,915.3 L1204.5,912.8 L1206.5,910.3 L1208.5,907.9 L1210.5,905.4 L1212.5,902.9 L1214.5,900.4 L1216.5,897.9 L1218.5,895.4 L1220.5,892.9 L1222.5,890.4 L1224.5,887.9 L1226.5,885.4 L1228.5,882.9 L1230.5,880.4 L1232.5,877.9 L1234.5,875.4 L1236.5,873.0 L1238.5,870.5 L1240.5,868.1 L1242.5,865.7 L1244.5,863.3 L1246.5,861.0 L1248.5,858.6 L1250.5,856.3 L1252.5,854.0 L1254.5,851.7 L1256.5,849.4 L1258.5,847.2 L1260.5,845.0 L1262.5,842.8 L1264.5,840.6 L1266.5,838.5 L1268.5,836.4 L1270.5,834.3 L1272.5,832.2 L1274.5,830.2 L1276.5,828.3 L1278.5,826.4 L1280.5,824.5 L1282.5,822.7 L1284.5,821.0 L1286.5,819.3 L1288.5,817.7 L1290.5,816.1 L1292.5,814.7 L1294.5,813.3 L1296.5,812.0 L1298.5,810.7 L1300.5,809.6 L1302.5,808.5 L1304.5,807.5 L1306.5,806.6 L1308.5,805.7 L1310.5,804.9 L1312.5,804.3 L1314.5,803.6 L1316.5,803.1 L1318.5,802.7 L1320.5,802.3 L1322.5,802.0 L1324.5,801.8 L1326.5,801.6 L1328.5,801.5 L1330.5,801.6 L1332.5,801.6 L1334.5,801.8 L1336.5,802.0 L1338.5,802.3 L1340.5,802.7 L1342.5,803.1 L1344.5,803.6 L1346.5,804.2 L1348.5,804.9 L1350.5,805.6 L1352.5,806.4 L1354.5,807.3 L1356.5,808.3 L1358.5,809.3 L1360.5,810.4 L1362.5,811.5 L1364.5,812.8 L1366.5,814.1 L1368.5,815.4 L1370.5,816.9 L1372.5,818.3 L1374.5,819.9 L1376.5,821.5 L1378.5,823.1 L1380.5,824.8 L1382.5,826.6 L1384.5,828.4 L1386.5,830.3 L1388.5,832.1 L1390.5,834.1 L1392.5,836.0 L1394.5,838.1 L1396.5,840.1 L1398.5,842.2 L1400.5,844.3 L1402.5,846.4 L1404.5,848.6 L1406.5,850.7 L1408.5,852.9 L1410.5,855.2 L1412.5,857.4 L1414.5,859.7 L1416.5,862.0 L1418.5,864.3 L1420.5,866.6 L1422.5,868.9 L1424.5,871.2 L1426.5,873.6 L1428.5,875.9 L1430.5,878.3 L1432.5,880.7 L1434.5,883.1 L1436.5,885.4 L1438.5,887.8 L1440.5,890.2 L1442.5,892.6 L1444.5,894.9 L1446.5,897.3 L1448.5,899.7 L1450.5,902.0 L1452.5,904.4 L1454.5,906.7 L1456.5,909.0 L1458.5,911.4 L1460.5,913.7 L1462.5,915.9 L1464.5,918.2 L1466.5,920.5 L1468.5,922.7 L1470.5,925.0 L1472.5,927.2 L1474.5,929.4 L1476.5,931.6 L1478.5,933.8 L1480.5,936.0 L1482.5,938.1 L1484.5,940.3 L1486.5,942.4 L1488.5,944.5 L1490.5,946.6 L1492.5,948.7 L1494.5,950.8 L1496.5,952.8 L1498.5,954.9 L1500.5,956.9 L1502.5,959.0 L1504.5,961.0 L1506.5,963.1 L1508.5,965.1 L1510.5,967.1 L1512.5,969.2 L1514.5,971.2 L1516.5,973.2 L1518.5,975.3 L1520.5,977.3 L1522.5,979.3 L1524.5,981.4 L1526.5,983.4 L1528.5,985.4 L1530.5,987.4 L1532.5,989.4 L1534.5,991.4 L1536.5,993.4 L1538.5,995.3 L1540.5,997.2 L1542.5,999.1 L1544.5,1001.0 L1546.5,1002.9 L1548.5,1004.8 L1550.5,1006.6 L1552.5,1008.4 L1554.5,1010.2 L1556.5,1011.9 L1558.5,1013.7 L1560.5,1015.4 L1562.5,1017.1 L1564.5,1018.8 L1566.5,1020.4 L1568.5,1022.1 L1570.5,1023.7 L1572.5,1025.2 L1574.5,1026.8 L1576.5,1028.4 L1578.5,1029.9 L1580.5,1031.4 L1582.5,1032.9 L1584.5,1034.3 L1586.5,1035.7 L1588.5,1037.2 L1590.5,1038.6 L1592.5,1039.9 L1594.5,1041.3 L1596.5,1042.6 L1598.5,1043.9 L1600.5,1045.2 L1602.5,1046.4 L1604.5,1047.7 L1606.5,1048.9 L1608.5,1050.1 L1610.5,1051.3 L1612.5,1052.4 L1614.5,1053.5 L1616.5,1054.6 L1618.5,1055.7 L1620.5,1056.8 L1622.5,1057.8 L1624.5,1058.8 L1626.5,1059.8 L1628.5,1060.7 L1630.5,1061.7 L1632.5,1062.6 L1634.5,1063.4 L1636.5,1064.3 L1638.5,1065.1 L1640.5,1065.9 L1642.5,1066.7 L1644.5,1067.5 L1646.5,1068.2 L1648.5,1068.9 L1650.5,1069.6 L1652.5,1070.3 L1654.5,1070.9 L1656.5,1071.6 L1658.5,1072.2 L1660.5,1072.8 L1662.5,1073.4 L1664.5,1073.9 L1666.5,1074.5 L1668.5,1075.1 L1670.5,1075.6 L1672.5,1076.1 L1674.5,1076.7 L1676.5,1077.2 L1678.5,1077.7 L1680.5,1078.2 L1682.5,1078.7 L1684.5,1079.2 L1686.5,1079.7 L1688.5,1080.2 L1690.5,1080.6 L1692.5,1081.1 L1694.5,1081.6 L1696.5,1082.0 L1698.5,1082.5 L1700.5,1082.9 L1702.5,1083.3 L1704.5,1083.7 L1706.5,1084.1 L1708.5,1084.5 L1710.5,1084.9 L1712.5,1085.3 L1714.5,1085.7 L1716.5,1086.0 L1718.5,1086.4 L1720.5,1086.7 L1722.5,1087.1 L1724.5,1087.4 L1726.5,1087.7 L1728.5,1088.0 L1730.5,1088.3 L1732.5,1088.6 L1734.5,1088.8 L1736.5,1089.1 L1738.5,1089.3 L1740.5,1089.6 L1742.5,1089.8 L1744.5,1090.0 L1746.5,1090.3 L1748.5,1090.5 L1750.5,1090.7 L1752.5,1090.9 L1754.5,1091.1 L1756.5,1091.2 L1758.5,1091.4 L1760.5,1091.6 L1762.5,1091.7 L1764.5,1091.9 L1766.5,1092.0 L1768.5,1092.2 L1770.5,1092.3 L1772.5,1092.4 L1774.5,1092.5 L1776.5,1092.7 L1778.5,1092.8 L1780.5,1092.9 L1782.5,1093.0 L1784.5,1093.1 L1786.5,1093.3 L1788.5,1093.4 L1790.5,1093.5 L1792.5,1093.7 L1794.5,1093.8 L1796.5,1094.0 L1798.5,1094.2 L1800.5,1094.4 L1802.5,1094.6 L1804.5,1094.8 L1806.5,1095.0 L1808.5,1095.2 L1810.5,1095.4 L1812.5,1095.6 L1814.5,1095.7 L1816.5,1095.8 L1818.5,1096.0 L1820.5,1096.1 L1822.5,1096.2 L1824.5,1096.2 L1826.5,1096.3 L1828.5,1096.3 L1830.5,1096.4 L1832.5,1096.4 L1834.5,1096.5 L1836.5,1096.5 L1838.5,1096.5 L1840.5,1096.6 L1842.5,1096.6 L1844.5,1096.6 L1846.5,1096.6 L1848.5,1096.7 L1850.5,1096.7 L1852.5,1096.7 L1854.5,1096.7 L1856.5,1096.7 L1858.5,1096.8 L1860.5,1096.8 L1862.5,1096.8 L1864.5,1096.8 L1866.5,1096.8 L1868.5,1096.8 L1870.5,1096.8 L1872.5,1096.9 L1874.5,1096.9 L1876.5,1096.9 L1878.5,1096.9 L1880.5,1096.9 L1882.5,1096.9 L1884.5,1096.9 L1886.5,1096.9 L1888.5,1097.0 L1890.5,1097.0 L1892.5,1097.0 L1894.5,1097.0 L1896.5,1097.0 L1898.5,1097.0" stroke="#808080" stroke-width="14" />
<path d="M920.5,1089.7 L922.5,1089.7 L924.5,1089.7 L926.5,1089.7 L928.5,1089.7 L930.5,1089.7 L932.5,1089.7 L934.5,1089.7 L936.5,1089.7 L938.5,1089.7 L940.5,1089.7 L942.5,1089.7 L944.5,1089.6 L946.5,1089.6 L948.5,1089.6 L950.5,1089.6 L952.5,1089.6 L954.5,1089.5 L956.5,1089.5 L958.5,1089.5 L960.5,1089.4 L962.5,1089.4 L964.5,1089.4 L966.5,1089.3 L968.5,1089.3 L970.5,1089.2 L972.5,1089.2 L974.5,1089.1 L976.5,1089.1 L978.5,1089.0 L980.5,1088.9 L982.5,1088.9 L984.5,1088.8 L986.5,1088.7 L988.5,1088.6 L990.5,1088.6 L992.5,1088.5 L994.5,1088.4 L996.5,1088.3 L998.5,1088.2 L1000.5,1088.1 L1002.5,1088.0 L1004.5,1087.8 L1006.5,1087.7 L1008.5,1087.6 L1010.5,1087.4 L1012.5,1087.3 L1014.5,1087.1 L1016.5,1087.0 L1018.5,1086.8 L1020.5,1086.6 L1022.5,1086.4 L1024.5,1086.2 L1026.5,1086.0 L1028.5,1085.8 L1030.5,1085.6 L1032.5,1085.3 L1034.5,1085.1 L1036.5,1084.8 L1038.5,1084.6 L1040.5,1084.3 L1042.5,1084.0 L1044.5,1083.7 L1046.5,1083.4 L1048.5,1083.0 L1050.5,1082.7 L1052.5,1082.3 L1054.5,1081.9 L1056.5,1081.5 L1058.5,1081.1 L1060.5,1080.7 L1062.5,1080.2 L1064.5,1079.8 L1066.5,1079.3 L1068.5,1078.8 L1070.5,1078.3 L1072.5,1077.7 L1074.5,1077.2 L1076.5,1076.6 L1078.5,1076.0 L1080.5,1075.3 L1082.5,1074.7 L1084.5,1074.0 L1086.5,1073.3 L1088.5,1072.6 L1090.5,1071.8 L1092.5,1071.0 L1094.5,1070.2 L1096.5,1069.4 L1098.5,1068.5 L1100.5,1067.6 L1102.5,1066.7 L1104.5,1065.7 L1106.5,1064.7 L1108.5,1063.7 L1110.5,1062.7 L1112.5,1061.6 L1114.5,1060.5 L1116.5,1059.3 L1118.5,1058.1 L1120.5,1056.9 L1122.5,1055.6 L1124.5,1054.3 L1126.5,1053.0 L1128.5,1051.6 L1130.5,1050.2 L1132.5,1048.8 L1134.5,1047.3 L1136.5,1045.8 L1138.5,1044.2 L1140.5,1042.6 L1142.5,1041.0 L1144.5,1039.3 L1146.5,1037.6 L1148.5,1035.8 L1150.5,1034.0 L1152.5,1032.2 L1154.5,1030.3 L1156.5,1028.4 L1158.5,1026.4 L1160.5,1024.4 L1162.5,1022.4 L1164.5,1020.3 L1166.5,1018.2 L1168.5,1016.0 L1170.5,1013.8 L1172.5,1011.6 L1174.5,1009.3 L1176.5,1007.0 L1178.5,1004.7 L1180.5,1002.3 L1182.5,999.9 L1184.5,997.4 L1186.5,994.9 L1188.5,992.4 L1190.5,989.8 L1192.5,987.2 L1194.5,984.6 L1196.5,981.9 L1198.5,979.2 L1200.5,976.5 L1202.5,973.8 L1204.5,971.0 L1206.5,968.2 L1208.5,965.4 L1210.5,962.6 L1212.5,959.8 L1214.5,956.9 L1216.5,954.0 L1218.5,951.1 L1220.5,948.2 L1222.5,945.3 L1224.5,942.4 L1226.5,939.4 L1228.5,936.5 L1230.5,933.5 L1232.5,930.6 L1234.5,927.6 L1236.5,924.7 L1238.5,921.8 L1240.5,918.8 L1242.5,915.9 L1244.5,913.0 L1246.5,910.1 L1248.5,907.3 L1250.5,904.4 L1252.5,901.6 L1254.5,898.8 L1256.5,896.0 L1258.5,893.2 L1260.5,890.5 L1262.5,887.8 L1264.5,885.2 L1266.5,882.5 L1268.5,880.0 L1270.5,877.4 L1272.5,875.0 L1274.5,872.5 L1276.5,870.2 L1278.5,867.8 L1280.5,865.6 L1282.5,863.3 L1284.5,861.2 L1286.5,859.1 L1288.5,857.1 L1290.5,855.1 L1292.5,853.2 L1294.5,851.4 L1296.5,849.7 L1298.5,848.0 L1300.5,846.4 L1302.5,844.9 L1304.5,843.5 L1306.5,842.2 L1308.5,840.9 L1310.5,839.8 L1312.5,838.7 L1314.5,837.7 L1316.5,836.8 L1318.5,836.0 L1320.5,835.3 L1322.5,834.7 L1324.5,834.1 L1326.5,833.7 L1328.5,833.4 L1330.5,833.2 L1332.5,833.0 L1334.5,833.0 L1336.5,833.1 L1338.5,833.2 L1340.5,833.5 L1342.5,833.8 L1344.5,834.3 L1346.5,834.8 L1348.5,835.5 L1350.5,836.2 L1352.5,837.0 L1354.5,838.0 L1356.5,839.0 L1358.5,840.1 L1360.5,841.3 L1362.5,842.6 L1364.5,844.0 L1366.5,845.4 L1368.5,847.0 L1370.5,848.6 L1372.5,850.3 L1374.5,852.1 L1376.5,854.0 L1378.5,855.9 L1380.5,857.9 L1382.5,860.0 L1384.5,862.1 L1386.5,864.3 L1388.5,866.6 L1390.5,868.9 L1392.5,871.3 L1394.5,873.7 L1396.5,876.2 L1398.5,878.7 L1400.5,881.3 L1402.5,884.0 L1404.5,886.6 L1406.5,889.3 L1408.5,892.1 L1410.5,894.9 L1412.5,897.7 L1414.5,900.5 L1416.5,903.4 L1418.5,906.3 L1420.5,909.2 L1422.5,912.2 L1424.5,915.1 L1426.5,918.1 L1428.5,921.1 L1430.5,924.1 L1432.5,927.1 L1434.5,930.1 L1436.5,933.1 L1438.5,936.1 L1440.5,939.2 L1442.5,942.2 L1444.5,945.2 L1446.5,948.2 L1448.5,951.2 L1450.5,954.1 L1452.5,957.1 L1454.5,960.1 L1456.5,963.0 L1458.5,965.9 L1460.5,968.8 L1462.5,971.7 L1464.5,974.5 L1466.5,977.4 L1468.5,980.2 L1470.5,983.0 L1472.5,985.7 L1474.5,988.4 L1476.5,991.1 L1478.5,993.8 L1480.5,996.4 L1482.5,999.0 L1484.5,1001.6 L1486.5,1004.1 L1488.5,1006.6 L1490.5,1009.0 L1492.5,1011.4 L1494.5,1013.8 L1496.5,1016.2 L1498.5,1018.5 L1500.5,1020.7 L1502.5,1022.9 L1504.5,1025.1 L1506.5,1027.2 L1508.5,1029.3 L1510.5,1031.4 L1512.5,1033.4 L1514.5,1035.4 L1516.5,1037.3 L1518.5,1039.2 L1520.5,1041.1 L1522.5,1042.9 L1524.5,1044.7 L1526.5,1046.4 L1528.5,1048.1 L1530.5,1049.7 L1532.5,1051.3 L1534.5,1052.9 L1536.5,1054.4 L1538.5,1055.9 L1540.5,1057.4 L1542.5,1058.8 L1544.5,1060.2 L1546.5,1061.5 L1548.5,1062.8 L1550.5,1064.1 L1552.5,1065.3 L1554.5,1066.5 L1556.5,1067.7 L1558.5,1068.8 L1560.5,1069.9 L1562.5,1071.0 L1564.5,1072.0 L1566.5,1073.0 L1568.5,1073.9 L1570.5,1074.9 L1572.5,1075.8 L1574.5,1076.7 L1576.5,1077.5 L1578.5,1078.3 L1580.5,1079.1 L1582.5,1079.9 L1584.5,1080.6 L1586.5,1081.3 L1588.5,1082.0 L1590.5,1082.7 L1592.5,1083.3 L1594.5,1084.0 L1596.5,1084.6 L1598.5,1085.1 L1600.5,1085.7 L1602.5,1086.2 L1604.5,1086.8 L1606.5,1087.3 L1608.5,1087.7 L1610.5,1088.2 L1612.5,1088.6 L1614.5,1089.1 L1616.5,1089.5 L1618.5,1089.9 L1620.5,1090.3 L1622.5,1090.6 L1624.5,1091.0 L1626.5,1091.3 L1628.5,1091.6 L1630.5,1091.9 L1632.5,1092.2 L1634.5,1092.5 L1636.5,1092.8 L1638.5,1093.1 L1640.5,1093.3 L1642.5,1093.6 L1644.5,1093.8 L1646.5,1094.0 L1648.5,1094.3 L1650.5,1094.5 L1652.5,1094.7 L1654.5,1094.9 L1656.5,1095.1 L1658.5,1095.2 L1660.5,1095.4 L1662.5,1095.6 L1664.5,1095.8 L1666.5,1095.9 L1668.5,1096.1 L1670.5,1096.2 L1672.5,1096.4 L1674.5,1096.5 L1676.5,1096.6 L1678.5,1096.8 L1680.5,1096.9 L1682.5,1097.0 L1684.5,1097.1 L1686.5,1097.2 L1688.5,1097.3 L1690.5,1097.4 L1692.5,1097.5 L1694.5,1097.6 L1696.5,1097.7 L1698.5,1097.8 L1700.5,1097.9 L1702.5,1098.0 L1704.5,1098.1 L1706.5,1098.2 L1708.5,1098.3 L1710.5,1098.3 L1712.5,1098.4 L1714.5,1098.5 L1716.5,1098.5 L1718.5,1098.6 L1720.5,1098.7 L1722.5,1098.7 L1724.5,1098.8 L1726.5,1098.9 L1728.5,1098.9 L1730.5,1099.0 L1732.5,1099.0 L1734.5,1099.1 L1736.5,1099.1 L1738.5,1099.2 L1740.5,1099.2 L1742.5,1099.3 L1744.5,1099.3 L1746.5,1099.3 L1748.5,1099.4 L1750.5,1099.4 L1752.5,1099.5 L1754.5,1099.5 L1756.5,1099.5 L1758.5,1099.5 L1760.5,1099.6 L1762.5,1099.6 L1764.5,1099.6" stroke="#00dc00" stroke-width="14" />
<path d="M132.5,1083.0 L134.5,1083.0 L136.5,1083.0 L138.5,1083.0 L140.5,1083.0 L142.5,1083.0 L144.5,1083.0 L146.5,1083.0 L148.5,1083.0 L150.5,1083.0 L152.5,1083.0 L154.5,1083.0 L156.5,1083.0 L158.5,1083.0 L160.5,1083.0 L162.5,1083.0 L164.5,1083.0 L166.5,1083.0 L168.5,1083.0 L170.5,1083.0 L172.5,1083.0 L174.5,1083.0 L176.5,1083.0 L178.5,1083.0 L180.5,1083.0 L182.5,1083.0 L184.5,1083.0 L186.5,1083.0 L188.5,1083.0 L190.5,1083.0 L192.5,1083.0 L194.5,1083.0 L196.5,1083.0 L198.5,1083.0 L200.5,1083.0 L202.5,1083.0 L204.5,1083.0 L206.5,1083.0 L208.5,1083.0 L210.5,1083.0 L212.5,1083.0 L214.5,1083.0 L216.5,1083.0 L218.5,1083.0 L220.5,1083.0 L222.5,1083.0 L224.5,1083.0 L226.5,1083.0 L228.5,1083.0 L230.5,1083.0 L232.5,1083.0 L234.5,1083.0 L236.5,1083.0 L238.5,1083.0 L240.5,1083.0 L242.5,1083.0 L244.5,1083.0 L246.5,1083.0 L248.5,1083.0 L250.5,1083.0 L252.5,1083.0 L254.5,1083.0 L256.5,1083.0 L258.5,1083.0 L260.5,1083.0 L262.5,1083.0 L264.5,1083.0 L266.5,1083.0 L268.5,1083.0 L270.5,1083.0 L272.5,1083.0 L274.5,1083.0 L276.5,1083.0 L278.5,1083.0 L280.5,1083.0 L282.5,1083.0 L284.5,1083.0 L286.5,1083.0 L288.5,1083.0 L290.5,1083.0 L292.5,1083.0 L294.5,1083.0 L296.5,1083.0 L298.5,1083.0 L300.5,1083.0 L302.5,1083.0 L304.5,1083.0 L306.5,1083.0 L308.5,1083.0 L310.5,1083.0 L312.5,1083.0 L314.5,1083.0 L316.5,1083.0 L318.5,1083.0 L320.5,1083.0 L322.5,1083.0 L324.5,1083.0 L326.5,1083.0 L328.5,1083.0 L330.5,1083.0 L332.5,1083.0 L334.5,1083.0 L336.5,1083.0 L338.5,1083.0 L340.5,1083.0 L342.5,1083.0 L344.5,1083.0 L346.5,1083.0 L348.5,1083.0 L350.5,1083.0 L352.5,1083.0 L354.5,1083.0 L356.5,1083.0 L358.5,1083.0 L360.5,1083.0 L362.5,1083.0 L364.5,1083.0 L366.5,1083.0 L368.5,1083.0 L370.5,1083.0 L372.5,1083.0 L374.5,1083.0 L376.5,1083.0 L378.5,1083.0 L380.5,1083.0 L382.5,1083.0 L384.5,1083.0 L386.5,1083.0 L388.5,1083.0 L390.5,1083.0 L392.5,1083.0 L394.5,1083.0 L396.5,1083.0 L398.5,1083.0 L400.5,1083.0 L402.5,1083.0 L404.5,1083.0 L406.5,1083.0 L408.5,1083.0 L410.5,1083.0 L412.5,1083.0 L414.5,1083.0 L416.5,1083.0 L418.5,1083.0 L420.5,1083.0 L422.5,1083.0 L424.5,1083.0 L426.5,1083.0 L428.5,1083.0 L430.5,1083.0 L432.5,1083.0 L434.5,1083.0 L436.5,1083.0 L438.5,1083.0 L440.5,1083.0 L442.5,1083.0 L444.5,1083.0 L446.5,1083.0 L448.5,1083.0 L450.5,1083.0 L452.5,1083.0 L454.5,1083.0 L456.5,1083.0 L458.5,1083.0 L460.5,1083.0 L462.5,1083.0 L464.5,1083.0 L466.5,1083.0 L468.5,1083.0 L470.5,1083.0 L472.5,1083.0 L474.5,1083.0 L476.5,1083.0 L478.5,1083.0 L480.5,1083.0 L482.5,1083.0 L484.5,1083.0 L486.5,1083.0 L488.5,1083.0 L490.5,1083.0 L492.5,1083.0 L494.5,1083.0 L496.5,1083.0 L498.5,1083.0 L500.5,1083.0 L502.5,1083.0 L504.5,1083.0 L506.5,1083.0 L508.5,1083.0 L510.5,1083.0 L512.5,1083.0 L514.5,1083.0 L516.5,1083.0 L518.5,1083.0 L520.5,1083.0 L522.5,1083.0 L524.5,1083.0 L526.5,1083.0 L528.5,1083.0 L530.5,1083.0 L532.5,1083.0 L534.5,1082.9 L536.5,1082.9 L538.5,1082.9 L540.5,1082.9 L542.5,1082.9 L544.5,1082.9 L546.5,1082.9 L548.5,1082.9 L550.5,1082.9 L552.5,1082.9 L554.5,1082.9 L556.5,1082.9 L558.5,1082.8 L560.5,1082.8 L562.5,1082.8 L564.5,1082.8 L566.5,1082.8 L568.5,1082.8 L570.5,1082.8 L572.5,1082.8 L574.5,1082.8 L576.5,1082.7 L578.5,1082.7 L580.5,1082.7 L582.5,1082.7 L584.5,1082.7 L586.5,1082.7 L588.5,1082.7 L590.5,1082.6 L592.5,1082.6 L594.5,1082.6 L596.5,1082.6 L598.5,1082.6 L600.5,1082.6 L602.5,1082.5 L604.5,1082.5 L606.5,1082.5 L608.5,1082.5 L610.5,1082.5 L612.5,1082.5 L614.5,1082.4 L616.5,1082.4 L618.5,1082.4 L620.5,1082.4 L622.5,1082.4 L624.5,1082.3 L626.5,1082.3 L628.5,1082.3 L630.5,1082.3 L632.5,1082.2 L634.5,1082.2 L636.5,1082.2 L638.5,1082.2 L640.5,1082.1 L642.5,1082.1 L644.5,1082.1 L646.5,1082.1 L648.5,1082.0 L650.5,1082.0 L652.5,1082.0 L654.5,1082.0 L656.5,1081.9 L658.5,1081.9 L660.5,1081.9 L662.5,1081.9 L664.5,1081.8 L666.5,1081.8 L668.5,1081.8 L670.5,1081.7 L672.5,1081.7 L674.5,1081.7 L676.5,1081.7 L678.5,1081.6 L680.5,1081.6 L682.5,1081.6 L684.5,1081.5 L686.5,1081.5 L688.5,1081.5 L690.5,1081.4 L692.5,1081.4 L694.5,1081.4 L696.5,1081.3 L698.5,1081.3 L700.5,1081.3 L702.5,1081.2 L704.5,1081.2 L706.5,1081.2 L708.5,1081.1 L710.5,1081.1 L712.5,1081.1 L714.5,1081.0 L716.5,1081.0 L718.5,1081.0 L720.5,1080.9 L722.5,1080.9 L724.5,1080.8 L726.5,1080.8 L728.5,1080.8 L730.5,1080.7 L732.5,1080.7 L734.5,1080.6 L736.5,1080.6 L738.5,1080.6 L740.5,1080.5 L742.5,1080.5 L744.5,1080.4 L746.5,1080.4 L748.5,1080.4 L750.5,1080.3 L752.5,1080.3 L754.5,1080.2 L756.5,1080.2 L758.5,1080.1 L760.5,1080.1 L762.5,1080.1 L764.5,1080.0 L766.5,1080.0 L768.5,1079.9 L770.5,1079.9 L772.5,1079.8 L774.5,1079.8 L776.5,1079.7 L778.5,1079.7 L780.5,1079.6 L782.5,1079.6 L784.5,1079.5 L786.5,1079.5 L788.5,1079.4 L790.5,1079.4 L792.5,1079.3 L794.5,1079.3 L796.5,1079.2 L798.5,1079.2 L800.5,1079.1 L802.5,1079.1 L804.5,1079.0 L806.5,1079.0 L808.5,1078.9 L810.5,1078.9 L812.5,1078.8 L814.5,1078.8 L816.5,1078.7 L818.5,1078.7 L820.5,1078.6 L822.5,1078.6 L824.5,1078.5 L826.5,1078.5 L828.5,1078.4 L830.5,1078.3 L832.5,1078.3 L834.5,1078.2 L836.5,1078.2 L838.5,1078.1 L840.5,1078.1 L842.5,1078.0 L844.5,1078.0 L846.5,1077.9 L848.5,1077.8 L850.5,1077.8 L852.5,1077.7 L854.5,1077.7 L856.5,1077.6 L858.5,1077.5 L860.5,1077.5 L862.5,1077.4 L864.5,1077.3 L866.5,1077.3 L868.5,1077.2 L870.5,1077.2 L872.5,1077.1 L874.5,1077.0 L876.5,1076.9 L878.5,1076.9 L880.5,1076.8 L882.5,1076.7 L884.5,1076.6 L886.5,1076.5 L888.5,1076.4 L890.5,1076.3 L892.5,1076.2 L894.5,1076.1 L896.5,1076.0 L898.5,1075.8 L900.5,1075.7 L902.5,1075.6 L904.5,1075.4 L906.5,1075.3 L908.5,1075.1 L910.5,1075.0 L912.5,1074.8 L914.5,1074.6 L916.5,1074.4 L918.5,1074.3 L920.5,1074.1 L922.5,1073.9 L924.5,1073.7 L926.5,1073.5 L928.5,1073.3 L930.5,1073.1 L932.5,1072.9 L934.5,1072.7 L936.5,1072.5 L938.5,1072.2 L940.5,1072.0 L942.5,1071.8 L944.5,1071.6 L946.5,1071.3 L948.5,1071.1 L950.5,1070.8 L952.5,1070.6 L954.5,1070.3 L956.5,1070.1 L958.5,1069.8 L960.5,1069.6 L962.5,1069.3 L964.5,1069.0 L966.5,1068.8 L968.5,1068.5 L970.5,1068.2 L972.5,1068.0 L974.5,1067.7 L976.5,1067.4 L978.5,1067.1 L980.5,1066.8 L982.5,1066.6 L984.5,1066.3 L986.5,1066.0 L988.5,1065.7 L990.5,1065.4 L992.5,1065.1 L994.5,1064.8 L996.5,1064.4 L998.5,1064.1 L1000.5,1063.8 L1002.5,1063.4 L1004.5,1063.1 L1006.5,1062.7 L1008.5,1062.3 L1010.5,1061.9 L1012.5,1061.5 L1014.5,1061.1 L1016.5,1060.6 L1018.5,1060.2 L1020.5,1059.7 L1022.5,1059.2 L1024.5,1058.7 L1026.5,1058.2 L1028.5,1057.7 L1030.5,1057.2 L1032.5,1056.6 L1034.5,1056.1 L1036.5,1055.5 L1038.5,1054.9 L1040.5,1054.4 L1042.5,1053.8 L1044.5,1053.2 L1046.5,1052.6 L1048.5,1052.1 L1050.5,1051.5 L1052.5,1050.9 L1054.5,1050.3 L1056.5,1049.7 L1058.5,1049.1 L1060.5,1048.5 L1062.5,1048.0 L1064.5,1047.4 L1066.5,1046.8 L1068.5,1046.3 L1070.5,1045.7 L1072.5,1045.2 L1074.5,1044.6 L1076.5,1044.1 L1078.5,1043.6 L1080.5,1043.1 L1082.5,1042.6 L1084.5,1042.1 L1086.5,1041.7 L1088.5,1041.2 L1090.5,1040.8 L1092.5,1040.4 L1094.5,1040.0 L1096.5,1039.6 L1098.5,1039.2 L1100.5,1038.8 L1102.5,1038.4 L1104.5,1038.1 L1106.5,1037.7 L1108.5,1037.4 L1110.5,1037.1 L1112.5,1036.8 L1114.5,1036.5 L1116.5,1036.1 L1118.5,1035.8 L1120.5,1035.6 L1122.5,1035.3 L1124.5,1035.0 L1126.5,1034.7 L1128.5,1034.4 L1130.5,1034.2 L1132.5,1033.9 L1134.5,1033.7 L1136.5,1033.5 L1138.5,1033.2 L1140.5,1033.0 L1142.5,1032.8 L1144.5,1032.6 L1146.5,1032.4 L1148.5,1032.2 L1150.5,1032.0 L1152.5,1031.8 L1154.5,1031.7 L1156.5,1031.5 L1158.5,1031.3 L1160.5,1031.2 L1162.5,1031.0 L1164.5,1030.9 L1166.5,1030.8 L1168.5,1030.7 L1170.5,1030.6 L1172.5,1030.5 L1174.5,1030.4 L1176.5,1030.3 L1178.5,1030.3 L1180.5,1030.3 L1182.5,1030.3 L1184.5,1030.3 L1186.5,1030.3 L1188.5,1030.4 L1190.5,1030.5 L1192.5,1030.6 L1194.5,1030.7 L1196.5,1030.8 L1198.5,1031.0 L1200.5,1031.2 L1202.5,1031.4 L1204.5,1031.6 L1206.5,1031.8 L1208.5,1032.0 L1210.5,1032.3 L1212.5,1032.5 L1214.5,1032.8 L1216.5,1033.1 L1218.5,1033.4 L1220.5,1033.7 L1222.5,1034.0 L1224.5,1034.3 L1226.5,1034.6 L1228.5,1035.0 L1230.5,1035.3 L1232.5,1035.7 L1234.5,1036.2 L1236.5,1036.6 L1238.5,1037.0 L1240.5,1037.5 L1242.5,1038.0 L1244.5,1038.6 L1246.5,1039.1 L1248.5,1039.7 L1250.5,1040.3 L1252.5,1040.9 L1254.5,1041.5 L1256.5,1042.1 L1258.5,1042.7 L1260.5,1043.4 L1262.5,1044.0 L1264.5,1044.6 L1266.5,1045.3 L1268.5,1045.9 L1270.5,1046.5 L1272.5,1047.2 L1274.5,1047.8 L1276.5,1048.5 L1278.5,1049.1 L1280.5,1049.7 L1282.5,1050.4 L1284.5,1051.0 L1286.5,1051.7 L1288.5,1052.3 L1290.5,1053.0 L1292.5,1053.6 L1294.5,1054.3 L1296.5,1054.9 L1298.5,1055.6 L1300.5,1056.3 L1302.5,1056.9 L1304.5,1057.6 L1306.5,1058.3 L1308.5,1058.9 L1310.5,1059.6 L1312.5,1060.3 L1314.5,1060.9 L1316.5,1061.6 L1318.5,1062.2 L1320.5,1062.8 L1322.5,1063.5 L1324.5,1064.1 L1326.5,1064.7 L1328.5,1065.3 L1330.5,1065.9 L1332.5,1066.4 L1334.5,1067.0 L1336.5,1067.5 L1338.5,1068.1 L1340.5,1068.6 L1342.5,1069.1 L1344.5,1069.6 L1346.5,1070.0 L1348.5,1070.5 L1350.5,1071.0 L1352.5,1071.4 L1354.5,1071.8 L1356.5,1072.2 L1358.5,1072.6 L1360.5,1073.0 L1362.5,1073.4 L1364.5,1073.8 L1366.5,1074.2 L1368.5,1074.6 L1370.5,1074.9 L1372.5,1075.3 L1374.5,1075.6 L1376.5,1076.0 L1378.5,1076.3 L1380.5,1076.7 L1382.5,1077.0 L1384.5,1077.3 L1386.5,1077.6 L1388.5,1078.0 L1390.5,1078.3 L1392.5,1078.6 L1394.5,1078.9 L1396.5,1079.2 L1398.5,1079.5 L1400.5,1079.8 L1402.5,1080.0 L1404.5,1080.3 L1406.5,1080.6 L1408.5,1080.9 L1410.5,1081.1 L1412.5,1081.4 L1414.5,1081.7 L1416.5,1081.9 L1418.5,1082.2 L1420.5,1082.4 L1422.5,1082.7 L1424.5,1082.9 L1426.5,1083.1 L1428.5,1083.4 L1430.5,1083.6 L1432.5,1083.8 L1434.5,1084.1 L1436.5,1084.3 L1438.5,1084.5 L1440.5,1084.7 L1442.5,1085.0 L1444.5,1085.2 L1446.5,1085.4 L1448.5,1085.6 L1450.5,1085.8 L1452.5,1086.0 L1454.5,1086.2 L1456.5,1086.4 L1458.5,1086.6 L1460.5,1086.8 L1462.5,1087.0 L1464.5,1087.2 L1466.5,1087.4 L1468.5,1087.6 L1470.5,1087.8 L1472.5,1087.9 L1474.5,1088.1 L1476.5,1088.3 L1478.5,1088.4 L1480.5,1088.6 L1482.5,1088.8 L1484.5,1088.9 L1486.5,1089.1 L1488.5,1089.2 L1490.5,1089.3 L1492.5,1089.5 L1494.5,1089.6 L1496.5,1089.7 L1498.5,1089.9 L1500.5,1090.0 L1502.5,1090.1 L1504.5,1090.3 L1506.5,1090.4 L1508.5,1090.5 L1510.5,1090.6 L1512.5,1090.7 L1514.5,1090.8 L1516.5,1091.0 L1518.5,1091.1 L1520.5,1091.2 L1522.5,1091.3 L1524.5,1091.4 L1526.5,1091.5 L1528.5,1091.7 L1530.5,1091.8 L1532.5,1091.9 L1534.5,1092.0 L1536.5,1092.1 L1538.5,1092.2 L1540.5,1092.3 L1542.5,1092.4 L1544.5,1092.6 L1546.5,1092.7 L1548.5,1092.8 L1550.5,1092.9 L1552.5,1093.0 L1554.5,1093.1 L1556.5,1093.2 L1558.5,1093.3 L1560.5,1093.4 L1562.5,1093.5 L1564.5,1093.6 L1566.5,1093.7 L1568.5,1093.8 L1570.5,1093.9 L1572.5,1094.0 L1574.5,1094.1 L1576.5,1094.1 L1578.5,1094.2 L1580.5,1094.3 L1582.5,1094.4 L1584.5,1094.5 L1586.5,1094.6 L1588.5,1094.6 L1590.5,1094.7 L1592.5,1094.8 L1594.5,1094.9 L1596.5,1094.9 L1598.5,1095.0 L1600.5,1095.1 L1602.5,1095.2 L1604.5,1095.2 L1606.5,1095.3 L1608.5,1095.3 L1610.5,1095.4 L1612.5,1095.4 L1614.5,1095.5 L1616.5,1095.5 L1618.5,1095.6 L1620.5,1095.6 L1622.5,1095.7 L1624.5,1095.7 L1626.5,1095.8 L1628.5,1095.8 L1630.5,1095.8 L1632.5,1095.8 L1634.5,1095.9 L1636.5,1095.9 L1638.5,1095.9 L1640.5,1095.9 L1642.5,1095.9 L1644.5,1096.0 L1646.5,1096.0 L1648.5,1096.0 L1650.5,1096.0 L1652.5,1096.0 L1654.5,1096.0 L1656.5,1096.0 L1658.5,1096.0 L1660.5,1096.0 L1662.5,1096.0 L1664.5,1096.0 L1666.5,1096.0 L1668.5,1096.0 L1670.5,1096.0 L1672.5,1096.0 L1674.5,1096.0 L1676.5,1096.0 L1678.5,1096.0 L1680.5,1096.0 L1682.5,1096.0 L1684.5,1096.0 L1686.5,1096.0 L1688.5,1096.0 L1690.5,1096.0 L1692.5,1096.0 L1694.5,1096.0 L1696.5,1096.0 L1698.5,1096.0 L1700.5,1096.0 L1702.5,1096.0 L1704.5,1096.0 L1706.5,1096.0 L1708.5,1096.0 L1710.5,1096.0 L1712.5,1096.0 L1714.5,1096.0 L1716.5,1096.0 L1718.5,1096.0 L1720.5,1096.0 L1722.5,1096.0 L1724.5,1096.0 L1726.5,1096.0 L1728.5,1096.0 L1730.5,1096.0 L1732.5,1096.0 L1734.5,1096.0 L1736.5,1096.0 L1738.5,1096.0 L1740.5,1096.0 L1742.5,1096.0 L1744.5,1096.0 L1746.5,1096.0 L1748.5,1096.0 L1750.5,1096.0 L1752.5,1096.0 L1754.5,1096.0 L1756.5,1096.0 L1758.5,1096.0 L1760.5,1096.0 L1762.5,1096.0 L1764.5,1096.0 L1766.5,1096.0 L1768.5,1096.0 L1770.5,1096.0 L1772.5,1096.0 L1774.5,1096.0 L1776.5,1096.0 L1778.5,1096.0 L1780.5,1096.0 L1782.5,1096.0 L1784.5,1096.1 L1786.5,1096.1 L1788.5,1096.1 L1790.5,1096.2 L1792.5,1096.3 L1794.5,1096.3 L1796.5,1096.4 L1798.5,1096.6 L1800.5,1096.7 L1802.5,1096.8 L1804.5,1097.0 L1806.5,1097.1 L1808.5,1097.2 L1810.5,1097.4 L1812.5,1097.5 L1814.5,1097.6 L1816.5,1097.7 L1818.5,1097.8 L1820.5,1097.8 L1822.5,1097.9 L1824.5,1097.9 L1826.5,1098.0 L1828.5,1098.0 L1830.5,1098.0 L1832.5,1098.0 L1834.5,1098.0 L1836.5,1098.0 L1838.5,1098.0 L1840.5,1098.0 L1842.5,1098.0 L1844.5,1098.0 L1846.5,1098.0 L1848.5,1098.0 L1850.5,1098.0 L1852.5,1098.0 L1854.5,1098.0 L1856.5,1098.0 L1858.5,1098.0 L1860.5,1098.0 L1862.5,1098.0 L1864.5,1098.0 L1866.5,1098.0 L1868.5,1098.0 L1870.5,1098.0 L1872.5,1098.0 L1874.5,1098.0 L1876.5,1098.0 L1878.5,1098.0 L1880.5,1098.0 L1882.5,1098.0 L1884.5,1098.0 L1886.5,1098.0 L1888.5,1098.0 L1890.5,1098.0 L1892.5,1098.0 L1894.5,1098.0 L1896.5,1098.0 L1898.5,1098.0 L1900.5,1098.0 L1902.5,1098.0 L1904.5,1098.0 L1906.5,1098.0 L1908.5,1098.0 L1910.5,1098.0 L1912.5,1098.0 L1914.5,1098.0 L1916.5,1098.0 L1918.5,1098.0 L1920.5,1098.0 L1922.5,1098.0 L1924.5,1098.0 L1926.5,1098.0 L1928.5,1098.0 L1930.5,1098.0 L1932.5,1098.0 L1934.5,1098.0 L1936.5,1098.0 L1938.5,1098.0 L1940.5,1098.0 L1942.5,1098.0 L1944.5,1098.0 L1946.5,1098.0 L1948.5,1098.0 L1950.5,1098.0 L1952.5,1098.0 L1954.5,1098.0 L1956.5,1098.0 L1958.5,1098.0 L1960.5,1098.0 L1962.5,1098.0 L1964.5,1098.0 L1966.5,1098.0 L1968.5,1098.0 L1970.5,1098.0 L1972.5,1098.0 L1974.5,1098.0 L1976.5,1098.0 L1978.5,1098.0 L1980.5,1098.0 L1982.5,1098.0 L1984.5,1098.0 L1986.5,1098.0 L1988.5,1098.0 L1990.5,1098.0 L1992.5,1098.0 L1994.5,1098.0 L1996.5,1098.0 L1998.5,1098.0 L2000.5,1098.0 L2002.5,1098.0 L2004.5,1098.0" stroke="#f4a460" stroke-width="14" />
<path d="M132.5,1087.3 L134.5,1087.3 L136.5,1087.4 L138.5,1087.5 L140.5,1087.5 L142.5,1087.6 L144.5,1087.7 L146.5,1087.8 L148.5,1087.9 L150.5,1087.9 L152.5,1088.0 L154.5,1088.1 L156.5,1088.2 L158.5,1088.3 L160.5,1088.3 L162.5,1088.4 L164.5,1088.5 L166.5,1088.6 L168.5,1088.6 L170.5,1088.7 L172.5,1088.7 L174.5,1088.8 L176.5,1088.8 L178.5,1088.9 L180.5,1088.9 L182.5,1089.0 L184.5,1089.0 L186.5,1089.0 L188.5,1089.0 L190.5,1089.0 L192.5,1089.0 L194.5,1089.0 L196.5,1089.0 L198.5,1089.0 L200.5,1089.0 L202.5,1089.0 L204.5,1089.0 L206.5,1089.0 L208.5,1089.0 L210.5,1089.0 L212.5,1089.0 L214.5,1089.0 L216.5,1089.0 L218.5,1089.0 L220.5,1089.0 L222.5,1089.0 L224.5,1089.0 L226.5,1089.0 L228.5,1089.0 L230.5,1089.0 L232.5,1089.0 L234.5,1089.0 L236.5,1089.0 L238.5,1089.0 L240.5,1089.0 L242.5,1089.0 L244.5,1089.0 L246.5,1089.0 L248.5,1089.0 L250.5,1089.0 L252.5,1089.0 L254.5,1089.0 L256.5,1089.0 L258.5,1089.0 L260.5,1089.0 L262.5,1089.0 L264.5,1089.0 L266.5,1089.0 L268.5,1089.0 L270.5,1089.0 L272.5,1089.0 L274.5,1089.0 L276.5,1089.0 L278.5,1089.0 L280.5,1089.0 L282.5,1089.0 L284.5,1089.0 L286.5,1089.0 L288.5,1089.0 L290.5,1089.0 L292.5,1089.0 L294.5,1089.0 L296.5,1089.0 L298.5,1089.0 L300.5,1089.0 L302.5,1089.0 L304.5,1089.0 L306.5,1089.0 L308.5,1089.0 L310.5,1089.0 L312.5,1089.0 L314.5,1089.0 L316.5,1089.0 L318.5,1089.0 L320.5,1089.0 L322.5,1089.0 L324.5,1089.0 L326.5,1089.0 L328.5,1089.0 L330.5,1089.0 L332.5,1089.0 L334.5,1089.0 L336.5,1089.0 L338.5,1089.0 L340.5,1089.0 L342.5,1089.0 L344.5,1089.0 L346.5,1089.0 L348.5,1089.0 L350.5,1089.0 L352.5,1089.0 L354.5,1089.0 L356.5,1089.0 L358.5,1089.0 L360.5,1089.0 L362.5,1089.0 L364.5,1089.0 L366.5,1089.0 L368.5,1089.0 L370.5,1089.0 L372.5,1089.0 L374.5,1089.0 L376.5,1089.0 L378.5,1089.0 L380.5,1089.0 L382.5,1089.0 L384.5,1089.0 L386.5,1089.0 L388.5,1089.0 L390.5,1089.0 L392.5,1089.0 L394.5,1089.0 L396.5,1089.0 L398.5,1089.0 L400.5,1089.0 L402.5,1089.0 L404.5,1089.0 L406.5,1089.0 L408.5,1089.0 L410.5,1089.0 L412.5,1089.0 L414.5,1089.0 L416.5,1089.0 L418.5,1089.0 L420.5,1089.0 L422.5,1089.0 L424.5,1089.0 L426.5,1089.0 L428.5,1089.0 L430.5,1089.0 L432.5,1089.0 L434.5,1089.0 L436.5,1089.0 L438.5,1089.0 L440.5,1089.0 L442.5,1089.0 L444.5,1089.0 L446.5,1089.0 L448.5,1089.0 L450.5,1089.0 L452.5,1089.0 L454.5,1089.0 L456.5,1089.0 L458.5,1089.0 L460.5,1089.0 L462.5,1089.0 L464.5,1089.0 L466.5,1089.0 L468.5,1089.0 L470.5,1089.0 L472.5,1089.0 L474.5,1089.0 L476.5,1089.0 L478.5,1089.0 L480.5,1089.0 L482.5,1089.0 L484.5,1089.0 L486.5,1089.0 L488.5,1089.0 L490.5,1089.0 L492.5,1089.0 L494.5,1089.0 L496.5,1089.0 L498.5,1089.0 L500.5,1089.0 L502.5,1089.0 L504.5,1089.0 L506.5,1089.0 L508.5,1089.0 L510.5,1089.0 L512.5,1089.0 L514.5,1089.0 L516.5,1089.0 L518.5,1089.0 L520.5,1089.0 L522.5,1089.0 L524.5,1089.0 L526.5,1089.0 L528.5,1089.0 L530.5,1089.0 L532.5,1089.0 L534.5,1089.0 L536.5,1089.0 L538.5,1089.0 L540.5,1089.0 L542.5,1089.0 L544.5,1089.0 L546.5,1089.0 L548.5,1089.0 L550.5,1089.0 L552.5,1089.0 L554.5,1089.0 L556.5,1089.0 L558.5,1089.0 L560.5,1089.0 L562.5,1089.0 L564.5,1089.0 L566.5,1089.0 L568.5,1089.0 L570.5,1089.0 L572.5,1089.0 L574.5,1089.0 L576.5,1089.0 L578.5,1089.0 L580.5,1089.0 L582.5,1089.0 L584.5,1089.0 L586.5,1089.0 L588.5,1089.0 L590.5,1089.0 L592.5,1089.0 L594.5,1089.0 L596.5,1089.0 L598.5,1089.0 L600.5,1089.0 L602.5,1089.0 L604.5,1089.0 L606.5,1089.0 L608.5,1089.0 L610.5,1089.0 L612.5,1089.0 L614.5,1089.0 L616.5,1089.0 L618.5,1089.0 L620.5,1089.0 L622.5,1089.0 L624.5,1089.0 L626.5,1089.0 L628.5,1089.0 L630.5,1089.0 L632.5,1089.0 L634.5,1089.0 L636.5,1089.0 L638.5,1089.0 L640.5,1089.0 L642.5,1089.0 L644.5,1089.0 L646.5,1089.0 L648.5,1089.0 L650.5,1089.0 L652.5,1089.0 L654.5,1089.0 L656.5,1089.0 L658.5,1089.0 L660.5,1089.0 L662.5,1089.0 L664.5,1089.0 L666.5,1089.0 L668.5,1089.0 L670.5,1089.0 L672.5,1089.0 L674.5,1089.0 L676.5,1089.0 L678.5,1089.0 L680.5,1089.0 L682.5,1089.0 L684.5,1089.0 L686.5,1089.0 L688.5,1089.0 L690.5,1089.0 L692.5,1089.0 L694.5,1089.0 L696.5,1089.0 L698.5,1089.0 L700.5,1089.0 L702.5,1089.0 L704.5,1089.0 L706.5,1089.0 L708.5,1089.0 L710.5,1089.0 L712.5,1089.0 L714.5,1089.0 L716.5,1089.0 L718.5,1089.0 L720.5,1089.0 L722.5,1089.0 L724.5,1089.0 L726.5,1089.0 L728.5,1089.0 L730.5,1089.0 L732.5,1089.0 L734.5,1089.0 L736.5,1089.0 L738.5,1089.0 L740.5,1089.0 L742.5,1089.0 L744.5,1089.0 L746.5,1089.0 L748.5,1089.0 L750.5,1089.0 L752.5,1089.0 L754.5,1089.0 L756.5,1089.0 L758.5,1089.0 L760.5,1089.0 L762.5,1089.0 L764.5,1089.0 L766.5,1089.0 L768.5,1089.0 L770.5,1089.0 L772.5,1089.0 L774.5,1089.0 L776.5,1089.0 L778.5,1089.0 L780.5,1089.0 L782.5,1089.0 L784.5,1089.0 L786.5,1089.0 L788.5,1089.0 L790.5,1089.0 L792.5,1089.0 L794.5,1089.0 L796.5,1089.0 L798.5,1089.0 L800.5,1089.0 L802.5,1089.0 L804.5,1089.0 L806.5,1089.0 L808.5,1089.0 L810.5,1089.0 L812.5,1089.0 L814.5,1089.0 L816.5,1089.0 L818.5,1089.0 L820.5,1089.0 L822.5,1089.0 L824.5,1089.0 L826.5,1089.0 L828.5,1089.0 L830.5,1089.0 L832.5,1089.0 L834.5,1089.0 L836.5,1089.0 L838.5,1089.0 L840.5,1089.0 L842.5,1089.0 L844.5,1089.0 L846.5,1089.0 L848.5,1089.0 L850.5,1089.0 L852.5,1089.0 L854.5,1089.0 L856.5,1089.0 L858.5,1089.0 L860.5,1089.0 L862.5,1089.0 L864.5,1089.0 L866.5,1089.0 L868.5,1089.1 L870.5,1089.2 L872.5,1089.5 L874.5,1089.9 L876.5,1090.3 L878.5,1090.6 L880.5,1090.9 L882.5,1091.0 L884.5,1091.1 L886.5,1091.1 L888.5,1091.1 L890.5,1091.2 L892.5,1091.2 L894.5,1091.2 L896.5,1091.3 L898.5,1091.3 L900.5,1091.3 L902.5,1091.3 L904.5,1091.4 L906.5,1091.4 L908.5,1091.4 L910.5,1091.5 L912.5,1091.5 L914.5,1091.5 L916.5,1091.5 L918.5,1091.6 L920.5,1091.6 L922.5,1091.6 L924.5,1091.6 L926.5,1091.6 L928.5,1091.7 L930.5,1091.7 L932.5,1091.7 L934.5,1091.7 L936.5,1091.7 L938.5,1091.8 L940.5,1091.8 L942.5,1091.8 L944.5,1091.8 L946.5,1091.8 L948.5,1091.8 L950.5,1091.9 L952.5,1091.9 L954.5,1091.9 L956.5,1091.9 L958.5,1091.9 L960.5,1091.9 L962.5,1092.0 L964.5,1092.0 L966.5,1092.0 L968.5,1092.0 L970.5,1092.0 L972.5,1092.0 L974.5,1092.0 L976.5,1092.0 L978.5,1092.1 L980.5,1092.1 L982.5,1092.1 L984.5,1092.1 L986.5,1092.1 L988.5,1092.1 L990.5,1092.1 L992.5,1092.1 L994.5,1092.1 L996.5,1092.1 L998.5,1092.2 L1000.5,1092.2 L1002.5,1092.2 L1004.5,1092.2 L1006.5,1092.2 L1008.5,1092.2 L1010.5,1092.2 L1012.5,1092.2 L1014.5,1092.2 L1016.5,1092.2 L1018.5,1092.2 L1020.5,1092.2 L1022.5,1092.2 L1024.5,1092.2 L1026.5,1092.3 L1028.5,1092.3 L1030.5,1092.3 L1032.5,1092.3 L1034.5,1092.3 L1036.5,1092.3 L1038.5,1092.3 L1040.5,1092.3 L1042.5,1092.3 L1044.5,1092.3 L1046.5,1092.3 L1048.5,1092.3 L1050.5,1092.3 L1052.5,1092.3 L1054.5,1092.3 L1056.5,1092.3 L1058.5,1092.3 L1060.5,1092.3 L1062.5,1092.3 L1064.5,1092.3 L1066.5,1092.4 L1068.5,1092.4 L1070.5,1092.4 L1072.5,1092.4 L1074.5,1092.4 L1076.5,1092.4 L1078.5,1092.4 L1080.5,1092.4 L1082.5,1092.4 L1084.5,1092.4 L1086.5,1092.4 L1088.5,1092.4 L1090.5,1092.4 L1092.5,1092.4 L1094.5,1092.4 L1096.5,1092.4 L1098.5,1092.4 L1100.5,1092.4 L1102.5,1092.4 L1104.5,1092.4 L1106.5,1092.5 L1108.5,1092.5 L1110.5,1092.5 L1112.5,1092.5 L1114.5,1092.5 L1116.5,1092.5 L1118.5,1092.5 L1120.5,1092.5 L1122.5,1092.5 L1124.5,1092.5 L1126.5,1092.5 L1128.5,1092.5 L1130.5,1092.5 L1132.5,1092.5 L1134.5,1092.6 L1136.5,1092.6 L1138.5,1092.6 L1140.5,1092.6 L1142.5,1092.6 L1144.5,1092.6 L1146.5,1092.6 L1148.5,1092.6 L1150.5,1092.6 L1152.5,1092.6 L1154.5,1092.7 L1156.5,1092.7 L1158.5,1092.7 L1160.5,1092.7 L1162.5,1092.7 L1164.5,1092.7 L1166.5,1092.7 L1168.5,1092.7 L1170.5,1092.7 L1172.5,1092.8 L1174.5,1092.8 L1176.5,1092.8 L1178.5,1092.8 L1180.5,1092.8 L1182.5,1092.8 L1184.5,1092.8 L1186.5,1092.9 L1188.5,1092.9 L1190.5,1092.9 L1192.5,1092.9 L1194.5,1092.9 L1196.5,1092.9 L1198.5,1093.0 L1200.5,1093.0 L1202.5,1093.0 L1204.5,1093.0 L1206.5,1093.0 L1208.5,1093.1 L1210.5,1093.1 L1212.5,1093.1 L1214.5,1093.1 L1216.5,1093.2 L1218.5,1093.2 L1220.5,1093.2 L1222.5,1093.2 L1224.5,1093.2 L1226.5,1093.3 L1228.5,1093.3 L1230.5,1093.3 L1232.5,1093.3 L1234.5,1093.4 L1236.5,1093.4 L1238.5,1093.4 L1240.5,1093.4 L1242.5,1093.5 L1244.5,1093.5 L1246.5,1093.5 L1248.5,1093.5 L1250.5,1093.6 L1252.5,1093.6 L1254.5,1093.6 L1256.5,1093.6 L1258.5,1093.6 L1260.5,1093.7 L1262.5,1093.7 L1264.5,1093.7 L1266.5,1093.7 L1268.5,1093.7 L1270.5,1093.7 L1272.5,1093.7 L1274.5,1093.8 L1276.5,1093.8 L1278.5,1093.8 L1280.5,1093.8 L1282.5,1093.8 L1284.5,1093.8 L1286.5,1093.7 L1288.5,1093.7 L1290.5,1093.7 L1292.5,1093.7 L1294.5,1093.7 L1296.5,1093.6 L1298.5,1093.6 L1300.5,1093.6 L1302.5,1093.5 L1304.5,1093.5 L1306.5,1093.4 L1308.5,1093.4 L1310.5,1093.3 L1312.5,1093.3 L1314.5,1093.2 L1316.5,1093.1 L1318.5,1093.0 L1320.5,1092.9 L1322.5,1092.8 L1324.5,1092.7 L1326.5,1092.6 L1328.5,1092.5 L1330.5,1092.4 L1332.5,1092.2 L1334.5,1092.1 L1336.5,1091.9 L1338.5,1091.7 L1340.5,1091.6 L1342.5,1091.4 L1344.5,1091.2 L1346.5,1091.0 L1348.5,1090.8 L1350.5,1090.5 L1352.5,1090.3 L1354.5,1090.1 L1356.5,1089.8 L1358.5,1089.5 L1360.5,1089.2 L1362.5,1089.0 L1364.5,1088.6 L1366.5,1088.3 L1368.5,1088.0 L1370.5,1087.7 L1372.5,1087.3 L1374.5,1086.9 L1376.5,1086.5 L1378.5,1086.1 L1380.5,1085.7 L1382.5,1085.3 L1384.5,1084.9 L1386.5,1084.4 L1388.5,1084.0 L1390.5,1083.5 L1392.5,1083.0 L1394.5,1082.5 L1396.5,1082.0 L1398.5,1081.4 L1400.5,1080.9 L1402.5,1080.4 L1404.5,1079.8 L1406.5,1079.2 L1408.5,1078.6 L1410.5,1078.0 L1412.5,1077.4 L1414.5,1076.8 L1416.5,1076.1 L1418.5,1075.5 L1420.5,1074.8 L1422.5,1074.2 L1424.5,1073.5 L1426.5,1072.8 L1428.5,1072.1 L1430.5,1071.4 L1432.5,1070.7 L1434.5,1070.0 L1436.5,1069.3 L1438.5,1068.6 L1440.5,1067.9 L1442.5,1067.2 L1444.5,1066.4 L1446.5,1065.7 L1448.5,1065.0 L1450.5,1064.3 L1452.5,1063.6 L1454.5,1062.8 L1456.5,1062.1 L1458.5,1061.4 L1460.5,1060.7 L1462.5,1060.0 L1464.5,1059.3 L1466.5,1058.7 L1468.5,1058.0 L1470.5,1057.3 L1472.5,1056.7 L1474.5,1056.1 L1476.5,1055.4 L1478.5,1054.8 L1480.5,1054.3 L1482.5,1053.7 L1484.5,1053.1 L1486.5,1052.6 L1488.5,1052.1 L1490.5,1051.6 L1492.5,1051.1 L1494.5,1050.7 L1496.5,1050.2 L1498.5,1049.8 L1500.5,1049.5 L1502.5,1049.1 L1504.5,1048.8 L1506.5,1048.5 L1508.5,1048.2 L1510.5,1047.9 L1512.5,1047.7 L1514.5,1047.5 L1516.5,1047.4 L1518.5,1047.2 L1520.5,1047.1 L1522.5,1047.1 L1524.5,1047.0 L1526.5,1047.0 L1528.5,1047.0 L1530.5,1047.0 L1532.5,1047.1 L1534.5,1047.2 L1536.5,1047.3 L1538.5,1047.4 L1540.5,1047.6 L1542.5,1047.7 L1544.5,1047.9 L1546.5,1048.2 L1548.5,1048.4 L1550.5,1048.7 L1552.5,1048.9 L1554.5,1049.2 L1556.5,1049.5 L1558.5,1049.9 L1560.5,1050.2 L1562.5,1050.6 L1564.5,1051.0 L1566.5,1051.4 L1568.5,1051.9 L1570.5,1052.3 L1572.5,1052.8 L1574.5,1053.2 L1576.5,1053.7 L1578.5,1054.3 L1580.5,1054.8 L1582.5,1055.3 L1584.5,1055.9 L1586.5,1056.4 L1588.5,1057.0 L1590.5,1057.6 L1592.5,1058.2 L1594.5,1058.8 L1596.5,1059.4 L1598.5,1060.0 L1600.5,1060.7 L1602.5,1061.3 L1604.5,1061.9 L1606.5,1062.6 L1608.5,1063.3 L1610.5,1063.9 L1612.5,1064.6 L1614.5,1065.2 L1616.5,1065.9 L1618.5,1066.6 L1620.5,1067.3 L1622.5,1067.9 L1624.5,1068.6 L1626.5,1069.3 L1628.5,1070.0 L1630.5,1070.7 L1632.5,1071.3 L1634.5,1072.0 L1636.5,1072.7 L1638.5,1073.3 L1640.5,1074.0 L1642.5,1074.6 L1644.5,1075.3 L1646.5,1075.9 L1648.5,1076.6 L1650.5,1077.2 L1652.5,1077.8 L1654.5,1078.5 L1656.5,1079.1 L1658.5,1079.7 L1660.5,1080.3 L1662.5,1080.9 L1664.5,1081.5 L1666.5,1082.1 L1668.5,1082.6 L1670.5,1083.2 L1672.5,1083.8 L1674.5,1084.3 L1676.5,1084.8 L1678.5,1085.4 L1680.5,1085.9 L1682.5,1086.4 L1684.5,1086.9 L1686.5,1087.4 L1688.5,1087.9 L1690.5,1088.3 L1692.5,1088.8 L1694.5,1089.2 L1696.5,1089.7 L1698.5,1090.1 L1700.5,1090.5 L1702.5,1090.9 L1704.5,1091.3 L1706.5,1091.7 L1708.5,1092.1 L1710.5,1092.4 L1712.5,1092.8 L1714.5,1093.2 L1716.5,1093.5 L1718.5,1093.8 L1720.5,1094.1 L1722.5,1094.4 L1724.5,1094.7 L1726.5,1095.0 L1728.5,1095.3 L1730.5,1095.6 L1732.5,1095.8 L1734.5,1096.1 L1736.5,1096.3 L1738.5,1096.6 L1740.5,1096.8 L1742.5,1097.0 L1744.5,1097.2 L1746.5,1097.4 L1748.5,1097.6 L1750.5,1097.8 L1752.5,1098.0 L1754.5,1098.1 L1756.5,1098.3 L1758.5,1098.5 L1760.5,1098.6 L1762.5,1098.7 L1764.5,1098.9 L1766.5,1099.0 L1768.5,1099.1 L1770.5,1099.2 L1772.5,1099.3 L1774.5,1099.4 L1776.5,1099.5 L1778.5,1099.6 L1780.5,1099.7 L1782.5,1099.8 L1784.5,1099.9 L1786.5,1100.0 L1788.5,1100.0 L1790.5,1100.1 L1792.5,1100.2 L1794.5,1100.2 L1796.5,1100.3 L1798.5,1100.4 L1800.5,1100.4 L1802.5,1100.5 L1804.5,1100.5 L1806.5,1100.6 L1808.5,1100.6 L1810.5,1100.6 L1812.5,1100.7 L1814.5,1100.7 L1816.5,1100.8 L1818.5,1100.8 L1820.5,1100.8 L1822.5,1100.9 L1824.5,1100.9 L1826.5,1100.9 L1828.5,1100.9 L1830.5,1101.0 L1832.5,1101.0 L1834.5,1101.0 L1836.5,1101.0 L1838.5,1101.0 L1840.5,1101.1 L1842.5,1101.1 L1844.5,1101.1 L1846.5,1101.1 L1848.5,1101.1 L1850.5,1101.1 L1852.5,1101.1 L1854.5,1101.1 L1856.5,1101.2 L1858.5,1101.2 L1860.5,1101.2 L1862.5,1101.2 L1864.5,1101.2 L1866.5,1101.2 L1868.5,1101.2 L1870.5,1101.2 L1872.5,1101.2 L1874.5,1101.2 L1876.5,1101.2 L1878.5,1101.2 L1880.5,1101.2 L1882.5,1101.2 L1884.5,1101.3 L1886.5,1101.3 L1888.5,1101.3 L1890.5,1101.3 L1892.5,1101.3 L1894.5,1101.3 L1896.5,1101.3 L1898.5,1101.3 L1900.5,1101.3 L1902.5,1101.3 L1904.5,1101.3 L1906.5,1101.3 L1908.5,1101.3 L1910.5,1101.3 L1912.5,1101.3 L1914.5,1101.3 L1916.5,1101.3 L1918.5,1101.3 L1920.5,1101.3 L1922.5,1101.3 L1924.5,1101.3 L1926.5,1101.3 L1928.5,1101.3 L1930.5,1101.3 L1932.5,1101.3 L1934.5,1101.3 L1936.5,1101.3 L1938.5,1101.3 L1940.5,1101.3 L1942.5,1101.3 L1944.5,1101.3 L1946.5,1101.3 L1948.5,1101.3 L1950.5,1101.3 L1952.5,1101.3 L1954.5,1101.3 L1956.5,1101.3 L1958.5,1101.3 L1960.5,1101.3 L1962.5,1101.3 L1964.5,1101.3 L1966.5,1101.3 L1968.5,1101.3 L1970.5,1101.3 L1972.5,1101.3 L1974.5,1101.3 L1976.5,1101.3 L1978.5,1101.3 L1980.5,1101.3 L1982.5,1101.3 L1984.5,1101.3 L1986.5,1101.3 L1988.5,1101.3 L1990.5,1101.3 L1992.5,1101.3 L1994.5,1101.3 L1996.5,1101.3 L1998.5,1101.3 L2000.5,1101.3 L2002.5,1101.3 L2004.5,1101.3" stroke="#00a0ff" stroke-width="14" />
<path d="M132.5,1459.8 L142.9,1462.2 L153.3,1454.0 L163.7,1463.3 L174.1,1457.2 L184.5,1450.8 L194.9,1455.9 L205.3,1462.8 L215.7,1461.3 L226.1,1453.2 L236.5,1462.9 L246.9,1459.0 L257.3,1461.8 L267.7,1461.3 L278.1,1453.1 L288.5,1461.4 L298.9,1456.2 L309.3,1468.0 L319.7,1463.5 L330.1,1459.8 L340.5,1454.1 L350.9,1459.8 L361.3,1460.4 L371.7,1452.9 L382.1,1471.7 L392.5,1461.7 L402.9,1468.8 L413.3,1453.4 L423.7,1468.5 L434.1,1452.0 L444.5,1455.9 L454.9,1462.5 L465.3,1459.8 L475.7,1446.5 L486.1,1453.4 L496.5,1464.1 L506.9,1471.0 L517.3,1464.5 L527.7,1457.9 L538.1,1463.7 L548.5,1452.9 L558.9,1461.8 L569.3,1451.5 L579.7,1458.6 L590.1,1457.8 L600.5,1462.7 L610.9,1456.3 L621.3,1464.3 L631.7,1456.4 L642.1,1461.7 L652.5,1461.2 L662.9,1446.4 L673.3,1456.4 L683.7,1456.0 L694.1,1451.2 L704.5,1456.1 L714.9,1446.8 L725.3,1457.4 L735.7,1456.8 L746.1,1455.3 L756.5,1466.9 L766.9,1454.8 L777.3,1452.9 L787.7,1448.1 L798.1,1453.4 L808.5,1446.1 L818.9,1458.0 L829.3,1447.0 L839.7,1450.9 L850.1,1460.4 L860.5,1455.1 L870.9,1449.2 L881.3,1454.5 L891.7,1445.5 L902.1,1449.0 L912.5,1443.6 L922.9,1437.3 L933.3,1443.3 L943.7,1444.6 L954.1,1436.0 L964.5,1430.2 L974.9,1431.5 L985.3,1419.5 L995.7,1427.3 L1006.1,1422.4 L1016.5,1436.6 L1026.9,1419.2 L1037.3,1410.1 L1047.7,1419.2 L1058.1,1408.8 L1068.5,1405.0 L1078.9,1400.4 L1089.3,1394.9 L1099.7,1385.7 L1110.1,1386.3 L1120.5,1376.3 L1130.9,1362.2 L1141.3,1354.7 L1151.7,1340.4 L1162.1,1336.4 L1172.5,1327.3 L1182.9,1314.7 L1193.3,1302.1 L1203.7,1285.6 L1214.1,1282.4 L1224.5,1259.9 L1234.9,1248.6 L1245.3,1234.7 L1255.7,1225.8 L1266.1,1213.6 L1276.5,1216.6 L1286.9,1199.6 L1297.3,1181.7 L1307.7,1184.4 L1318.1,1176.8 L1328.5,1189.2 L1338.9,1193.3 L1349.3,1185.9 L1359.7,1195.7 L1370.1,1196.5 L1380.5,1206.6 L1390.9,1222.1 L1401.3,1220.0 L1411.7,1225.5 L1422.1,1247.3 L1432.5,1257.8 L1442.9,1270.4 L1453.3,1284.2 L1463.7,1286.5 L1474.1,1291.1 L1484.5,1319.0 L1494.9,1322.3 L1505.3,1329.1 L1515.7,1340.4 L1526.1,1364.1 L1536.5,1370.0 L1546.9,1381.6 L1557.3,1395.2 L1567.7,1396.9 L1578.1,1404.1 L1588.5,1414.6 L1598.9,1421.4 L1609.3,1433.2 L1619.7,1436.4 L1630.1,1447.1 L1640.5,1449.0 L1650.9,1455.1 L1661.3,1461.9 L1671.7,1468.3 L1682.1,1471.1 L1692.5,1464.8 L1702.9,1466.6 L1713.3,1463.7 L1723.7,1472.8 L1734.1,1476.2 L1744.5,1464.8 L1754.9,1472.4 L1765.3,1466.3 L1775.7,1466.9 L1786.1,1468.9 L1796.5,1465.7 L1806.9,1472.9 L1817.3,1459.7 L1827.7,1464.2 L1838.1,1467.3 L1848.5,1462.2 L1858.9,1470.0 L1869.3,1459.7 L1879.7,1468.3 L1890.1,1460.1 L1900.5,1467.2 L1910.9,1470.8 L1921.3,1480.1 L1931.7,1473.9 L1942.1,1476.9 L1952.5,1468.4 L1962.9,1479.6 L1973.3,1466.7 L1983.7,1466.6 L1994.1,1460.9 L2004.5,1469.2" stroke="#c0c0c0" stroke-width="3" />
<path d="M1345.0,1473.2 L1707.0,1473.8" stroke="#ff80c0" stroke-width="14" />
<path d="M132.5,1461.0 L134.5,1461.0 L136.5,1461.0 L138.5,1461.0 L140.5,1461.0 L142.5,1461.0 L144.5,1461.0 L146.5,1461.0 L148.5,1461.0 L150.5,1461.0 L152.5,1461.0 L154.5,1461.0 L156.5,1461.0 L158.5,1461.0 L160.5,1461.0 L162.5,1461.0 L164.5,1461.0 L166.5,1461.0 L168.5,1461.0 L170.5,1461.0 L172.5,1461.0 L174.5,1461.0 L176.5,1461.0 L178.5,1461.0 L180.5,1461.0 L182.5,1461.0 L184.5,1461.0 L186.5,1461.0 L188.5,1461.0 L190.5,1461.0 L192.5,1461.0 L194.5,1461.0 L196.5,1461.0 L198.5,1461.0 L200.5,1461.0 L202.5,1461.0 L204.5,1461.0 L206.5,1461.0 L208.5,1461.0 L210.5,1461.0 L212.5,1461.0 L214.5,1461.0 L216.5,1461.0 L218.5,1461.0 L220.5,1461.0 L222.5,1461.0 L224.5,1461.0 L226.5,1461.0 L228.5,1461.0 L230.5,1461.0 L232.5,1461.0 L234.5,1461.0 L236.5,1461.0 L238.5,1461.0 L240.5,1461.0 L242.5,1461.0 L244.5,1461.0 L246.5,1461.0 L248.5,1461.0 L250.5,1461.0 L252.5,1461.0 L254.5,1461.0 L256.5,1461.0 L258.5,1461.0 L260.5,1461.0 L262.5,1461.0 L264.5,1461.0 L266.5,1461.0 L268.5,1461.0 L270.5,1461.0 L272.5,1461.0 L274.5,1461.0 L276.5,1461.0 L278.5,1461.0 L280.5,1461.0 L282.5,1461.0 L284.5,1461.0 L286.5,1461.0 L288.5,1461.0 L290.5,1461.0 L292.5,1461.0 L294.5,1461.0 L296.5,1461.0 L298.5,1461.0 L300.5,1461.0 L302.5,1461.0 L304.5,1461.0 L306.5,1461.0 L308.5,1461.0 L310.5,1461.0 L312.5,1461.0 L314.5,1461.0 L316.5,1461.0 L318.5,1461.0 L320.5,1461.0 L322.5,1461.0 L324.5,1461.0 L326.5,1461.0 L328.5,1461.0 L330.5,1461.0 L332.5,1461.0 L334.5,1461.0 L336.5,1461.0 L338.5,1461.0 L340.5,1461.0 L342.5,1461.0 L344.5,1461.0 L346.5,1461.0 L348.5,1461.0 L350.5,1461.0 L352.5,1461.0 L354.5,1461.0 L356.5,1461.0 L358.5,1461.0 L360.5,1461.0 L362.5,1461.0 L364.5,1461.0 L366.5,1461.0 L368.5,1461.0 L370.5,1461.0 L372.5,1461.0 L374.5,1461.0 L376.5,1461.0 L378.5,1461.0 L380.5,1461.0 L382.5,1461.0 L384.5,1461.0 L386.5,1461.0 L388.5,1461.0 L390.5,1461.0 L392.5,1461.0 L394.5,1461.0 L396.5,1461.0 L398.5,1461.0 L400.5,1461.0 L402.5,1461.0 L404.5,1461.0 L406.5,1461.0 L408.5,1461.0 L410.5,1461.0 L412.5,1461.0 L414.5,1461.0 L416.5,1461.0 L418.5,1461.0 L420.5,1461.0 L422.5,1461.0 L424.5,1461.0 L426.5,1461.0 L428.5,1461.0 L430.5,1461.0 L432.5,1461.0 L434.5,1461.0 L436.5,1461.0 L438.5,1461.0 L440.5,1461.0 L442.5,1461.0 L444.5,1461.0 L446.5,1461.0 L448.5,1461.0 L450.5,1461.0 L452.5,1461.0 L454.5,1461.0 L456.5,1461.0 L458.5,1461.0 L460.5,1461.0 L462.5,1461.0 L464.5,1461.0 L466.5,1461.0 L468.5,1461.0 L470.5,1461.0 L472.5,1461.0 L474.5,1461.0 L476.5,1461.0 L478.5,1461.0 L480.5,1461.0 L482.5,1461.0 L484.5,1461.0 L486.5,1461.0 L488.5,1461.0 L490.5,1461.0 L492.5,1461.0 L494.5,1461.0 L496.5,1461.0 L498.5,1461.0 L500.5,1461.0 L502.5,1461.0 L504.5,1461.0 L506.5,1461.0 L508.5,1461.0 L510.5,1461.0 L512.5,1461.0 L514.5,1461.0 L516.5,1460.9 L518.5,1460.9 L520.5,1460.9 L522.5,1460.9 L524.5,1460.9 L526.5,1460.9 L528.5,1460.9 L530.5,1460.9 L532.5,1460.8 L534.5,1460.8 L536.5,1460.8 L538.5,1460.8 L540.5,1460.8 L542.5,1460.7 L544.5,1460.7 L546.5,1460.7 L548.5,1460.7 L550.5,1460.6 L552.5,1460.6 L554.5,1460.6 L556.5,1460.6 L558.5,1460.5 L560.5,1460.5 L562.5,1460.5 L564.5,1460.4 L566.5,1460.4 L568.5,1460.4 L570.5,1460.3 L572.5,1460.3 L574.5,1460.3 L576.5,1460.2 L578.5,1460.2 L580.5,1460.2 L582.5,1460.1 L584.5,1460.1 L586.5,1460.0 L588.5,1460.0 L590.5,1460.0 L592.5,1459.9 L594.5,1459.9 L596.5,1459.8 L598.5,1459.8 L600.5,1459.7 L602.5,1459.7 L604.5,1459.6 L606.5,1459.6 L608.5,1459.6 L610.5,1459.5 L612.5,1459.5 L614.5,1459.4 L616.5,1459.4 L618.5,1459.3 L620.5,1459.2 L622.5,1459.2 L624.5,1459.1 L626.5,1459.1 L628.5,1459.0 L630.5,1459.0 L632.5,1458.9 L634.5,1458.9 L636.5,1458.8 L638.5,1458.8 L640.5,1458.7 L642.5,1458.6 L644.5,1458.6 L646.5,1458.5 L648.5,1458.5 L650.5,1458.4 L652.5,1458.3 L654.5,1458.3 L656.5,1458.2 L658.5,1458.2 L660.5,1458.1 L662.5,1458.0 L664.5,1458.0 L666.5,1457.9 L668.5,1457.8 L670.5,1457.8 L672.5,1457.7 L674.5,1457.6 L676.5,1457.6 L678.5,1457.5 L680.5,1457.4 L682.5,1457.4 L684.5,1457.3 L686.5,1457.2 L688.5,1457.2 L690.5,1457.1 L692.5,1457.0 L694.5,1457.0 L696.5,1456.9 L698.5,1456.8 L700.5,1456.8 L702.5,1456.7 L704.5,1456.6 L706.5,1456.6 L708.5,1456.5 L710.5,1456.4 L712.5,1456.3 L714.5,1456.3 L716.5,1456.2 L718.5,1456.1 L720.5,1456.1 L722.5,1456.0 L724.5,1455.9 L726.5,1455.8 L728.5,1455.8 L730.5,1455.7 L732.5,1455.6 L734.5,1455.6 L736.5,1455.5 L738.5,1455.4 L740.5,1455.3 L742.5,1455.3 L744.5,1455.2 L746.5,1455.1 L748.5,1455.0 L750.5,1455.0 L752.5,1454.9 L754.5,1454.8 L756.5,1454.8 L758.5,1454.7 L760.5,1454.6 L762.5,1454.5 L764.5,1454.5 L766.5,1454.4 L768.5,1454.3 L770.5,1454.2 L772.5,1454.2 L774.5,1454.1 L776.5,1454.0 L778.5,1454.0 L780.5,1453.9 L782.5,1453.8 L784.5,1453.7 L786.5,1453.7 L788.5,1453.6 L790.5,1453.5 L792.5,1453.4 L794.5,1453.4 L796.5,1453.3 L798.5,1453.2 L800.5,1453.2 L802.5,1453.1 L804.5,1453.0 L806.5,1452.9 L808.5,1452.9 L810.5,1452.8 L812.5,1452.7 L814.5,1452.6 L816.5,1452.6 L818.5,1452.5 L820.5,1452.4 L822.5,1452.3 L824.5,1452.2 L826.5,1452.2 L828.5,1452.1 L830.5,1452.0 L832.5,1451.9 L834.5,1451.8 L836.5,1451.7 L838.5,1451.6 L840.5,1451.5 L842.5,1451.4 L844.5,1451.3 L846.5,1451.2 L848.5,1451.0 L850.5,1450.9 L852.5,1450.8 L854.5,1450.6 L856.5,1450.5 L858.5,1450.4 L860.5,1450.2 L862.5,1450.1 L864.5,1449.9 L866.5,1449.8 L868.5,1449.6 L870.5,1449.4 L872.5,1449.2 L874.5,1449.1 L876.5,1448.9 L878.5,1448.7 L880.5,1448.5 L882.5,1448.3 L884.5,1448.1 L886.5,1447.9 L888.5,1447.7 L890.5,1447.5 L892.5,1447.3 L894.5,1447.0 L896.5,1446.8 L898.5,1446.6 L900.5,1446.3 L902.5,1446.1 L904.5,1445.9 L906.5,1445.6 L908.5,1445.4 L910.5,1445.1 L912.5,1444.8 L914.5,1444.6 L916.5,1444.3 L918.5,1444.0 L920.5,1443.8 L922.5,1443.5 L924.5,1443.2 L926.5,1442.9 L928.5,1442.6 L930.5,1442.3 L932.5,1442.0 L934.5,1441.7 L936.5,1441.4 L938.5,1441.1 L940.5,1440.8 L942.5,1440.5 L944.5,1440.1 L946.5,1439.8 L948.5,1439.5 L950.5,1439.2 L952.5,1438.8 L954.5,1438.5 L956.5,1438.1 L958.5,1437.8 L960.5,1437.4 L962.5,1437.1 L964.5,1436.7 L966.5,1436.4 L968.5,1436.0 L970.5,1435.6 L972.5,1435.3 L974.5,1434.9 L976.5,1434.5 L978.5,1434.1 L980.5,1433.8 L982.5,1433.4 L984.5,1433.0 L986.5,1432.6 L988.5,1432.2 L990.5,1431.8 L992.5,1431.4 L994.5,1430.9 L996.5,1430.5 L998.5,1430.1 L1000.5,1429.6 L1002.5,1429.2 L1004.5,1428.7 L1006.5,1428.2 L1008.5,1427.7 L1010.5,1427.2 L1012.5,1426.6 L1014.5,1426.1 L1016.5,1425.5 L1018.5,1424.9 L1020.5,1424.3 L1022.5,1423.7 L1024.5,1423.1 L1026.5,1422.4 L1028.5,1421.8 L1030.5,1421.1 L1032.5,1420.4 L1034.5,1419.6 L1036.5,1418.9 L1038.5,1418.1 L1040.5,1417.3 L1042.5,1416.5 L1044.5,1415.7 L1046.5,1414.9 L1048.5,1414.0 L1050.5,1413.2 L1052.5,1412.3 L1054.5,1411.4 L1056.5,1410.5 L1058.5,1409.6 L1060.5,1408.6 L1062.5,1407.7 L1064.5,1406.7 L1066.5,1405.7 L1068.5,1404.7 L1070.5,1403.7 L1072.5,1402.7 L1074.5,1401.7 L1076.5,1400.6 L1078.5,1399.6 L1080.5,1398.5 L1082.5,1397.5 L1084.5,1396.4 L1086.5,1395.3 L1088.5,1394.2 L1090.5,1393.1 L1092.5,1392.0 L1094.5,1390.8 L1096.5,1389.6 L1098.5,1388.5 L1100.5,1387.2 L1102.5,1386.0 L1104.5,1384.7 L1106.5,1383.4 L1108.5,1382.1 L1110.5,1380.8 L1112.5,1379.4 L1114.5,1377.9 L1116.5,1376.5 L1118.5,1375.0 L1120.5,1373.4 L1122.5,1371.8 L1124.5,1370.2 L1126.5,1368.6 L1128.5,1366.9 L1130.5,1365.2 L1132.5,1363.5 L1134.5,1361.8 L1136.5,1360.0 L1138.5,1358.2 L1140.5,1356.3 L1142.5,1354.5 L1144.5,1352.6 L1146.5,1350.7 L1148.5,1348.8 L1150.5,1346.8 L1152.5,1344.8 L1154.5,1342.8 L1156.5,1340.7 L1158.5,1338.7 L1160.5,1336.5 L1162.5,1334.4 L1164.5,1332.2 L1166.5,1330.0 L1168.5,1327.8 L1170.5,1325.5 L1172.5,1323.2 L1174.5,1320.9 L1176.5,1318.6 L1178.5,1316.3 L1180.5,1313.9 L1182.5,1311.6 L1184.5,1309.2 L1186.5,1306.9 L1188.5,1304.5 L1190.5,1302.1 L1192.5,1299.7 L1194.5,1297.3 L1196.5,1294.9 L1198.5,1292.5 L1200.5,1290.1 L1202.5,1287.7 L1204.5,1285.3 L1206.5,1282.9 L1208.5,1280.5 L1210.5,1278.1 L1212.5,1275.7 L1214.5,1273.2 L1216.5,1270.8 L1218.5,1268.4 L1220.5,1265.9 L1222.5,1263.5 L1224.5,1261.0 L1226.5,1258.6 L1228.5,1256.2 L1230.5,1253.7 L1232.5,1251.3 L1234.5,1249.0 L1236.5,1246.6 L1238.5,1244.2 L1240.5,1241.9 L1242.5,1239.6 L1244.5,1237.4 L1246.5,1235.2 L1248.5,1233.0 L1250.5,1230.8 L1252.5,1228.7 L1254.5,1226.6 L1256.5,1224.5 L1258.5,1222.4 L1260.5,1220.4 L1262.5,1218.4 L1264.5,1216.5 L1266.5,1214.5 L1268.5,1212.6 L1270.5,1210.8 L1272.5,1208.9 L1274.5,1207.2 L1276.5,1205.4 L1278.5,1203.7 L1280.5,1202.1 L1282.5,1200.5 L1284.5,1199.0 L1286.5,1197.6 L1288.5,1196.2 L1290.5,1194.9 L1292.5,1193.7 L1294.5,1192.5 L1296.5,1191.4 L1298.5,1190.4 L1300.5,1189.5 L1302.5,1188.6 L1304.5,1187.8 L1306.5,1187.1 L1308.5,1186.5 L1310.5,1186.0 L1312.5,1185.5 L1314.5,1185.1 L1316.5,1184.8 L1318.5,1184.5 L1320.5,1184.4 L1322.5,1184.3 L1324.5,1184.2 L1326.5,1184.2 L1328.5,1184.3 L1330.5,1184.5 L1332.5,1184.7 L1334.5,1184.9 L1336.5,1185.2 L1338.5,1185.6 L1340.5,1186.0 L1342.5,1186.5 L1344.5,1187.0 L1346.5,1187.5 L1348.5,1188.1 L1350.5,1188.8 L1352.5,1189.5 L1354.5,1190.2 L1356.5,1191.0 L1358.5,1191.8 L1360.5,1192.7 L1362.5,1193.6 L1364.5,1194.6 L1366.5,1195.6 L1368.5,1196.7 L1370.5,1197.9 L1372.5,1199.1 L1374.5,1200.3 L1376.5,1201.6 L1378.5,1203.0 L1380.5,1204.4 L1382.5,1205.9 L1384.5,1207.4 L1386.5,1208.9 L1388.5,1210.5 L1390.5,1212.2 L1392.5,1213.9 L1394.5,1215.7 L1396.5,1217.5 L1398.5,1219.3 L1400.5,1221.2 L1402.5,1223.1 L1404.5,1225.1 L1406.5,1227.0 L1408.5,1229.0 L1410.5,1231.1 L1412.5,1233.2 L1414.5,1235.2 L1416.5,1237.4 L1418.5,1239.5 L1420.5,1241.7 L1422.5,1243.8 L1424.5,1246.0 L1426.5,1248.2 L1428.5,1250.4 L1430.5,1252.7 L1432.5,1254.9 L1434.5,1257.2 L1436.5,1259.4 L1438.5,1261.7 L1440.5,1264.0 L1442.5,1266.2 L1444.5,1268.5 L1446.5,1270.8 L1448.5,1273.1 L1450.5,1275.3 L1452.5,1277.6 L1454.5,1279.9 L1456.5,1282.2 L1458.5,1284.4 L1460.5,1286.7 L1462.5,1288.9 L1464.5,1291.2 L1466.5,1293.4 L1468.5,1295.7 L1470.5,1297.9 L1472.5,1300.1 L1474.5,1302.3 L1476.5,1304.5 L1478.5,1306.7 L1480.5,1308.9 L1482.5,1311.1 L1484.5,1313.3 L1486.5,1315.5 L1488.5,1317.7 L1490.5,1319.8 L1492.5,1322.0 L1494.5,1324.1 L1496.5,1326.3 L1498.5,1328.4 L1500.5,1330.6 L1502.5,1332.7 L1504.5,1334.8 L1506.5,1337.0 L1508.5,1339.1 L1510.5,1341.2 L1512.5,1343.4 L1514.5,1345.5 L1516.5,1347.7 L1518.5,1349.8 L1520.5,1351.9 L1522.5,1354.1 L1524.5,1356.2 L1526.5,1358.4 L1528.5,1360.5 L1530.5,1362.6 L1532.5,1364.8 L1534.5,1366.9 L1536.5,1369.0 L1538.5,1371.1 L1540.5,1373.2 L1542.5,1375.3 L1544.5,1377.4 L1546.5,1379.5 L1548.5,1381.6 L1550.5,1383.6 L1552.5,1385.7 L1554.5,1387.7 L1556.5,1389.7 L1558.5,1391.7 L1560.5,1393.7 L1562.5,1395.7 L1564.5,1397.6 L1566.5,1399.5 L1568.5,1401.4 L1570.5,1403.3 L1572.5,1405.2 L1574.5,1407.0 L1576.5,1408.8 L1578.5,1410.6 L1580.5,1412.4 L1582.5,1414.2 L1584.5,1415.9 L1586.5,1417.6 L1588.5,1419.3 L1590.5,1420.9 L1592.5,1422.5 L1594.5,1424.1 L1596.5,1425.6 L1598.5,1427.2 L1600.5,1428.6 L1602.5,1430.1 L1604.5,1431.5 L1606.5,1432.9 L1608.5,1434.3 L1610.5,1435.6 L1612.5,1436.9 L1614.5,1438.1 L1616.5,1439.4 L1618.5,1440.6 L1620.5,1441.7 L1622.5,1442.9 L1624.5,1444.0 L1626.5,1445.0 L1628.5,1446.1 L1630.5,1447.1 L1632.5,1448.0 L1634.5,1449.0 L1636.5,1449.9 L1638.5,1450.8 L1640.5,1451.6 L1642.5,1452.4 L1644.5,1453.2 L1646.5,1454.0 L1648.5,1454.7 L1650.5,1455.4 L1652.5,1456.1 L1654.5,1456.7 L1656.5,1457.4 L1658.5,1458.0 L1660.5,1458.5 L1662.5,1459.1 L1664.5,1459.7 L1666.5,1460.2 L1668.5,1460.7 L1670.5,1461.2 L1672.5,1461.7 L1674.5,1462.1 L1676.5,1462.6 L1678.5,1463.0 L1680.5,1463.4 L1682.5,1463.9 L1684.5,1464.3 L1686.5,1464.7 L1688.5,1465.0 L1690.5,1465.4 L1692.5,1465.8 L1694.5,1466.1 L1696.5,1466.5 L1698.5,1466.8 L1700.5,1467.1 L1702.5,1467.4 L1704.5,1467.7 L1706.5,1468.0 L1708.5,1468.3 L1710.5,1468.6 L1712.5,1468.8 L1714.5,1469.1 L1716.5,1469.3 L1718.5,1469.6 L1720.5,1469.8 L1722.5,1470.0 L1724.5,1470.2 L1726.5,1470.4 L1728.5,1470.6 L1730.5,1470.7 L1732.5,1470.9 L1734.5,1471.1 L1736.5,1471.2 L1738.5,1471.3 L1740.5,1471.5 L1742.5,1471.6 L1744.5,1471.7 L1746.5,1471.8 L1748.5,1471.9 L1750.5,1472.0 L1752.5,1472.1 L1754.5,1472.2 L1756.5,1472.3 L1758.5,1472.3 L1760.5,1472.4 L1762.5,1472.4 L1764.5,1472.5 L1766.5,1472.5 L1768.5,1472.6 L1770.5,1472.6 L1772.5,1472.7 L1774.5,1472.7 L1776.5,1472.7 L1778.5,1472.8 L1780.5,1472.8 L1782.5,1472.8 L1784.5,1472.8 L1786.5,1472.8 L1788.5,1472.9 L1790.5,1472.9 L1792.5,1472.9 L1794.5,1472.9 L1796.5,1472.9 L1798.5,1472.9 L1800.5,1472.9 L1802.5,1472.9 L1804.5,1472.9 L1806.5,1472.9 L1808.5,1472.9 L1810.5,1473.0 L1812.5,1473.0 L1814.5,1473.0 L1816.5,1473.0 L1818.5,1473.0 L1820.5,1473.0 L1822.5,1473.0 L1824.5,1473.0 L1826.5,1473.0 L1828.5,1473.0 L1830.5,1473.0 L1832.5,1473.0 L1834.5,1473.0 L1836.5,1473.0 L1838.5,1473.0 L1840.5,1473.0 L1842.5,1473.0 L1844.5,1473.0 L1846.5,1473.0 L1848.5,1473.0 L1850.5,1473.0 L1852.5,1473.0 L1854.5,1473.0 L1856.5,1473.0 L1858.5,1473.0 L1860.5,1473.0 L1862.5,1473.0 L1864.5,1473.0 L1866.5,1473.0 L1868.5,1473.0 L1870.5,1473.0 L1872.5,1473.0 L1874.5,1473.0 L1876.5,1473.0 L1878.5,1473.0 L1880.5,1473.0 L1882.5,1473.0 L1884.5,1473.0 L1886.5,1473.0 L1888.5,1473.0 L1890.5,1473.0 L1892.5,1473.0 L1894.5,1473.0 L1896.5,1473.0 L1898.5,1473.0" stroke="#808080" stroke-width="14" />
<path d="M132.5,1461.0 L134.5,1461.0 L136.5,1461.0 L138.5,1461.0 L140.5,1461.0 L142.5,1461.0 L144.5,1461.0 L146.5,1461.0 L148.5,1461.0 L150.5,1461.0 L152.5,1461.0 L154.5,1461.0 L156.5,1461.0 L158.5,1461.0 L160.5,1461.0 L162.5,1461.0 L164.5,1461.0 L166.5,1461.0 L168.5,1461.0 L170.5,1461.0 L172.5,1461.0 L174.5,1461.0 L176.5,1461.0 L178.5,1461.0 L180.5,1461.0 L182.5,1461.0 L184.5,1461.0 L186.5,1461.0 L188.5,1461.0 L190.5,1461.0 L192.5,1461.0 L194.5,1461.0 L196.5,1461.0 L198.5,1461.0 L200.5,1461.0 L202.5,1461.0 L204.5,1461.0 L206.5,1461.0 L208.5,1461.0 L210.5,1461.0 L212.5,1461.0 L214.5,1461.0 L216.5,1461.0 L218.5,1461.0 L220.5,1461.0 L222.5,1461.0 L224.5,1461.0 L226.5,1461.0 L228.5,1461.0 L230.5,1461.0 L232.5,1461.0 L234.5,1461.0 L236.5,1461.0 L238.5,1461.0 L240.5,1461.0 L242.5,1461.0 L244.5,1461.0 L246.5,1461.0 L248.5,1461.0 L250.5,1461.0 L252.5,1461.0 L254.5,1461.0 L256.5,1461.0 L258.5,1461.0 L260.5,1461.0 L262.5,1461.0 L264.5,1461.0 L266.5,1461.0 L268.5,1461.0 L270.5,1461.0 L272.5,1461.0 L274.5,1461.0 L276.5,1461.0 L278.5,1461.0 L280.5,1461.0 L282.5,1461.0 L284.5,1461.0 L286.5,1461.0 L288.5,1461.0 L290.5,1461.0 L292.5,1461.0 L294.5,1461.0 L296.5,1461.0 L298.5,1461.0 L300.5,1461.0 L302.5,1461.0 L304.5,1461.0 L306.5,1461.0 L308.5,1461.0 L310.5,1461.0 L312.5,1461.0 L314.5,1461.0 L316.5,1461.0 L318.5,1461.0 L320.5,1461.0 L322.5,1461.0 L324.5,1461.0 L326.5,1461.0 L328.5,1461.0 L330.5,1461.0 L332.5,1461.0 L334.5,1461.0 L336.5,1461.0 L338.5,1461.0 L340.5,1461.0 L342.5,1461.0 L344.5,1461.0 L346.5,1461.0 L348.5,1461.0 L350.5,1461.0 L352.5,1461.0 L354.5,1461.0 L356.5,1461.0 L358.5,1461.0 L360.5,1461.0 L362.5,1461.0 L364.5,1461.0 L366.5,1461.0 L368.5,1461.0 L370.5,1461.0 L372.5,1461.0 L374.5,1461.0 L376.5,1461.0 L378.5,1461.0 L380.5,1461.0 L382.5,1461.0 L384.5,1461.0 L386.5,1461.0 L388.5,1461.0 L390.5,1461.0 L392.5,1461.0 L394.5,1461.0 L396.5,1461.0 L398.5,1461.0 L400.5,1461.0 L402.5,1461.0 L404.5,1461.0 L406.5,1461.0 L408.5,1461.0 L410.5,1461.0 L412.5,1461.0 L414.5,1461.0 L416.5,1461.0 L418.5,1461.0 L420.5,1461.0 L422.5,1461.0 L424.5,1461.0 L426.5,1461.0 L428.5,1461.0 L430.5,1461.0 L432.5,1461.0 L434.5,1461.0 L436.5,1461.0 L438.5,1461.0 L440.5,1461.0 L442.5,1461.0 L444.5,1461.0 L446.5,1461.0 L448.5,1461.0 L450.5,1461.0 L452.5,1461.0 L454.5,1461.0 L456.5,1461.0 L458.5,1461.0 L460.5,1461.0 L462.5,1461.0 L464.5,1461.0 L466.5,1461.0 L468.5,1461.0 L470.5,1461.0 L472.5,1461.0 L474.5,1461.0 L476.5,1461.0 L478.5,1461.0 L480.5,1461.0 L482.5,1461.0 L484.5,1461.0 L486.5,1461.0 L488.5,1461.0 L490.5,1461.0 L492.5,1461.0 L494.5,1461.0 L496.5,1461.0 L498.5,1461.0 L500.5,1461.0 L502.5,1461.0 L504.5,1461.0 L506.5,1461.0 L508.5,1461.0 L510.5,1461.0 L512.5,1461.0 L514.5,1461.0 L516.5,1460.9 L518.5,1460.9 L520.5,1460.9 L522.5,1460.9 L524.5,1460.9 L526.5,1460.9 L528.5,1460.9 L530.5,1460.9 L532.5,1460.8 L534.5,1460.8 L536.5,1460.8 L538.5,1460.8 L540.5,1460.8 L542.5,1460.7 L544.5,1460.7 L546.5,1460.7 L548.5,1460.7 L550.5,1460.6 L552.5,1460.6 L554.5,1460.6 L556.5,1460.6 L558.5,1460.5 L560.5,1460.5 L562.5,1460.5 L564.5,1460.4 L566.5,1460.4 L568.5,1460.4 L570.5,1460.3 L572.5,1460.3 L574.5,1460.3 L576.5,1460.2 L578.5,1460.2 L580.5,1460.2 L582.5,1460.1 L584.5,1460.1 L586.5,1460.0 L588.5,1460.0 L590.5,1460.0 L592.5,1459.9 L594.5,1459.9 L596.5,1459.8 L598.5,1459.8 L600.5,1459.7 L602.5,1459.7 L604.5,1459.6 L606.5,1459.6 L608.5,1459.6 L610.5,1459.5 L612.5,1459.5 L614.5,1459.4 L616.5,1459.4 L618.5,1459.3 L620.5,1459.2 L622.5,1459.2 L624.5,1459.1 L626.5,1459.1 L628.5,1459.0 L630.5,1459.0 L632.5,1458.9 L634.5,1458.9 L636.5,1458.8 L638.5,1458.8 L640.5,1458.7 L642.5,1458.6 L644.5,1458.6 L646.5,1458.5 L648.5,1458.5 L650.5,1458.4 L652.5,1458.3 L654.5,1458.3 L656.5,1458.2 L658.5,1458.2 L660.5,1458.1 L662.5,1458.0 L664.5,1458.0 L666.5,1457.9 L668.5,1457.8 L670.5,1457.8 L672.5,1457.7 L674.5,1457.6 L676.5,1457.6 L678.5,1457.5 L680.5,1457.4 L682.5,1457.4 L684.5,1457.3 L686.5,1457.2 L688.5,1457.2 L690.5,1457.1 L692.5,1457.0 L694.5,1457.0 L696.5,1456.9 L698.5,1456.8 L700.5,1456.8 L702.5,1456.7 L704.5,1456.6 L706.5,1456.6 L708.5,1456.5 L710.5,1456.4 L712.5,1456.3 L714.5,1456.3 L716.5,1456.2 L718.5,1456.1 L720.5,1456.1 L722.5,1456.0 L724.5,1455.9 L726.5,1455.8 L728.5,1455.8 L730.5,1455.7 L732.5,1455.6 L734.5,1455.6 L736.5,1455.5 L738.5,1455.4 L740.5,1455.3 L742.5,1455.3 L744.5,1455.2 L746.5,1455.1 L748.5,1455.0 L750.5,1455.0 L752.5,1454.9 L754.5,1454.8 L756.5,1454.8 L758.5,1454.7 L760.5,1454.6 L762.5,1454.5 L764.5,1454.5 L766.5,1454.4 L768.5,1454.3 L770.5,1454.2 L772.5,1454.2 L774.5,1454.1 L776.5,1454.0 L778.5,1454.0 L780.5,1453.9 L782.5,1453.8 L784.5,1453.7 L786.5,1453.7 L788.5,1453.6 L790.5,1453.5 L792.5,1453.4 L794.5,1453.4 L796.5,1453.3 L798.5,1453.2 L800.5,1453.2 L802.5,1453.1 L804.5,1453.0 L806.5,1452.9 L808.5,1452.9 L810.5,1452.8 L812.5,1452.7 L814.5,1452.6 L816.5,1452.6 L818.5,1452.5 L820.5,1452.4 L822.5,1452.3 L824.5,1452.2 L826.5,1452.2 L828.5,1452.1 L830.5,1452.0 L832.5,1451.9 L834.5,1451.8 L836.5,1451.7 L838.5,1451.6 L840.5,1451.5 L842.5,1451.4 L844.5,1451.3 L846.5,1451.2 L848.5,1451.0 L850.5,1450.9 L852.5,1450.8 L854.5,1450.7 L856.5,1450.5 L858.5,1450.4 L860.5,1450.2 L862.5,1450.1 L864.5,1449.9 L866.5,1449.8 L868.5,1449.6 L870.5,1449.4 L872.5,1449.3 L874.5,1449.1 L876.5,1448.9 L878.5,1448.7 L880.5,1448.5 L882.5,1448.3 L884.5,1448.1 L886.5,1447.9 L888.5,1447.7 L890.5,1447.5 L892.5,1447.3 L894.5,1447.1 L896.5,1446.8 L898.5,1446.6 L900.5,1446.4 L902.5,1446.1 L904.5,1445.9 L906.5,1445.7 L908.5,1445.4 L910.5,1445.2 L912.5,1444.9 L914.5,1444.7 L916.5,1444.4 L918.5,1444.1 L920.5,1443.9 L922.5,1443.6 L924.5,1443.3 L926.5,1443.0 L928.5,1442.8 L930.5,1442.5 L932.5,1442.2 L934.5,1441.9 L936.5,1441.6 L938.5,1441.3 L940.5,1441.0 L942.5,1440.7 L944.5,1440.4 L946.5,1440.1 L948.5,1439.8 L950.5,1439.5 L952.5,1439.1 L954.5,1438.8 L956.5,1438.5 L958.5,1438.2 L960.5,1437.9 L962.5,1437.5 L964.5,1437.2 L966.5,1436.9 L968.5,1436.5 L970.5,1436.2 L972.5,1435.9 L974.5,1435.5 L976.5,1435.2 L978.5,1434.8 L980.5,1434.5 L982.5,1434.1 L984.5,1433.8 L986.5,1433.4 L988.5,1433.1 L990.5,1432.7 L992.5,1432.3 L994.5,1432.0 L996.5,1431.6 L998.5,1431.2 L1000.5,1430.8 L1002.5,1430.4 L1004.5,1430.0 L1006.5,1429.6 L1008.5,1429.2 L1010.5,1428.8 L1012.5,1428.3 L1014.5,1427.9 L1016.5,1427.4 L1018.5,1426.9 L1020.5,1426.5 L1022.5,1426.0 L1024.5,1425.5 L1026.5,1425.0 L1028.5,1424.4 L1030.5,1423.9 L1032.5,1423.4 L1034.5,1422.8 L1036.5,1422.3 L1038.5,1421.7 L1040.5,1421.2 L1042.5,1420.6 L1044.5,1420.1 L1046.5,1419.5 L1048.5,1418.9 L1050.5,1418.3 L1052.5,1417.7 L1054.5,1417.1 L1056.5,1416.5 L1058.5,1416.0 L1060.5,1415.4 L1062.5,1414.8 L1064.5,1414.2 L1066.5,1413.6 L1068.5,1413.0 L1070.5,1412.4 L1072.5,1411.8 L1074.5,1411.2 L1076.5,1410.6 L1078.5,1410.0 L1080.5,1409.4 L1082.5,1408.8 L1084.5,1408.2 L1086.5,1407.6 L1088.5,1407.0 L1090.5,1406.5 L1092.5,1405.9 L1094.5,1405.3 L1096.5,1404.7 L1098.5,1404.1 L1100.5,1403.6 L1102.5,1403.0 L1104.5,1402.4 L1106.5,1401.8 L1108.5,1401.2 L1110.5,1400.6 L1112.5,1400.0 L1114.5,1399.4 L1116.5,1398.8 L1118.5,1398.2 L1120.5,1397.6 L1122.5,1397.0 L1124.5,1396.4 L1126.5,1395.9 L1128.5,1395.3 L1130.5,1394.7 L1132.5,1394.2 L1134.5,1393.7 L1136.5,1393.2 L1138.5,1392.7 L1140.5,1392.2 L1142.5,1391.7 L1144.5,1391.3 L1146.5,1390.9 L1148.5,1390.5 L1150.5,1390.1 L1152.5,1389.7 L1154.5,1389.4 L1156.5,1389.0 L1158.5,1388.7 L1160.5,1388.4 L1162.5,1388.1 L1164.5,1387.8 L1166.5,1387.5 L1168.5,1387.3 L1170.5,1387.0 L1172.5,1386.8 L1174.5,1386.6 L1176.5,1386.5 L1178.5,1386.3 L1180.5,1386.2 L1182.5,1386.1 L1184.5,1386.1 L1186.5,1386.1 L1188.5,1386.1 L1190.5,1386.1 L1192.5,1386.2 L1194.5,1386.3 L1196.5,1386.5 L1198.5,1386.6 L1200.5,1386.8 L1202.5,1387.1 L1204.5,1387.3 L1206.5,1387.6 L1208.5,1387.9 L1210.5,1388.2 L1212.5,1388.6 L1214.5,1388.9 L1216.5,1389.3 L1218.5,1389.7 L1220.5,1390.1 L1222.5,1390.5 L1224.5,1391.0 L1226.5,1391.4 L1228.5,1391.9 L1230.5,1392.4 L1232.5,1392.9 L1234.5,1393.5 L1236.5,1394.1 L1238.5,1394.7 L1240.5,1395.3 L1242.5,1396.0 L1244.5,1396.7 L1246.5,1397.4 L1248.5,1398.1 L1250.5,1398.8 L1252.5,1399.6 L1254.5,1400.4 L1256.5,1401.2 L1258.5,1402.0 L1260.5,1402.8 L1262.5,1403.6 L1264.5,1404.4 L1266.5,1405.3 L1268.5,1406.1 L1270.5,1406.9 L1272.5,1407.7 L1274.5,1408.5 L1276.5,1409.3 L1278.5,1410.1 L1280.5,1411.0 L1282.5,1411.8 L1284.5,1412.6 L1286.5,1413.4 L1288.5,1414.3 L1290.5,1415.1 L1292.5,1415.9 L1294.5,1416.8 L1296.5,1417.6 L1298.5,1418.5 L1300.5,1419.3 L1302.5,1420.2 L1304.5,1421.0 L1306.5,1421.9 L1308.5,1422.7 L1310.5,1423.5 L1312.5,1424.4 L1314.5,1425.2 L1316.5,1426.0 L1318.5,1426.9 L1320.5,1427.7 L1322.5,1428.4 L1324.5,1429.2 L1326.5,1430.0 L1328.5,1430.8 L1330.5,1431.5 L1332.5,1432.2 L1334.5,1432.9 L1336.5,1433.6 L1338.5,1434.3 L1340.5,1434.9 L1342.5,1435.6 L1344.5,1436.2 L1346.5,1436.8 L1348.5,1437.4 L1350.5,1437.9 L1352.5,1438.5 L1354.5,1439.0 L1356.5,1439.5 L1358.5,1440.0 L1360.5,1440.5 L1362.5,1441.0 L1364.5,1441.5 L1366.5,1442.0 L1368.5,1442.4 L1370.5,1442.9 L1372.5,1443.3 L1374.5,1443.8 L1376.5,1444.2 L1378.5,1444.6 L1380.5,1445.0 L1382.5,1445.5 L1384.5,1445.9 L1386.5,1446.3 L1388.5,1446.6 L1390.5,1447.0 L1392.5,1447.4 L1394.5,1447.8 L1396.5,1448.2 L1398.5,1448.5 L1400.5,1448.9 L1402.5,1449.2 L1404.5,1449.6 L1406.5,1449.9 L1408.5,1450.3 L1410.5,1450.6 L1412.5,1451.0 L1414.5,1451.3 L1416.5,1451.6 L1418.5,1451.9 L1420.5,1452.3 L1422.5,1452.6 L1424.5,1452.9 L1426.5,1453.2 L1428.5,1453.5 L1430.5,1453.8 L1432.5,1454.1 L1434.5,1454.4 L1436.5,1454.7 L1438.5,1455.0 L1440.5,1455.3 L1442.5,1455.6 L1444.5,1455.9 L1446.5,1456.2 L1448.5,1456.5 L1450.5,1456.8 L1452.5,1457.0 L1454.5,1457.3 L1456.5,1457.6 L1458.5,1457.8 L1460.5,1458.1 L1462.5,1458.4 L1464.5,1458.6 L1466.5,1458.9 L1468.5,1459.1 L1470.5,1459.4 L1472.5,1459.6 L1474.5,1459.9 L1476.5,1460.1 L1478.5,1460.3 L1480.5,1460.5 L1482.5,1460.8 L1484.5,1461.0 L1486.5,1461.2 L1488.5,1461.4 L1490.5,1461.6 L1492.5,1461.8 L1494.5,1462.0 L1496.5,1462.1 L1498.5,1462.3 L1500.5,1462.5 L1502.5,1462.7 L1504.5,1462.8 L1506.5,1463.0 L1508.5,1463.2 L1510.5,1463.3 L1512.5,1463.5 L1514.5,1463.7 L1516.5,1463.8 L1518.5,1464.0 L1520.5,1464.1 L1522.5,1464.3 L1524.5,1464.4 L1526.5,1464.6 L1528.5,1464.7 L1530.5,1464.9 L1532.5,1465.0 L1534.5,1465.2 L1536.5,1465.3 L1538.5,1465.4 L1540.5,1465.6 L1542.5,1465.7 L1544.5,1465.9 L1546.5,1466.0 L1548.5,1466.1 L1550.5,1466.3 L1552.5,1466.4 L1554.5,1466.5 L1556.5,1466.6 L1558.5,1466.8 L1560.5,1466.9 L1562.5,1467.0 L1564.5,1467.1 L1566.5,1467.2 L1568.5,1467.4 L1570.5,1467.5 L1572.5,1467.6 L1574.5,1467.7 L1576.5,1467.8 L1578.5,1467.9 L1580.5,1468.0 L1582.5,1468.1 L1584.5,1468.2 L1586.5,1468.3 L1588.5,1468.4 L1590.5,1468.5 L1592.5,1468.6 L1594.5,1468.7 L1596.5,1468.8 L1598.5,1468.9 L1600.5,1469.0 L1602.5,1469.1 L1604.5,1469.2 L1606.5,1469.3 L1608.5,1469.4 L1610.5,1469.4 L1612.5,1469.5 L1614.5,1469.6 L1616.5,1469.7 L1618.5,1469.7 L1620.5,1469.8 L1622.5,1469.9 L1624.5,1470.0 L1626.5,1470.0 L1628.5,1470.1 L1630.5,1470.2 L1632.5,1470.3 L1634.5,1470.3 L1636.5,1470.4 L1638.5,1470.5 L1640.5,1470.5 L1642.5,1470.6 L1644.5,1470.7 L1646.5,1470.7 L1648.5,1470.8 L1650.5,1470.9 L1652.5,1470.9 L1654.5,1471.0 L1656.5,1471.1 L1658.5,1471.1 L1660.5,1471.2 L1662.5,1471.3 L1664.5,1471.3 L1666.5,1471.4 L1668.5,1471.5 L1670.5,1471.5 L1672.5,1471.6 L1674.5,1471.6 L1676.5,1471.7 L1678.5,1471.8 L1680.5,1471.8 L1682.5,1471.9 L1684.5,1471.9 L1686.5,1472.0 L1688.5,1472.0 L1690.5,1472.1 L1692.5,1472.2 L1694.5,1472.2 L1696.5,1472.3 L1698.5,1472.3 L1700.5,1472.4 L1702.5,1472.4 L1704.5,1472.4 L1706.5,1472.5 L1708.5,1472.5 L1710.5,1472.6 L1712.5,1472.6 L1714.5,1472.6 L1716.5,1472.7 L1718.5,1472.7 L1720.5,1472.7 L1722.5,1472.8 L1724.5,1472.8 L1726.5,1472.8 L1728.5,1472.8 L1730.5,1472.9 L1732.5,1472.9 L1734.5,1472.9 L1736.5,1472.9 L1738.5,1472.9 L1740.5,1472.9 L1742.5,1473.0 L1744.5,1473.0 L1746.5,1473.0 L1748.5,1473.0 L1750.5,1473.0 L1752.5,1473.0 L1754.5,1473.0 L1756.5,1473.0 L1758.5,1473.0 L1760.5,1473.0 L1762.5,1473.0 L1764.5,1473.0 L1766.5,1473.0 L1768.5,1473.0 L1770.5,1473.0 L1772.5,1473.0 L1774.5,1473.0 L1776.5,1473.0 L1778.5,1473.0 L1780.5,1473.0 L1782.5,1473.0 L1784.5,1473.0 L1786.5,1473.0 L1788.5,1473.0 L1790.5,1473.0 L1792.5,1473.0 L1794.5,1473.0 L1796.5,1473.0 L1798.5,1473.0 L1800.5,1473.0 L1802.5,1473.0 L1804.5,1473.0 L1806.5,1473.0 L1808.5,1473.0 L1810.5,1473.0 L1812.5,1473.0 L1814.5,1473.0 L1816.5,1473.0 L1818.5,1473.0 L1820.5,1473.0 L1822.5,1473.0 L1824.5,1473.0 L1826.5,1473.0 L1828.5,1473.0 L1830.5,1473.0 L1832.5,1473.0 L1834.5,1473.0 L1836.5,1473.0 L1838.5,1473.0 L1840.5,1473.0 L1842.5,1473.0 L1844.5,1473.0 L1846.5,1473.0 L1848.5,1473.0 L1850.5,1473.0 L1852.5,1473.0 L1854.5,1473.0 L1856.5,1473.0 L1858.5,1473.0 L1860.5,1473.0 L1862.5,1473.0 L1864.5,1473.0 L1866.5,1473.0 L1868.5,1473.0 L1870.5,1473.0 L1872.5,1473.0 L1874.5,1473.0 L1876.5,1473.0 L1878.5,1473.0 L1880.5,1473.0 L1882.5,1473.0 L1884.5,1473.0 L1886.5,1473.0 L1888.5,1473.0 L1890.5,1473.0 L1892.5,1473.0 L1894.5,1473.0 L1896.5,1473.0 L1898.5,1473.0 L1900.5,1473.0 L1902.5,1473.0 L1904.5,1473.0 L1906.5,1473.0 L1908.5,1473.0 L1910.5,1473.0 L1912.5,1473.0 L1914.5,1473.0 L1916.5,1473.0 L1918.5,1473.0 L1920.5,1473.0 L1922.5,1473.0 L1924.5,1473.0 L1926.5,1473.0 L1928.5,1473.0 L1930.5,1473.0 L1932.5,1473.0 L1934.5,1473.0 L1936.5,1473.0 L1938.5,1473.0 L1940.5,1473.0 L1942.5,1473.0 L1944.5,1473.0 L1946.5,1473.0 L1948.5,1473.0 L1950.5,1473.0 L1952.5,1473.0 L1954.5,1473.0 L1956.5,1473.0 L1958.5,1473.0 L1960.5,1473.0 L1962.5,1473.0 L1964.5,1473.0 L1966.5,1473.0 L1968.5,1473.0 L1970.5,1473.0 L1972.5,1473.0 L1974.5,1473.0 L1976.5,1473.0 L1978.5,1473.0 L1980.5,1473.0 L1982.5,1473.0 L1984.5,1473.0 L1986.5,1473.0 L1988.5,1473.0 L1990.5,1473.0 L1992.5,1473.0 L1994.5,1473.0 L1996.5,1473.0 L1998.5,1473.0 L2000.5,1473.0 L2002.5,1473.0 L2004.5,1473.0" stroke="#f4a460" stroke-width="14" />
<path d="M847.5,1468.2 L849.5,1468.2 L851.5,1468.3 L853.5,1468.3 L855.5,1468.3 L857.5,1468.3 L859.5,1468.3 L861.5,1468.3 L863.5,1468.3 L865.5,1468.3 L867.5,1468.3 L869.5,1468.3 L871.5,1468.3 L873.5,1468.3 L875.5,1468.4 L877.5,1468.4 L879.5,1468.4 L881.5,1468.4 L883.5,1468.4 L885.5,1468.4 L887.5,1468.4 L889.5,1468.4 L891.5,1468.4 L893.5,1468.4 L895.5,1468.4 L897.5,1468.4 L899.5,1468.4 L901.5,1468.4 L903.5,1468.4 L905.5,1468.4 L907.5,1468.4 L909.5,1468.4 L911.5,1468.4 L913.5,1468.4 L915.5,1468.4 L917.5,1468.4 L919.5,1468.4 L921.5,1468.4 L923.5,1468.4 L925.5,1468.4 L927.5,1468.4 L929.5,1468.4 L931.5,1468.4 L933.5,1468.4 L935.5,1468.4 L937.5,1468.4 L939.5,1468.4 L941.5,1468.3 L943.5,1468.3 L945.5,1468.3 L947.5,1468.3 L949.5,1468.3 L951.5,1468.3 L953.5,1468.2 L955.5,1468.2 L957.5,1468.2 L959.5,1468.2 L961.5,1468.2 L963.5,1468.1 L965.5,1468.1 L967.5,1468.1 L969.5,1468.0 L971.5,1468.0 L973.5,1468.0 L975.5,1467.9 L977.5,1467.9 L979.5,1467.8 L981.5,1467.8 L983.5,1467.7 L985.5,1467.7 L987.5,1467.6 L989.5,1467.5 L991.5,1467.5 L993.5,1467.4 L995.5,1467.3 L997.5,1467.2 L999.5,1467.2 L1001.5,1467.1 L1003.5,1467.0 L1005.5,1466.9 L1007.5,1466.8 L1009.5,1466.7 L1011.5,1466.5 L1013.5,1466.4 L1015.5,1466.3 L1017.5,1466.1 L1019.5,1466.0 L1021.5,1465.8 L1023.5,1465.7 L1025.5,1465.5 L1027.5,1465.3 L1029.5,1465.1 L1031.5,1464.9 L1033.5,1464.7 L1035.5,1464.5 L1037.5,1464.3 L1039.5,1464.1 L1041.5,1463.8 L1043.5,1463.5 L1045.5,1463.3 L1047.5,1463.0 L1049.5,1462.7 L1051.5,1462.4 L1053.5,1462.0 L1055.5,1461.7 L1057.5,1461.3 L1059.5,1461.0 L1061.5,1460.6 L1063.5,1460.2 L1065.5,1459.8 L1067.5,1459.3 L1069.5,1458.9 L1071.5,1458.4 L1073.5,1457.9 L1075.5,1457.4 L1077.5,1456.8 L1079.5,1456.3 L1081.5,1455.7 L1083.5,1455.1 L1085.5,1454.5 L1087.5,1453.8 L1089.5,1453.1 L1091.5,1452.4 L1093.5,1451.7 L1095.5,1451.0 L1097.5,1450.2 L1099.5,1449.4 L1101.5,1448.6 L1103.5,1447.7 L1105.5,1446.8 L1107.5,1445.9 L1109.5,1444.9 L1111.5,1444.0 L1113.5,1443.0 L1115.5,1441.9 L1117.5,1440.8 L1119.5,1439.7 L1121.5,1438.6 L1123.5,1437.4 L1125.5,1436.2 L1127.5,1435.0 L1129.5,1433.7 L1131.5,1432.4 L1133.5,1431.0 L1135.5,1429.7 L1137.5,1428.2 L1139.5,1426.8 L1141.5,1425.3 L1143.5,1423.7 L1145.5,1422.2 L1147.5,1420.6 L1149.5,1418.9 L1151.5,1417.2 L1153.5,1415.5 L1155.5,1413.8 L1157.5,1412.0 L1159.5,1410.1 L1161.5,1408.2 L1163.5,1406.3 L1165.5,1404.4 L1167.5,1402.4 L1169.5,1400.4 L1171.5,1398.3 L1173.5,1396.2 L1175.5,1394.1 L1177.5,1391.9 L1179.5,1389.7 L1181.5,1387.5 L1183.5,1385.2 L1185.5,1382.9 L1187.5,1380.5 L1189.5,1378.2 L1191.5,1375.8 L1193.5,1373.3 L1195.5,1370.9 L1197.5,1368.4 L1199.5,1365.9 L1201.5,1363.4 L1203.5,1360.8 L1205.5,1358.2 L1207.5,1355.6 L1209.5,1353.0 L1211.5,1350.3 L1213.5,1347.7 L1215.5,1345.0 L1217.5,1342.3 L1219.5,1339.6 L1221.5,1336.9 L1223.5,1334.1 L1225.5,1331.4 L1227.5,1328.7 L1229.5,1325.9 L1231.5,1323.2 L1233.5,1320.4 L1235.5,1317.7 L1237.5,1314.9 L1239.5,1312.2 L1241.5,1309.5 L1243.5,1306.7 L1245.5,1304.0 L1247.5,1301.3 L1249.5,1298.7 L1251.5,1296.0 L1253.5,1293.4 L1255.5,1290.8 L1257.5,1288.2 L1259.5,1285.6 L1261.5,1283.1 L1263.5,1280.6 L1265.5,1278.1 L1267.5,1275.7 L1269.5,1273.3 L1271.5,1271.0 L1273.5,1268.7 L1275.5,1266.4 L1277.5,1264.2 L1279.5,1262.0 L1281.5,1259.9 L1283.5,1257.9 L1285.5,1255.8 L1287.5,1253.9 L1289.5,1252.0 L1291.5,1250.2 L1293.5,1248.4 L1295.5,1246.7 L1297.5,1245.1 L1299.5,1243.5 L1301.5,1242.0 L1303.5,1240.6 L1305.5,1239.3 L1307.5,1238.0 L1309.5,1236.8 L1311.5,1235.7 L1313.5,1234.6 L1315.5,1233.7 L1317.5,1232.8 L1319.5,1232.0 L1321.5,1231.3 L1323.5,1230.6 L1325.5,1230.1 L1327.5,1229.6 L1329.5,1229.2 L1331.5,1228.9 L1333.5,1228.7 L1335.5,1228.5 L1337.5,1228.5 L1339.5,1228.5 L1341.5,1228.7 L1343.5,1228.9 L1345.5,1229.2 L1347.5,1229.6 L1349.5,1230.0 L1351.5,1230.6 L1353.5,1231.2 L1355.5,1231.9 L1357.5,1232.7 L1359.5,1233.6 L1361.5,1234.6 L1363.5,1235.6 L1365.5,1236.7 L1367.5,1237.9 L1369.5,1239.2 L1371.5,1240.6 L1373.5,1242.0 L1375.5,1243.5 L1377.5,1245.0 L1379.5,1246.7 L1381.5,1248.4 L1383.5,1250.2 L1385.5,1252.0 L1387.5,1253.9 L1389.5,1255.8 L1391.5,1257.9 L1393.5,1259.9 L1395.5,1262.0 L1397.5,1264.2 L1399.5,1266.5 L1401.5,1268.7 L1403.5,1271.1 L1405.5,1273.4 L1407.5,1275.8 L1409.5,1278.3 L1411.5,1280.8 L1413.5,1283.3 L1415.5,1285.8 L1417.5,1288.4 L1419.5,1291.0 L1421.5,1293.7 L1423.5,1296.3 L1425.5,1299.0 L1427.5,1301.7 L1429.5,1304.5 L1431.5,1307.2 L1433.5,1309.9 L1435.5,1312.7 L1437.5,1315.5 L1439.5,1318.3 L1441.5,1321.0 L1443.5,1323.8 L1445.5,1326.6 L1447.5,1329.4 L1449.5,1332.2 L1451.5,1335.0 L1453.5,1337.7 L1455.5,1340.5 L1457.5,1343.2 L1459.5,1346.0 L1461.5,1348.7 L1463.5,1351.4 L1465.5,1354.1 L1467.5,1356.8 L1469.5,1359.4 L1471.5,1362.1 L1473.5,1364.7 L1475.5,1367.3 L1477.5,1369.8 L1479.5,1372.4 L1481.5,1374.9 L1483.5,1377.4 L1485.5,1379.8 L1487.5,1382.2 L1489.5,1384.6 L1491.5,1387.0 L1493.5,1389.3 L1495.5,1391.6 L1497.5,1393.9 L1499.5,1396.1 L1501.5,1398.3 L1503.5,1400.4 L1505.5,1402.5 L1507.5,1404.6 L1509.5,1406.6 L1511.5,1408.7 L1513.5,1410.6 L1515.5,1412.5 L1517.5,1414.4 L1519.5,1416.3 L1521.5,1418.1 L1523.5,1419.9 L1525.5,1421.6 L1527.5,1423.3 L1529.5,1425.0 L1531.5,1426.6 L1533.5,1428.2 L1535.5,1429.8 L1537.5,1431.3 L1539.5,1432.8 L1541.5,1434.2 L1543.5,1435.6 L1545.5,1437.0 L1547.5,1438.3 L1549.5,1439.6 L1551.5,1440.9 L1553.5,1442.1 L1555.5,1443.3 L1557.5,1444.4 L1559.5,1445.6 L1561.5,1446.7 L1563.5,1447.7 L1565.5,1448.8 L1567.5,1449.8 L1569.5,1450.7 L1571.5,1451.7 L1573.5,1452.6 L1575.5,1453.5 L1577.5,1454.3 L1579.5,1455.1 L1581.5,1455.9 L1583.5,1456.7 L1585.5,1457.5 L1587.5,1458.2 L1589.5,1458.9 L1591.5,1459.6 L1593.5,1460.2 L1595.5,1460.8 L1597.5,1461.5 L1599.5,1462.0 L1601.5,1462.6 L1603.5,1463.1 L1605.5,1463.7 L1607.5,1464.2 L1609.5,1464.7 L1611.5,1465.1 L1613.5,1465.6 L1615.5,1466.0 L1617.5,1466.4 L1619.5,1466.8 L1621.5,1467.2 L1623.5,1467.6 L1625.5,1467.9 L1627.5,1468.3 L1629.5,1468.6 L1631.5,1468.9 L1633.5,1469.2 L1635.5,1469.5 L1637.5,1469.8 L1639.5,1470.1 L1641.5,1470.3 L1643.5,1470.6 L1645.5,1470.8 L1647.5,1471.0 L1649.5,1471.2 L1651.5,1471.4 L1653.5,1471.6 L1655.5,1471.8 L1657.5,1472.0 L1659.5,1472.2 L1661.5,1472.4 L1663.5,1472.5 L1665.5,1472.7 L1667.5,1472.8 L1669.5,1473.0 L1671.5,1473.1 L1673.5,1473.3 L1675.5,1473.4 L1677.5,1473.5 L1679.5,1473.7 L1681.5,1473.8 L1683.5,1473.9 L1685.5,1474.0 L1687.5,1474.1 L1689.5,1474.2 L1691.5,1474.3 L1693.5,1474.4 L1695.5,1474.5 L1697.5,1474.5 L1699.5,1474.6 L1701.5,1474.7 L1703.5,1474.7 L1705.5,1474.8 L1707.5,1474.9 L1709.5,1474.9 L1711.5,1475.0 L1713.5,1475.0 L1715.5,1475.0 L1717.5,1475.1 L1719.5,1475.1 L1721.5,1475.1 L1723.5,1475.2 L1725.5,1475.2 L1727.5,1475.2 L1729.5,1475.2 L1731.5,1475.3 L1733.5,1475.3 L1735.5,1475.3 L1737.5,1475.3 L1739.5,1475.3 L1741.5,1475.4 L1743.5,1475.4 L1745.5,1475.4 L1747.5,1475.4 L1749.5,1475.4 L1751.5,1475.4 L1753.5,1475.4 L1755.5,1475.4 L1757.5,1475.5 L1759.5,1475.5 L1761.5,1475.5 L1763.5,1475.5" stroke="#00dc00" stroke-width="14" />
<path d="M132.5,1464.2 L134.5,1464.5 L136.5,1464.8 L138.5,1465.2 L140.5,1465.5 L142.5,1465.7 L144.5,1465.9 L146.5,1466.0 L148.5,1466.0 L150.5,1466.0 L152.5,1466.0 L154.5,1466.0 L156.5,1466.0 L158.5,1466.0 L160.5,1466.0 L162.5,1466.0 L164.5,1466.0 L166.5,1466.0 L168.5,1466.0 L170.5,1466.0 L172.5,1466.0 L174.5,1466.0 L176.5,1466.0 L178.5,1466.0 L180.5,1466.0 L182.5,1466.0 L184.5,1466.0 L186.5,1466.0 L188.5,1466.0 L190.5,1466.0 L192.5,1466.0 L194.5,1466.0 L196.5,1466.0 L198.5,1466.0 L200.5,1466.0 L202.5,1466.0 L204.5,1466.0 L206.5,1466.0 L208.5,1466.0 L210.5,1466.0 L212.5,1466.0 L214.5,1466.0 L216.5,1466.0 L218.5,1466.0 L220.5,1466.0 L222.5,1466.0 L224.5,1466.0 L226.5,1466.0 L228.5,1466.0 L230.5,1466.0 L232.5,1466.0 L234.5,1466.0 L236.5,1466.0 L238.5,1466.0 L240.5,1466.0 L242.5,1466.0 L244.5,1466.0 L246.5,1466.0 L248.5,1466.0 L250.5,1466.0 L252.5,1466.0 L254.5,1466.0 L256.5,1466.0 L258.5,1466.0 L260.5,1466.0 L262.5,1466.0 L264.5,1466.0 L266.5,1466.0 L268.5,1466.0 L270.5,1466.0 L272.5,1466.0 L274.5,1466.0 L276.5,1466.0 L278.5,1466.0 L280.5,1466.0 L282.5,1466.0 L284.5,1466.0 L286.5,1466.0 L288.5,1466.0 L290.5,1466.0 L292.5,1466.0 L294.5,1466.0 L296.5,1466.0 L298.5,1466.0 L300.5,1466.0 L302.5,1466.0 L304.5,1466.0 L306.5,1466.0 L308.5,1466.0 L310.5,1466.0 L312.5,1466.0 L314.5,1466.0 L316.5,1466.0 L318.5,1466.0 L320.5,1466.0 L322.5,1466.0 L324.5,1466.0 L326.5,1466.0 L328.5,1466.0 L330.5,1466.0 L332.5,1466.0 L334.5,1466.0 L336.5,1466.0 L338.5,1466.0 L340.5,1466.0 L342.5,1466.0 L344.5,1466.0 L346.5,1466.0 L348.5,1466.0 L350.5,1466.0 L352.5,1466.0 L354.5,1466.0 L356.5,1466.0 L358.5,1466.0 L360.5,1466.0 L362.5,1466.0 L364.5,1466.0 L366.5,1466.0 L368.5,1466.0 L370.5,1466.0 L372.5,1466.0 L374.5,1466.0 L376.5,1466.0 L378.5,1466.0 L380.5,1466.0 L382.5,1466.0 L384.5,1466.0 L386.5,1466.0 L388.5,1466.0 L390.5,1466.0 L392.5,1466.0 L394.5,1466.0 L396.5,1466.0 L398.5,1466.0 L400.5,1466.0 L402.5,1466.0 L404.5,1466.0 L406.5,1466.0 L408.5,1466.0 L410.5,1466.0 L412.5,1466.0 L414.5,1466.0 L416.5,1466.0 L418.5,1466.0 L420.5,1466.0 L422.5,1466.0 L424.5,1466.0 L426.5,1466.0 L428.5,1466.0 L430.5,1466.0 L432.5,1466.0 L434.5,1466.0 L436.5,1466.0 L438.5,1466.0 L440.5,1466.0 L442.5,1466.0 L444.5,1466.0 L446.5,1466.0 L448.5,1466.0 L450.5,1466.0 L452.5,1466.0 L454.5,1466.0 L456.5,1466.0 L458.5,1466.0 L460.5,1466.0 L462.5,1466.0 L464.5,1466.0 L466.5,1466.0 L468.5,1466.0 L470.5,1466.0 L472.5,1466.0 L474.5,1466.0 L476.5,1466.0 L478.5,1466.0 L480.5,1466.0 L482.5,1466.0 L484.5,1466.0 L486.5,1466.0 L488.5,1466.0 L490.5,1466.0 L492.5,1466.0 L494.5,1466.0 L496.5,1466.0 L498.5,1466.0 L500.5,1466.0 L502.5,1466.0 L504.5,1466.0 L506.5,1466.0 L508.5,1466.0 L510.5,1466.0 L512.5,1466.0 L514.5,1466.0 L516.5,1466.0 L518.5,1466.0 L520.5,1466.0 L522.5,1466.0 L524.5,1466.0 L526.5,1466.0 L528.5,1466.0 L530.5,1466.0 L532.5,1466.0 L534.5,1466.0 L536.5,1466.0 L538.5,1466.0 L540.5,1466.0 L542.5,1466.0 L544.5,1466.0 L546.5,1466.0 L548.5,1466.0 L550.5,1466.0 L552.5,1466.0 L554.5,1466.0 L556.5,1466.0 L558.5,1466.0 L560.5,1466.0 L562.5,1466.0 L564.5,1466.0 L566.5,1466.0 L568.5,1466.0 L570.5,1466.0 L572.5,1466.0 L574.5,1466.0 L576.5,1466.0 L578.5,1466.0 L580.5,1466.0 L582.5,1466.0 L584.5,1466.0 L586.5,1466.0 L588.5,1466.0 L590.5,1466.0 L592.5,1466.0 L594.5,1466.0 L596.5,1466.0 L598.5,1466.0 L600.5,1466.0 L602.5,1466.0 L604.5,1466.0 L606.5,1466.0 L608.5,1466.0 L610.5,1466.0 L612.5,1466.0 L614.5,1466.0 L616.5,1466.0 L618.5,1466.0 L620.5,1466.0 L622.5,1466.0 L624.5,1466.0 L626.5,1466.0 L628.5,1466.0 L630.5,1466.0 L632.5,1466.0 L634.5,1466.0 L636.5,1466.0 L638.5,1466.0 L640.5,1466.0 L642.5,1466.0 L644.5,1466.0 L646.5,1466.0 L648.5,1466.0 L650.5,1466.0 L652.5,1466.0 L654.5,1466.0 L656.5,1466.0 L658.5,1466.0 L660.5,1466.0 L662.5,1466.0 L664.5,1466.0 L666.5,1466.0 L668.5,1466.0 L670.5,1466.0 L672.5,1466.0 L674.5,1466.0 L676.5,1466.0 L678.5,1466.0 L680.5,1466.0 L682.5,1466.0 L684.5,1466.0 L686.5,1466.0 L688.5,1466.0 L690.5,1466.0 L692.5,1466.0 L694.5,1466.0 L696.5,1466.0 L698.5,1466.0 L700.5,1466.0 L702.5,1466.0 L704.5,1466.0 L706.5,1466.0 L708.5,1466.0 L710.5,1466.0 L712.5,1466.0 L714.5,1466.0 L716.5,1466.0 L718.5,1466.0 L720.5,1466.0 L722.5,1466.0 L724.5,1466.0 L726.5,1466.0 L728.5,1466.0 L730.5,1466.0 L732.5,1466.0 L734.5,1466.0 L736.5,1466.0 L738.5,1466.0 L740.5,1466.0 L742.5,1466.0 L744.5,1466.0 L746.5,1466.0 L748.5,1466.0 L750.5,1466.0 L752.5,1466.0 L754.5,1466.0 L756.5,1466.0 L758.5,1466.0 L760.5,1466.0 L762.5,1466.0 L764.5,1466.0 L766.5,1466.0 L768.5,1466.0 L770.5,1466.0 L772.5,1466.0 L774.5,1466.0 L776.5,1466.0 L778.5,1466.0 L780.5,1466.0 L782.5,1466.0 L784.5,1466.0 L786.5,1466.0 L788.5,1466.0 L790.5,1466.0 L792.5,1466.0 L794.5,1466.0 L796.5,1466.0 L798.5,1466.1 L800.5,1466.2 L802.5,1466.5 L804.5,1466.9 L806.5,1467.3 L808.5,1467.6 L810.5,1467.9 L812.5,1468.0 L814.5,1468.0 L816.5,1468.0 L818.5,1468.1 L820.5,1468.1 L822.5,1468.1 L824.5,1468.1 L826.5,1468.1 L828.5,1468.1 L830.5,1468.1 L832.5,1468.2 L834.5,1468.2 L836.5,1468.2 L838.5,1468.2 L840.5,1468.2 L842.5,1468.2 L844.5,1468.2 L846.5,1468.2 L848.5,1468.2 L850.5,1468.3 L852.5,1468.3 L854.5,1468.3 L856.5,1468.3 L858.5,1468.3 L860.5,1468.3 L862.5,1468.3 L864.5,1468.3 L866.5,1468.3 L868.5,1468.3 L870.5,1468.3 L872.5,1468.4 L874.5,1468.4 L876.5,1468.4 L878.5,1468.4 L880.5,1468.4 L882.5,1468.4 L884.5,1468.4 L886.5,1468.4 L888.5,1468.4 L890.5,1468.4 L892.5,1468.4 L894.5,1468.4 L896.5,1468.4 L898.5,1468.5 L900.5,1468.5 L902.5,1468.5 L904.5,1468.5 L906.5,1468.5 L908.5,1468.5 L910.5,1468.5 L912.5,1468.5 L914.5,1468.5 L916.5,1468.5 L918.5,1468.5 L920.5,1468.5 L922.5,1468.5 L924.5,1468.5 L926.5,1468.5 L928.5,1468.5 L930.5,1468.5 L932.5,1468.5 L934.5,1468.6 L936.5,1468.6 L938.5,1468.6 L940.5,1468.6 L942.5,1468.6 L944.5,1468.6 L946.5,1468.6 L948.5,1468.6 L950.5,1468.6 L952.5,1468.6 L954.5,1468.6 L956.5,1468.6 L958.5,1468.6 L960.5,1468.6 L962.5,1468.6 L964.5,1468.6 L966.5,1468.6 L968.5,1468.6 L970.5,1468.6 L972.5,1468.6 L974.5,1468.6 L976.5,1468.6 L978.5,1468.6 L980.5,1468.6 L982.5,1468.6 L984.5,1468.6 L986.5,1468.6 L988.5,1468.6 L990.5,1468.6 L992.5,1468.6 L994.5,1468.6 L996.5,1468.7 L998.5,1468.7 L1000.5,1468.7 L1002.5,1468.7 L1004.5,1468.7 L1006.5,1468.7 L1008.5,1468.7 L1010.5,1468.7 L1012.5,1468.7 L1014.5,1468.7 L1016.5,1468.7 L1018.5,1468.7 L1020.5,1468.7 L1022.5,1468.7 L1024.5,1468.7 L1026.5,1468.7 L1028.5,1468.7 L1030.5,1468.7 L1032.5,1468.7 L1034.5,1468.7 L1036.5,1468.7 L1038.5,1468.7 L1040.5,1468.7 L1042.5,1468.7 L1044.5,1468.7 L1046.5,1468.7 L1048.5,1468.7 L1050.5,1468.7 L1052.5,1468.7 L1054.5,1468.7 L1056.5,1468.7 L1058.5,1468.7 L1060.5,1468.7 L1062.5,1468.7 L1064.5,1468.7 L1066.5,1468.7 L1068.5,1468.7 L1070.5,1468.7 L1072.5,1468.7 L1074.5,1468.7 L1076.5,1468.7 L1078.5,1468.7 L1080.5,1468.7 L1082.5,1468.7 L1084.5,1468.7 L1086.5,1468.7 L1088.5,1468.7 L1090.5,1468.7 L1092.5,1468.7 L1094.5,1468.7 L1096.5,1468.7 L1098.5,1468.8 L1100.5,1468.8 L1102.5,1468.8 L1104.5,1468.8 L1106.5,1468.8 L1108.5,1468.8 L1110.5,1468.8 L1112.5,1468.8 L1114.5,1468.8 L1116.5,1468.8 L1118.5,1468.8 L1120.5,1468.8 L1122.5,1468.8 L1124.5,1468.8 L1126.5,1468.8 L1128.5,1468.8 L1130.5,1468.8 L1132.5,1468.8 L1134.5,1468.8 L1136.5,1468.8 L1138.5,1468.8 L1140.5,1468.8 L1142.5,1468.8 L1144.5,1468.8 L1146.5,1468.8 L1148.5,1468.8 L1150.5,1468.8 L1152.5,1468.8 L1154.5,1468.9 L1156.5,1468.9 L1158.5,1468.9 L1160.5,1468.9 L1162.5,1468.9 L1164.5,1468.9 L1166.5,1468.9 L1168.5,1468.9 L1170.5,1468.9 L1172.5,1468.9 L1174.5,1468.9 L1176.5,1468.9 L1178.5,1468.9 L1180.5,1468.9 L1182.5,1468.9 L1184.5,1468.9 L1186.5,1468.9 L1188.5,1469.0 L1190.5,1469.0 L1192.5,1469.0 L1194.5,1469.0 L1196.5,1469.0 L1198.5,1469.0 L1200.5,1469.0 L1202.5,1469.0 L1204.5,1469.0 L1206.5,1469.0 L1208.5,1469.0 L1210.5,1469.0 L1212.5,1469.0 L1214.5,1469.1 L1216.5,1469.1 L1218.5,1469.1 L1220.5,1469.1 L1222.5,1469.1 L1224.5,1469.1 L1226.5,1469.1 L1228.5,1469.1 L1230.5,1469.1 L1232.5,1469.1 L1234.5,1469.1 L1236.5,1469.2 L1238.5,1469.2 L1240.5,1469.2 L1242.5,1469.2 L1244.5,1469.2 L1246.5,1469.2 L1248.5,1469.2 L1250.5,1469.2 L1252.5,1469.2 L1254.5,1469.2 L1256.5,1469.2 L1258.5,1469.2 L1260.5,1469.2 L1262.5,1469.2 L1264.5,1469.2 L1266.5,1469.2 L1268.5,1469.2 L1270.5,1469.2 L1272.5,1469.2 L1274.5,1469.2 L1276.5,1469.2 L1278.5,1469.2 L1280.5,1469.2 L1282.5,1469.2 L1284.5,1469.2 L1286.5,1469.2 L1288.5,1469.2 L1290.5,1469.2 L1292.5,1469.1 L1294.5,1469.1 L1296.5,1469.1 L1298.5,1469.1 L1300.5,1469.0 L1302.5,1469.0 L1304.5,1469.0 L1306.5,1468.9 L1308.5,1468.9 L1310.5,1468.9 L1312.5,1468.8 L1314.5,1468.7 L1316.5,1468.7 L1318.5,1468.6 L1320.5,1468.5 L1322.5,1468.5 L1324.5,1468.4 L1326.5,1468.3 L1328.5,1468.2 L1330.5,1468.1 L1332.5,1468.0 L1334.5,1467.9 L1336.5,1467.8 L1338.5,1467.6 L1340.5,1467.5 L1342.5,1467.3 L1344.5,1467.2 L1346.5,1467.0 L1348.5,1466.8 L1350.5,1466.6 L1352.5,1466.4 L1354.5,1466.2 L1356.5,1466.0 L1358.5,1465.8 L1360.5,1465.5 L1362.5,1465.3 L1364.5,1465.0 L1366.5,1464.7 L1368.5,1464.5 L1370.5,1464.1 L1372.5,1463.8 L1374.5,1463.5 L1376.5,1463.2 L1378.5,1462.8 L1380.5,1462.4 L1382.5,1462.0 L1384.5,1461.6 L1386.5,1461.2 L1388.5,1460.8 L1390.5,1460.3 L1392.5,1459.8 L1394.5,1459.4 L1396.5,1458.9 L1398.5,1458.4 L1400.5,1457.8 L1402.5,1457.3 L1404.5,1456.7 L1406.5,1456.2 L1408.5,1455.6 L1410.5,1455.0 L1412.5,1454.4 L1414.5,1453.7 L1416.5,1453.1 L1418.5,1452.4 L1420.5,1451.8 L1422.5,1451.1 L1424.5,1450.4 L1426.5,1449.7 L1428.5,1449.0 L1430.5,1448.2 L1432.5,1447.5 L1434.5,1446.8 L1436.5,1446.0 L1438.5,1445.3 L1440.5,1444.5 L1442.5,1443.8 L1444.5,1443.0 L1446.5,1442.2 L1448.5,1441.5 L1450.5,1440.7 L1452.5,1439.9 L1454.5,1439.2 L1456.5,1438.4 L1458.5,1437.6 L1460.5,1436.9 L1462.5,1436.1 L1464.5,1435.4 L1466.5,1434.7 L1468.5,1434.0 L1470.5,1433.3 L1472.5,1432.6 L1474.5,1431.9 L1476.5,1431.2 L1478.5,1430.6 L1480.5,1430.0 L1482.5,1429.4 L1484.5,1428.8 L1486.5,1428.2 L1488.5,1427.7 L1490.5,1427.2 L1492.5,1426.7 L1494.5,1426.2 L1496.5,1425.8 L1498.5,1425.4 L1500.5,1425.0 L1502.5,1424.6 L1504.5,1424.3 L1506.5,1424.0 L1508.5,1423.8 L1510.5,1423.6 L1512.5,1423.4 L1514.5,1423.2 L1516.5,1423.1 L1518.5,1423.0 L1520.5,1423.0 L1522.5,1423.0 L1524.5,1423.0 L1526.5,1423.1 L1528.5,1423.2 L1530.5,1423.3 L1532.5,1423.5 L1534.5,1423.7 L1536.5,1423.9 L1538.5,1424.1 L1540.5,1424.4 L1542.5,1424.8 L1544.5,1425.1 L1546.5,1425.5 L1548.5,1426.0 L1550.5,1426.4 L1552.5,1426.9 L1554.5,1427.4 L1556.5,1427.9 L1558.5,1428.5 L1560.5,1429.1 L1562.5,1429.7 L1564.5,1430.4 L1566.5,1431.0 L1568.5,1431.7 L1570.5,1432.4 L1572.5,1433.1 L1574.5,1433.8 L1576.5,1434.6 L1578.5,1435.3 L1580.5,1436.1 L1582.5,1436.9 L1584.5,1437.7 L1586.5,1438.5 L1588.5,1439.3 L1590.5,1440.1 L1592.5,1441.0 L1594.5,1441.8 L1596.5,1442.6 L1598.5,1443.4 L1600.5,1444.3 L1602.5,1445.1 L1604.5,1445.9 L1606.5,1446.8 L1608.5,1447.6 L1610.5,1448.4 L1612.5,1449.2 L1614.5,1450.0 L1616.5,1450.8 L1618.5,1451.6 L1620.5,1452.4 L1622.5,1453.1 L1624.5,1453.9 L1626.5,1454.6 L1628.5,1455.4 L1630.5,1456.1 L1632.5,1456.8 L1634.5,1457.5 L1636.5,1458.2 L1638.5,1458.8 L1640.5,1459.5 L1642.5,1460.1 L1644.5,1460.8 L1646.5,1461.4 L1648.5,1462.0 L1650.5,1462.5 L1652.5,1463.1 L1654.5,1463.6 L1656.5,1464.2 L1658.5,1464.7 L1660.5,1465.2 L1662.5,1465.7 L1664.5,1466.1 L1666.5,1466.6 L1668.5,1467.0 L1670.5,1467.5 L1672.5,1467.9 L1674.5,1468.3 L1676.5,1468.7 L1678.5,1469.0 L1680.5,1469.4 L1682.5,1469.7 L1684.5,1470.1 L1686.5,1470.4 L1688.5,1470.7 L1690.5,1471.0 L1692.5,1471.2 L1694.5,1471.5 L1696.5,1471.8 L1698.5,1472.0 L1700.5,1472.2 L1702.5,1472.4 L1704.5,1472.6 L1706.5,1472.8 L1708.5,1473.0 L1710.5,1473.2 L1712.5,1473.3 L1714.5,1473.5 L1716.5,1473.6 L1718.5,1473.8 L1720.5,1473.9 L1722.5,1474.0 L1724.5,1474.1 L1726.5,1474.2 L1728.5,1474.3 L1730.5,1474.4 L1732.5,1474.5 L1734.5,1474.5 L1736.5,1474.6 L1738.5,1474.7 L1740.5,1474.8 L1742.5,1474.8 L1744.5,1474.9 L1746.5,1474.9 L1748.5,1475.0 L1750.5,1475.0 L1752.5,1475.1 L1754.5,1475.1 L1756.5,1475.1 L1758.5,1475.2 L1760.5,1475.2 L1762.5,1475.2 L1764.5,1475.3 L1766.5,1475.3 L1768.5,1475.3 L1770.5,1475.3 L1772.5,1475.4 L1774.5,1475.4 L1776.5,1475.4 L1778.5,1475.4 L1780.5,1475.4 L1782.5,1475.5 L1784.5,1475.5 L1786.5,1475.5 L1788.5,1475.5 L1790.5,1475.5 L1792.5,1475.5 L1794.5,1475.5 L1796.5,1475.5 L1798.5,1475.5 L1800.5,1475.5 L1802.5,1475.6 L1804.5,1475.6 L1806.5,1475.6 L1808.5,1475.6 L1810.5,1475.6 L1812.5,1475.6 L1814.5,1475.6 L1816.5,1475.6 L1818.5,1475.6 L1820.5,1475.6 L1822.5,1475.6 L1824.5,1475.6 L1826.5,1475.6 L1828.5,1475.6 L1830.5,1475.6 L1832.5,1475.6 L1834.5,1475.6 L1836.5,1475.6 L1838.5,1475.6 L1840.5,1475.6 L1842.5,1475.6 L1844.5,1475.6 L1846.5,1475.6 L1848.5,1475.6 L1850.5,1475.6 L1852.5,1475.6 L1854.5,1475.6 L1856.5,1475.7 L1858.5,1475.7 L1860.5,1475.7 L1862.5,1475.7 L1864.5,1475.7 L1866.5,1475.7 L1868.5,1475.7 L1870.5,1475.7 L1872.5,1475.7 L1874.5,1475.7 L1876.5,1475.7 L1878.5,1475.7 L1880.5,1475.7 L1882.5,1475.7 L1884.5,1475.7 L1886.5,1475.7 L1888.5,1475.7 L1890.5,1475.7 L1892.5,1475.7 L1894.5,1475.7 L1896.5,1475.7 L1898.5,1475.7 L1900.5,1475.7 L1902.5,1475.7 L1904.5,1475.7 L1906.5,1475.7 L1908.5,1475.7 L1910.5,1475.7 L1912.5,1475.7 L1914.5,1475.7 L1916.5,1475.7 L1918.5,1475.7 L1920.5,1475.7 L1922.5,1475.7 L1924.5,1475.7 L1926.5,1475.7 L1928.5,1475.7 L1930.5,1475.7 L1932.5,1475.7 L1934.5,1475.7 L1936.5,1475.7 L1938.5,1475.7 L1940.5,1475.7 L1942.5,1475.7 L1944.5,1475.7 L1946.5,1475.7 L1948.5,1475.7 L1950.5,1475.7 L1952.5,1475.7 L1954.5,1475.7 L1956.5,1475.7 L1958.5,1475.7 L1960.5,1475.7 L1962.5,1475.7 L1964.5,1475.7 L1966.5,1475.7 L1968.5,1475.7 L1970.5,1475.7 L1972.5,1475.7 L1974.5,1475.7 L1976.5,1475.7 L1978.5,1475.7 L1980.5,1475.7 L1982.5,1475.7 L1984.5,1475.7 L1986.5,1475.7 L1988.5,1475.7 L1990.5,1475.7 L1992.5,1475.7 L1994.5,1475.7 L1996.5,1475.7 L1998.5,1475.7 L2000.5,1475.7 L2002.5,1475.7 L2004.5,1475.7" stroke="#00a0ff" stroke-width="14" />
</g>
<text transform="translate(526.4,1742.2) scale(1,1.02)" font-size="113.35" fill="#000" text-anchor="start">Binding Energy <tspan font-size="107.9" dx="1" dy="-2.4">(</tspan><tspan dx="1" dy="2.4">eV</tspan><tspan font-size="107.9" dx="1" dy="-2.4">)</tspan></text>
<text transform="translate(100.0,1164.9) rotate(-90) scale(1,1.02)" font-size="113.6" fill="#000" text-anchor="start">Intensity <tspan font-size="107.9" dx="1" dy="-2.4">(</tspan><tspan dx="1" dy="2.4">a.u.</tspan><tspan font-size="107.9" dx="1" dy="-2.4">)</tspan></text>
<text transform="translate(225.8,312.0) scale(1,1.05)" font-size="76" fill="#000" text-anchor="start">CNN-1-9-700</text>
<text transform="translate(223.2,696.2) scale(1,1.05)" font-size="76" fill="#000" text-anchor="start">CNN-1-9-800</text>
<text transform="translate(218.2,1058.0) scale(1,1.05)" font-size="76" fill="#000" text-anchor="start">CNN-1-9-900</text>
<text transform="translate(223.2,1430.0) scale(1,1.05)" font-size="76" fill="#000" text-anchor="start">CNN-1-9-1000</text>
<text transform="translate(961.5,169.6) scale(1,1.05)" font-size="75.3" fill="#f4a460" text-anchor="start">C-OH</text>
<text transform="translate(1462.9,109.6) scale(1,1.05)" font-size="75.3" fill="#00dc00" text-anchor="start">-COOH</text>
<text transform="translate(1612.5,211.0) scale(1,1.05)" font-size="76" fill="#00a0ff" text-anchor="start">C=O</text>
<line x1="1073.8" y1="179.2" x2="1118.3" y2="251.7" stroke="#000" stroke-width="3.5"/><polygon points="1128.8,268.8 1111.7,253.4 1122.8,246.6" fill="#000"/>
<line x1="1526.8" y1="115.0" x2="1477.1" y2="174.6" stroke="#000" stroke-width="3.5"/><polygon points="1464.2,190.0 1473.3,168.9 1483.3,177.3" fill="#000"/>
<line x1="1648.0" y1="211.0" x2="1597.0" y2="270.8" stroke="#000" stroke-width="3.5"/><polygon points="1584.0,286.0 1593.3,265.0 1603.2,273.5" fill="#000"/>
</svg>
</body></html>
